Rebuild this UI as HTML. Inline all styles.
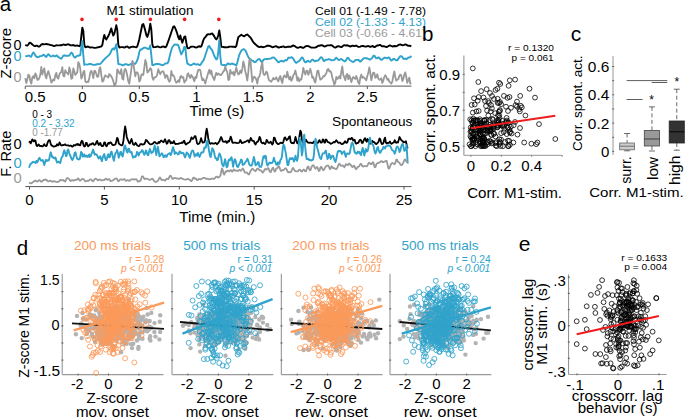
<!DOCTYPE html>
<html><head><meta charset="utf-8"><style>
html,body{margin:0;padding:0;background:#fff;}
svg{display:block;font-family:"Liberation Sans", sans-serif;}
</style></head><body>
<svg width="685" height="418" viewBox="0 0 685 418">
<rect width="685" height="418" fill="#fff"/>
<text x="-0.3" y="11.3" font-size="20.5" fill="#000" >a</text>
<text x="106.6" y="14.9" font-size="13.5" fill="#000" textLength="86.8" lengthAdjust="spacingAndGlyphs" >M1 stimulation</text>
<circle cx="82.0" cy="19.4" r="1.8" fill="#ee1c1c"/>
<circle cx="116.2" cy="19.4" r="1.8" fill="#ee1c1c"/>
<circle cx="150.4" cy="19.4" r="1.8" fill="#ee1c1c"/>
<circle cx="184.6" cy="19.4" r="1.8" fill="#ee1c1c"/>
<circle cx="218.8" cy="19.4" r="1.8" fill="#ee1c1c"/>
<text x="314.9" y="15.0" font-size="10" fill="#000" textLength="111.2" lengthAdjust="spacingAndGlyphs" >Cell 01 (-1.49 - 7.78)</text>
<text x="314.9" y="26.1" font-size="10" fill="#2fa3cb" textLength="111.2" lengthAdjust="spacingAndGlyphs" >Cell 02 (-1.33 - 4.13)</text>
<text x="314.9" y="37.2" font-size="10" fill="#999999" textLength="111.2" lengthAdjust="spacingAndGlyphs" >Cell 03 (-0.66 - 4.61)</text>
<polyline points="25.3,44.9 26.3,45.4 27.3,45.7 28.3,44.7 29.3,43.0 30.3,42.6 31.3,43.5 32.3,44.5 33.3,45.3 34.3,46.0 35.3,46.1 36.3,45.6 37.3,45.8 38.3,46.5 39.3,46.6 40.3,45.7 41.3,44.5 42.3,44.0 43.3,44.3 44.3,44.4 45.3,44.1 46.3,44.0 47.3,44.2 48.3,44.4 49.3,44.7 50.3,45.0 51.3,45.1 52.3,45.4 53.3,45.9 54.3,46.1 55.3,45.7 56.3,45.3 57.3,45.4 58.3,45.4 59.3,45.4 60.3,45.3 61.3,45.3 62.3,45.0 63.3,44.5 64.3,44.6 65.3,45.0 66.3,44.9 67.3,44.4 68.3,44.3 69.3,44.7 70.3,45.2 71.3,45.4 72.3,45.3 73.3,45.0 74.3,45.5 75.3,45.9 76.3,45.6 77.3,45.4 78.3,45.8 79.3,46.2 80.3,45.7 81.3,36.4 82.3,27.6 83.3,30.8 84.3,44.5 85.3,47.3 86.3,47.0 87.3,46.5 88.3,46.7 89.3,47.3 90.3,47.5 91.3,47.4 92.3,47.4 93.3,47.6 94.3,47.9 95.3,47.9 96.3,47.7 97.3,47.4 98.3,47.3 99.3,47.0 100.3,46.6 101.3,46.6 102.3,45.0 103.3,39.5 104.3,34.9 105.3,38.0 106.3,39.6 107.3,37.8 108.3,36.0 109.3,33.8 110.3,31.1 111.3,28.4 112.3,32.4 113.3,35.6 114.3,33.8 115.3,29.6 116.3,25.3 117.3,30.1 118.3,44.7 119.3,47.5 120.3,47.2 121.3,47.1 122.3,47.1 123.3,47.3 124.3,47.5 125.3,47.3 126.3,46.6 127.3,46.5 128.3,47.3 129.3,47.8 130.3,47.3 131.3,46.9 132.3,46.8 133.3,46.8 134.3,46.9 135.3,47.1 136.3,47.3 137.3,46.3 138.3,42.9 139.3,39.2 140.3,34.3 141.3,29.5 142.3,24.8 143.3,24.0 144.3,27.1 145.3,30.8 146.3,35.0 147.3,36.9 148.3,34.2 149.3,29.6 150.3,23.6 151.3,29.3 152.3,44.2 153.3,47.2 154.3,47.1 155.3,47.1 156.3,46.8 157.3,46.5 158.3,46.6 159.3,47.1 160.3,47.4 161.3,47.1 162.3,46.6 163.3,46.5 164.3,46.9 165.3,47.3 166.3,46.5 167.3,43.8 168.3,41.2 169.3,38.3 170.3,35.4 171.3,32.3 172.3,29.5 173.3,26.6 174.3,26.3 175.3,28.4 176.3,30.9 177.3,33.8 178.3,37.4 179.3,39.2 180.3,35.5 181.3,39.4 182.3,42.7 183.3,39.7 184.3,36.9 185.3,36.4 186.3,42.6 187.3,47.9 188.3,48.3 189.3,48.0 190.3,47.1 191.3,46.7 192.3,46.6 193.3,46.6 194.3,46.9 195.3,47.4 196.3,47.6 197.3,47.2 198.3,46.5 199.3,46.3 200.3,46.8 201.3,46.4 202.3,43.6 203.3,40.4 204.3,38.1 205.3,37.2 206.3,35.9 207.3,34.4 208.3,34.3 209.3,34.4 210.3,34.3 211.3,33.6 212.3,33.5 213.3,34.9 214.3,36.4 215.3,38.4 216.3,39.4 217.3,38.1 218.3,35.2 219.3,30.5 220.3,37.3 221.3,46.7 222.3,46.9 223.3,47.0 224.3,47.2 225.3,47.3 226.3,47.4 227.3,47.2 228.3,47.0 229.3,46.7 230.3,46.6 231.3,46.6 232.3,46.7 233.3,46.7 234.3,46.8 235.3,47.2 236.3,46.0 237.3,41.5 238.3,37.3 239.3,36.4 240.3,35.5 241.3,34.8 242.3,35.5 243.3,36.0 244.3,36.2 245.3,35.5 246.3,34.8 247.3,34.5 248.3,35.4 249.3,36.4 250.3,37.2 251.3,38.7 252.3,40.5 253.3,42.2 254.3,43.3 255.3,44.2 256.3,45.1 257.3,45.9 258.3,46.7 259.3,47.1 260.3,46.8 261.3,46.7 262.3,47.0 263.3,47.2 264.3,46.9 265.3,46.6 266.3,46.2 267.3,45.7 268.3,45.6 269.3,45.8 270.3,46.1 271.3,46.6 272.3,47.2 273.3,47.1 274.3,46.6 275.3,46.3 276.3,46.3 277.3,46.8 278.3,47.6 279.3,47.5 280.3,47.0 281.3,47.0 282.3,46.6 283.3,46.4 284.3,46.9 285.3,47.3 286.3,47.1 287.3,46.8 288.3,46.8 289.3,46.7 290.3,46.8 291.3,46.6 292.3,45.9 293.3,45.5 294.3,45.8 295.3,46.5 296.3,47.3 297.3,47.7 298.3,47.7 299.3,47.4 300.3,47.0 301.3,47.1 302.3,47.7 303.3,47.9 304.3,47.2 305.3,46.4 306.3,46.1 307.3,46.0 308.3,46.1 309.3,46.5 310.3,47.1 311.3,47.6 312.3,47.6 313.3,47.6 314.3,47.6 315.3,47.5 316.3,47.2 317.3,46.4 318.3,45.8 319.3,45.7 320.3,45.5 321.3,45.3 322.3,45.3 323.3,45.8 324.3,46.5 325.3,46.4 326.3,45.8 327.3,45.4 328.3,45.4 329.3,45.4 330.3,45.2 331.3,45.2 332.3,45.7 333.3,46.5 334.3,47.3 335.3,47.6 336.3,47.1 337.3,46.4 338.3,46.1 339.3,46.4 340.3,46.9 341.3,47.1 342.3,46.6 343.3,45.6 344.3,45.2 345.3,45.4 346.3,45.5 347.3,45.3 348.3,45.6 349.3,46.2 350.3,46.5 351.3,46.1 352.3,45.7 353.3,45.8 354.3,46.1 355.3,45.8 356.3,45.6 357.3,46.3 358.3,46.9 359.3,46.9 360.3,46.6 361.3,46.2 362.3,45.9 363.3,46.0 364.3,46.3 365.3,46.6 366.3,46.6 367.3,46.1 368.3,46.0 369.3,46.5 370.3,46.9 371.3,46.5 372.3,46.0 373.3,46.4 374.3,47.1 375.3,46.8 376.3,45.8 377.3,45.5 378.3,45.5 379.3,45.0 380.3,45.0 381.3,45.8 382.3,46.3 383.3,46.2 384.3,46.3 385.3,46.7 386.3,47.0 387.3,46.8 388.3,46.2 389.3,45.5 390.3,45.5 391.3,46.0 392.3,46.5 393.3,46.3 394.3,46.0 395.3,46.2 396.3,46.2 397.3,45.8 398.3,45.1 399.3,44.6 400.3,44.4 401.3,44.8 402.3,45.2 403.3,45.1 404.3,44.9 405.3,44.5 406.3,44.6 407.3,45.4 408.3,45.8 409.3,45.6 410.3,45.9 411.3,46.4" fill="none" stroke="#000" stroke-width="1.9" stroke-linejoin="round" />
<polyline points="25.3,55.9 26.3,56.2 27.3,56.1 28.3,55.6 29.3,55.5 30.3,56.7 31.3,56.6 32.3,54.0 33.3,52.4 34.3,53.4 35.3,55.4 36.3,56.7 37.3,57.2 38.3,57.1 39.3,56.5 40.3,56.1 41.3,56.0 42.3,55.7 43.3,54.8 44.3,55.0 45.3,56.4 46.3,56.9 47.3,55.3 48.3,54.2 49.3,55.0 50.3,56.1 51.3,56.5 52.3,56.0 53.3,55.4 54.3,56.3 55.3,56.4 56.3,55.3 57.3,55.9 58.3,57.1 59.3,57.5 60.3,58.4 61.3,58.8 62.3,57.3 63.3,55.7 64.3,55.3 65.3,55.8 66.3,55.8 67.3,55.7 68.3,55.9 69.3,55.6 70.3,54.0 71.3,52.6 72.3,53.2 73.3,55.7 74.3,57.3 75.3,57.5 76.3,56.5 77.3,55.7 78.3,55.8 79.3,55.3 80.3,55.2 81.3,46.9 82.3,41.3 83.3,55.1 84.3,64.8 85.3,64.4 86.3,64.4 87.3,64.6 88.3,64.4 89.3,64.0 90.3,63.9 91.3,64.1 92.3,64.6 93.3,64.9 94.3,64.8 95.3,64.9 96.3,64.5 97.3,64.2 98.3,64.0 99.3,64.1 100.3,63.9 101.3,62.8 102.3,61.6 103.3,60.5 104.3,59.4 105.3,58.3 106.3,57.4 107.3,56.7 108.3,55.7 109.3,54.6 110.3,53.2 111.3,51.0 112.3,49.0 113.3,48.4 114.3,49.6 115.3,47.5 116.3,44.2 117.3,52.9 118.3,63.8 119.3,64.3 120.3,64.4 121.3,64.6 122.3,65.3 123.3,65.3 124.3,64.6 125.3,64.2 126.3,64.2 127.3,64.6 128.3,65.0 129.3,64.9 130.3,64.2 131.3,63.8 132.3,63.5 133.3,63.4 134.3,63.7 135.3,63.8 136.3,62.3 137.3,60.2 138.3,56.9 139.3,52.3 140.3,49.5 141.3,49.6 142.3,48.9 143.3,48.1 144.3,47.6 145.3,47.6 146.3,48.1 147.3,48.5 148.3,49.1 149.3,48.4 150.3,45.5 151.3,55.2 152.3,65.1 153.3,65.1 154.3,64.7 155.3,64.2 156.3,64.0 157.3,63.9 158.3,64.0 159.3,64.2 160.3,64.4 161.3,64.8 162.3,65.2 163.3,65.0 164.3,64.2 165.3,63.5 166.3,63.4 167.3,63.4 168.3,62.0 169.3,57.9 170.3,53.8 171.3,50.0 172.3,47.2 173.3,46.0 174.3,44.6 175.3,44.5 176.3,44.8 177.3,44.6 178.3,45.3 179.3,48.4 180.3,51.7 181.3,54.4 182.3,52.5 183.3,50.4 184.3,46.8 185.3,47.2 186.3,57.3 187.3,63.6 188.3,64.0 189.3,64.7 190.3,65.3 191.3,65.1 192.3,64.5 193.3,63.9 194.3,63.5 195.3,64.1 196.3,64.6 197.3,64.3 198.3,64.3 199.3,65.0 200.3,65.1 201.3,63.4 202.3,61.8 203.3,60.6 204.3,58.5 205.3,55.3 206.3,52.3 207.3,49.3 208.3,46.4 209.3,45.9 210.3,48.0 211.3,49.1 212.3,50.6 213.3,53.3 214.3,56.0 215.3,57.8 216.3,59.4 217.3,58.6 218.3,51.9 219.3,40.2 220.3,56.3 221.3,64.4 222.3,65.0 223.3,65.1 224.3,64.9 225.3,65.4 226.3,65.1 227.3,63.9 228.3,63.4 229.3,64.1 230.3,64.4 231.3,63.7 232.3,63.5 233.3,64.1 234.3,64.3 235.3,65.0 236.3,65.5 237.3,62.6 238.3,58.5 239.3,54.8 240.3,52.6 241.3,50.7 242.3,49.8 243.3,49.2 244.3,49.5 245.3,50.4 246.3,52.3 247.3,54.8 248.3,56.9 249.3,58.6 250.3,59.2 251.3,59.9 252.3,60.9 253.3,61.0 254.3,62.1 255.3,62.1 256.3,61.2 257.3,60.0 258.3,59.2 259.3,59.0 260.3,60.0 261.3,61.8 262.3,61.7 263.3,60.0 264.3,59.2 265.3,59.1 266.3,59.0 267.3,59.2 268.3,58.9 269.3,58.7 270.3,58.6 271.3,58.3 272.3,57.6 273.3,57.4 274.3,57.9 275.3,58.8 276.3,59.8 277.3,61.2 278.3,62.3 279.3,62.0 280.3,61.1 281.3,60.8 282.3,61.0 283.3,61.6 284.3,60.9 285.3,60.0 286.3,60.5 287.3,59.7 288.3,57.7 289.3,57.6 290.3,57.8 291.3,57.3 292.3,57.5 293.3,58.8 294.3,60.5 295.3,62.2 296.3,62.9 297.3,62.1 298.3,61.5 299.3,60.9 300.3,59.7 301.3,58.0 302.3,57.4 303.3,58.8 304.3,61.2 305.3,62.4 306.3,62.0 307.3,60.9 308.3,60.8 309.3,61.9 310.3,61.9 311.3,60.5 312.3,59.6 313.3,60.0 314.3,61.2 315.3,61.2 316.3,60.7 317.3,60.7 318.3,60.3 319.3,59.1 320.3,57.7 321.3,57.1 322.3,58.0 323.3,60.4 324.3,61.2 325.3,59.9 326.3,59.6 327.3,59.7 328.3,59.3 329.3,59.2 330.3,59.6 331.3,60.2 332.3,60.1 333.3,60.1 334.3,60.0 335.3,58.7 336.3,57.7 337.3,58.6 338.3,59.9 339.3,60.0 340.3,59.4 341.3,59.0 342.3,59.7 343.3,60.6 344.3,61.2 345.3,61.3 346.3,59.7 347.3,57.9 348.3,58.0 349.3,59.6 350.3,60.5 351.3,61.0 352.3,61.6 353.3,62.0 354.3,61.4 355.3,60.2 356.3,60.0 357.3,59.9 358.3,59.7 359.3,60.9 360.3,61.6 361.3,60.9 362.3,59.7 363.3,58.8 364.3,58.1 365.3,58.1 366.3,58.3 367.3,58.5 368.3,58.8 369.3,59.5 370.3,59.5 371.3,58.6 372.3,57.7 373.3,56.0 374.3,55.6 375.3,57.2 376.3,58.4 377.3,58.1 378.3,57.4 379.3,57.9 380.3,59.2 381.3,59.9 382.3,59.4 383.3,58.6 384.3,57.7 385.3,57.6 386.3,58.1 387.3,58.2 388.3,57.4 389.3,57.7 390.3,59.4 391.3,60.6 392.3,60.0 393.3,59.0 394.3,58.9 395.3,59.7 396.3,60.4 397.3,60.4 398.3,58.9 399.3,57.2 400.3,56.3 401.3,56.1 402.3,57.0 403.3,58.7 404.3,58.9 405.3,58.5 406.3,59.1 407.3,58.5 408.3,57.5 409.3,57.6 410.3,57.2 411.3,55.9" fill="none" stroke="#2fa3cb" stroke-width="1.9" stroke-linejoin="round" />
<polyline points="25.3,78.1 26.3,83.0 27.3,79.7 28.3,74.6 29.3,75.5 30.3,80.6 31.3,83.7 32.3,77.5 33.3,76.1 34.3,78.3 35.3,73.5 36.3,74.9 37.3,79.9 38.3,79.7 39.3,78.0 40.3,74.8 41.3,67.0 42.3,74.5 43.3,71.0 44.3,68.4 45.3,75.6 46.3,78.3 47.3,73.7 48.3,71.1 49.3,74.5 50.3,77.8 51.3,82.6 52.3,81.3 53.3,79.5 54.3,80.4 55.3,75.4 56.3,72.9 57.3,77.7 58.3,78.7 59.3,74.8 60.3,72.7 61.3,72.1 62.3,67.2 63.3,75.7 64.3,76.4 65.3,70.1 66.3,72.5 67.3,73.0 68.3,74.6 69.3,67.5 70.3,70.5 71.3,78.8 72.3,78.3 73.3,68.3 74.3,71.2 75.3,75.1 76.3,73.6 77.3,72.4 78.3,62.1 79.3,63.9 80.3,69.0 81.3,78.6 82.3,76.9 83.3,72.1 84.3,70.9 85.3,81.2 86.3,82.4 87.3,81.7 88.3,82.0 89.3,78.0 90.3,72.7 91.3,70.7 92.3,73.3 93.3,78.0 94.3,71.0 95.3,71.0 96.3,74.0 97.3,77.0 98.3,76.5 99.3,69.2 100.3,67.2 101.3,75.0 102.3,81.7 103.3,80.9 104.3,77.4 105.3,75.3 106.3,76.3 107.3,76.4 108.3,77.6 109.3,74.0 110.3,75.1 111.3,76.3 112.3,78.3 113.3,81.3 114.3,85.0 115.3,84.7 116.3,81.2 117.3,69.4 118.3,70.8 119.3,73.4 120.3,73.8 121.3,69.2 122.3,78.7 123.3,79.7 124.3,70.7 125.3,68.9 126.3,71.2 127.3,75.8 128.3,81.3 129.3,83.7 130.3,76.6 131.3,69.7 132.3,61.0 133.3,62.8 134.3,69.8 135.3,76.3 136.3,72.3 137.3,72.4 138.3,74.4 139.3,81.5 140.3,80.0 141.3,75.0 142.3,74.1 143.3,75.0 144.3,67.7 145.3,60.0 146.3,62.9 147.3,72.5 148.3,71.6 149.3,70.1 150.3,68.1 151.3,69.5 152.3,77.1 153.3,79.8 154.3,77.5 155.3,77.3 156.3,76.8 157.3,74.2 158.3,69.2 159.3,71.8 160.3,74.2 161.3,72.0 162.3,71.5 163.3,71.3 164.3,74.4 165.3,78.0 166.3,75.1 167.3,75.8 168.3,79.7 169.3,81.7 170.3,80.5 171.3,71.0 172.3,75.5 173.3,75.1 174.3,76.9 175.3,80.8 176.3,82.7 177.3,81.8 178.3,80.2 179.3,82.0 180.3,76.7 181.3,75.9 182.3,77.9 183.3,77.1 184.3,82.6 185.3,80.8 186.3,80.1 187.3,74.6 188.3,73.3 189.3,76.5 190.3,78.0 191.3,74.9 192.3,76.5 193.3,78.4 194.3,81.2 195.3,76.8 196.3,78.0 197.3,73.1 198.3,69.8 199.3,69.7 200.3,70.1 201.3,75.9 202.3,80.2 203.3,78.8 204.3,80.8 205.3,83.5 206.3,79.4 207.3,76.4 208.3,72.5 209.3,69.8 210.3,73.8 211.3,70.5 212.3,75.8 213.3,78.0 214.3,80.0 215.3,75.8 216.3,72.8 217.3,75.0 218.3,73.5 219.3,74.1 220.3,75.2 221.3,74.8 222.3,73.4 223.3,71.5 224.3,70.5 225.3,66.4 226.3,70.2 227.3,72.1 228.3,80.0 229.3,79.4 230.3,69.9 231.3,73.2 232.3,73.7 233.3,71.9 234.3,75.4 235.3,71.8 236.3,67.4 237.3,71.7 238.3,74.5 239.3,73.8 240.3,70.5 241.3,73.0 242.3,68.9 243.3,61.4 244.3,65.1 245.3,71.4 246.3,75.0 247.3,80.5 248.3,72.2 249.3,60.4 250.3,59.3 251.3,70.1 252.3,81.8 253.3,77.8 254.3,76.6 255.3,77.8 256.3,79.4 257.3,83.6 258.3,77.5 259.3,76.8 260.3,72.9 261.3,66.3 262.3,62.6 263.3,73.5 264.3,75.0 265.3,74.1 266.3,71.6 267.3,72.8 268.3,77.9 269.3,80.7 270.3,81.0 271.3,81.7 272.3,79.8 273.3,77.9 274.3,79.4 275.3,78.8 276.3,77.2 277.3,79.8 278.3,81.4 279.3,77.9 280.3,76.0 281.3,80.2 282.3,83.0 283.3,77.4 284.3,75.4 285.3,76.7 286.3,77.7 287.3,71.7 288.3,76.5 289.3,79.5 290.3,76.6 291.3,80.8 292.3,79.0 293.3,75.1 294.3,74.2 295.3,70.5 296.3,74.5 297.3,80.5 298.3,77.5 299.3,81.4 300.3,79.3 301.3,79.5 302.3,74.8 303.3,68.0 304.3,71.7 305.3,74.5 306.3,70.9 307.3,70.7 308.3,74.9 309.3,72.3 310.3,68.9 311.3,72.9 312.3,77.8 313.3,77.0 314.3,80.9 315.3,82.6 316.3,76.9 317.3,71.1 318.3,70.6 319.3,75.8 320.3,79.7 321.3,79.1 322.3,78.2 323.3,76.0 324.3,76.4 325.3,74.8 326.3,73.2 327.3,69.7 328.3,68.9 329.3,71.5 330.3,71.0 331.3,72.7 332.3,77.7 333.3,80.6 334.3,84.7 335.3,82.6 336.3,76.8 337.3,79.0 338.3,78.0 339.3,76.1 340.3,78.5 341.3,71.7 342.3,66.4 343.3,75.0 344.3,77.2 345.3,80.3 346.3,75.0 347.3,73.9 348.3,79.3 349.3,75.3 350.3,78.1 351.3,82.1 352.3,79.0 353.3,77.0 354.3,78.1 355.3,78.9 356.3,76.0 357.3,78.9 358.3,82.5 359.3,84.0 360.3,77.7 361.3,74.5 362.3,77.9 363.3,76.9 364.3,77.8 365.3,79.2 366.3,80.4 367.3,76.0 368.3,72.9 369.3,67.3 370.3,72.8 371.3,80.2 372.3,75.7 373.3,72.6 374.3,72.9 375.3,77.8 376.3,77.0 377.3,74.3 378.3,78.4 379.3,79.8 380.3,79.5 381.3,78.2 382.3,83.0 383.3,80.6 384.3,76.9 385.3,75.2 386.3,76.9 387.3,79.7 388.3,78.9 389.3,81.6 390.3,82.4 391.3,83.6 392.3,81.7 393.3,76.0 394.3,71.3 395.3,77.1 396.3,80.7 397.3,79.7 398.3,79.1 399.3,76.1 400.3,74.6 401.3,75.5 402.3,81.2 403.3,79.1 404.3,74.6 405.3,72.4 406.3,77.2 407.3,82.8 408.3,80.2 409.3,77.7 410.3,83.5 411.3,84.1" fill="none" stroke="#999999" stroke-width="1.8" stroke-linejoin="round" />
<text x="11.4" y="53.3" font-size="15.5" fill="#000" text-anchor="middle" textLength="50.6" lengthAdjust="spacingAndGlyphs" transform="rotate(-90 11.4 53.3)" >Z-score</text>
<text x="13.5" y="50.2" font-size="14.5" fill="#000" textLength="8.0" lengthAdjust="spacingAndGlyphs" >0</text>
<text x="13.5" y="60.5" font-size="14.5" fill="#2fa3cb" textLength="8.0" lengthAdjust="spacingAndGlyphs" >0</text>
<text x="13.5" y="81.6" font-size="14.5" fill="#999999" textLength="8.0" lengthAdjust="spacingAndGlyphs" >0</text>
<line x1="25.30" y1="86.10" x2="411.40" y2="86.10" stroke="#555555" stroke-width="1" />
<line x1="25.30" y1="86.10" x2="25.30" y2="89.10" stroke="#555555" stroke-width="1" />
<text x="24.7" y="102.4" font-size="15" fill="#000" >0.5</text>
<line x1="82.30" y1="86.10" x2="82.30" y2="89.10" stroke="#555555" stroke-width="1" />
<text x="82.3" y="102.4" font-size="15" fill="#000" text-anchor="middle" >0</text>
<line x1="139.30" y1="86.10" x2="139.30" y2="89.10" stroke="#555555" stroke-width="1" />
<text x="139.3" y="102.4" font-size="15" fill="#000" text-anchor="middle" >0.5</text>
<line x1="196.30" y1="86.10" x2="196.30" y2="89.10" stroke="#555555" stroke-width="1" />
<text x="196.3" y="102.4" font-size="15" fill="#000" text-anchor="middle" >1</text>
<line x1="253.30" y1="86.10" x2="253.30" y2="89.10" stroke="#555555" stroke-width="1" />
<text x="253.3" y="102.4" font-size="15" fill="#000" text-anchor="middle" >1.5</text>
<line x1="310.30" y1="86.10" x2="310.30" y2="89.10" stroke="#555555" stroke-width="1" />
<text x="310.3" y="102.4" font-size="15" fill="#000" text-anchor="middle" >2</text>
<line x1="367.30" y1="86.10" x2="367.30" y2="89.10" stroke="#555555" stroke-width="1" />
<text x="367.3" y="102.4" font-size="15" fill="#000" text-anchor="middle" >2.5</text>
<text x="189.6" y="116.3" font-size="15" fill="#000" textLength="54.6" lengthAdjust="spacingAndGlyphs" >Time (s)</text>
<text x="32.2" y="118.4" font-size="10" fill="#000" textLength="19.9" lengthAdjust="spacingAndGlyphs" >0 - 3</text>
<text x="32.2" y="127.0" font-size="10" fill="#2fa3cb" textLength="42.4" lengthAdjust="spacingAndGlyphs" >0.2 - 3.32</text>
<text x="32.2" y="135.6" font-size="10" fill="#999999" textLength="30.6" lengthAdjust="spacingAndGlyphs" >0 -1.77</text>
<text x="332.1" y="126.1" font-size="13.5" fill="#000" textLength="80.2" lengthAdjust="spacingAndGlyphs" >Spontaneous</text>
<text x="11.3" y="153.8" font-size="15" fill="#000" text-anchor="middle" textLength="46.0" lengthAdjust="spacingAndGlyphs" transform="rotate(-90 11.3 153.8)" >F. Rate</text>
<text x="13.4" y="148.6" font-size="15" fill="#000" textLength="8.2" lengthAdjust="spacingAndGlyphs" >0</text>
<text x="13.4" y="168.4" font-size="15" fill="#2fa3cb" textLength="8.2" lengthAdjust="spacingAndGlyphs" >0</text>
<text x="13.4" y="183.4" font-size="15" fill="#999999" textLength="8.2" lengthAdjust="spacingAndGlyphs" >0</text>
<polyline points="29.1,142.8 29.9,141.6 30.7,143.4 31.5,141.8 32.3,139.3 33.1,140.4 33.9,141.4 34.7,140.3 35.5,140.8 36.3,144.7 37.1,146.1 37.9,145.4 38.7,144.4 39.5,145.8 40.3,146.1 41.1,145.9 41.9,146.3 42.7,146.3 43.5,145.5 44.3,144.1 45.1,145.6 45.9,146.1 46.7,145.8 47.5,142.9 48.3,141.1 49.1,140.2 49.9,140.4 50.7,143.9 51.5,145.5 52.3,145.6 53.1,146.4 53.9,146.7 54.7,146.4 55.5,146.2 56.3,145.7 57.1,144.3 57.9,145.4 58.7,145.0 59.5,142.4 60.3,143.8 61.1,145.3 61.9,145.5 62.7,145.1 63.5,145.0 64.3,144.9 65.1,144.3 65.9,145.2 66.7,145.4 67.5,145.3 68.3,145.3 69.1,145.9 69.9,145.8 70.7,145.5 71.5,146.0 72.3,146.7 73.1,146.2 73.9,145.0 74.7,145.3 75.5,145.4 76.3,144.4 77.1,143.9 77.9,145.0 78.7,144.3 79.5,145.3 80.3,145.3 81.1,142.2 81.9,140.8 82.7,141.7 83.5,145.1 84.3,146.5 85.1,146.1 85.9,142.9 86.7,142.8 87.5,145.5 88.3,146.2 89.1,145.4 89.9,144.2 90.7,144.5 91.5,144.4 92.3,143.3 93.1,143.2 93.9,144.7 94.7,144.9 95.5,144.3 96.3,142.3 97.1,140.9 97.9,143.2 98.7,145.0 99.5,143.9 100.3,142.9 101.1,145.2 101.9,146.1 102.7,146.2 103.5,145.1 104.3,142.3 105.1,142.6 105.9,145.7 106.7,146.2 107.5,144.6 108.3,142.9 109.1,143.7 109.9,142.6 110.7,142.3 111.5,143.4 112.3,144.7 113.1,145.1 113.9,145.0 114.7,144.8 115.5,144.3 116.3,141.6 117.1,137.8 117.9,139.0 118.7,143.1 119.5,144.2 120.3,144.6 121.1,145.2 121.9,145.5 122.7,144.5 123.5,140.2 124.3,132.3 125.1,126.5 125.9,130.5 126.7,136.7 127.5,139.2 128.3,141.0 129.1,143.0 129.9,143.5 130.7,141.0 131.5,139.0 132.3,141.7 133.1,144.3 133.9,144.9 134.7,144.4 135.5,142.8 136.3,143.9 137.1,145.3 137.9,145.8 138.7,146.2 139.5,145.7 140.3,144.2 141.1,144.0 141.9,144.4 142.7,144.5 143.5,144.4 144.3,144.0 145.1,142.5 145.9,140.0 146.7,140.4 147.5,141.4 148.3,142.4 149.1,143.4 149.9,144.1 150.7,144.4 151.5,144.2 152.3,143.9 153.1,143.5 153.9,142.3 154.7,142.0 155.5,142.5 156.3,143.5 157.1,143.7 157.9,143.3 158.7,142.0 159.5,142.8 160.3,141.5 161.1,140.5 161.9,141.1 162.7,141.8 163.5,142.3 164.3,140.7 165.1,139.3 165.9,141.5 166.7,143.7 167.5,143.2 168.3,140.5 169.1,140.1 169.9,141.3 170.7,143.3 171.5,142.2 172.3,143.1 173.1,142.9 173.9,141.0 174.7,143.2 175.5,144.0 176.3,143.9 177.1,143.8 177.9,143.9 178.7,143.6 179.5,143.3 180.3,143.2 181.1,143.1 181.9,142.4 182.7,142.9 183.5,141.3 184.3,140.7 185.1,143.4 185.9,144.5 186.7,144.0 187.5,143.2 188.3,143.0 189.1,142.4 189.9,141.7 190.7,139.8 191.5,137.4 192.3,138.8 193.1,138.9 193.9,137.6 194.7,136.1 195.5,136.1 196.3,139.6 197.1,143.4 197.9,144.1 198.7,143.7 199.5,143.2 200.3,141.0 201.1,138.2 201.9,140.9 202.7,142.6 203.5,142.5 204.3,142.2 205.1,140.1 205.9,132.8 206.7,128.7 207.5,133.0 208.3,138.6 209.1,142.0 209.9,143.5 210.7,143.8 211.5,143.1 212.3,143.2 213.1,143.6 213.9,143.6 214.7,143.3 215.5,142.9 216.3,143.5 217.1,144.2 217.9,143.4 218.7,142.2 219.5,141.1 220.3,138.8 221.1,137.0 221.9,138.6 222.7,141.3 223.5,141.6 224.3,141.9 225.1,141.4 225.9,141.2 226.7,142.8 227.5,142.5 228.3,140.9 229.1,141.4 229.9,139.3 230.7,136.6 231.5,138.7 232.3,142.4 233.1,142.9 233.9,142.7 234.7,142.6 235.5,142.7 236.3,142.8 237.1,143.2 237.9,143.0 238.7,142.8 239.5,142.4 240.3,140.0 241.1,141.4 241.9,143.2 242.7,143.0 243.5,142.4 244.3,142.3 245.1,141.8 245.9,141.6 246.7,141.1 247.5,140.5 248.3,140.4 249.1,142.4 249.9,140.5 250.7,137.9 251.5,139.3 252.3,140.8 253.1,140.8 253.9,141.0 254.7,143.5 255.5,144.5 256.3,142.9 257.1,141.9 257.9,141.7 258.7,139.9 259.5,136.9 260.3,138.0 261.1,141.9 261.9,143.0 262.7,143.3 263.5,142.7 264.3,143.4 265.1,144.1 265.9,142.6 266.7,139.8 267.5,141.1 268.3,142.6 269.1,142.9 269.9,142.5 270.7,141.7 271.5,143.3 272.3,144.6 273.1,143.2 273.9,137.6 274.7,137.8 275.5,140.4 276.3,142.5 277.1,143.2 277.9,144.1 278.7,144.1 279.5,143.5 280.3,142.9 281.1,142.7 281.9,143.1 282.7,143.2 283.5,141.3 284.3,138.2 285.1,137.3 285.9,138.9 286.7,140.2 287.5,139.3 288.3,138.7 289.1,136.7 289.9,136.3 290.7,141.8 291.5,143.0 292.3,142.9 293.1,143.3 293.9,143.1 294.7,140.8 295.5,137.0 296.3,139.8 297.1,143.1 297.9,143.5 298.7,140.9 299.5,135.7 300.3,130.6 301.1,131.9 301.9,139.5 302.7,142.6 303.5,143.0 304.3,142.7 305.1,141.1 305.9,139.6 306.7,141.1 307.5,142.2 308.3,142.7 309.1,142.8 309.9,142.6 310.7,142.6 311.5,142.8 312.3,143.1 313.1,142.8 313.9,141.5 314.7,142.5 315.5,143.4 316.3,143.4 317.1,143.3 317.9,142.8 318.7,140.9 319.5,140.2 320.3,142.1 321.1,142.7 321.9,142.4 322.7,139.5 323.5,139.7 324.3,142.5 325.1,142.6 325.9,139.3 326.7,140.2 327.5,141.7 328.3,142.3 329.1,142.4 329.9,143.1 330.7,143.8 331.5,143.5 332.3,143.1 333.1,142.6 333.9,141.9 334.7,142.4 335.5,141.4 336.3,140.3 337.1,141.1 337.9,142.5 338.7,142.8 339.5,142.6 340.3,142.7 341.1,143.7 341.9,144.2 342.7,144.0 343.5,143.3 344.3,142.5 345.1,141.3 345.9,142.4 346.7,142.9 347.5,141.9 348.3,139.0 349.1,138.7 349.9,138.7 350.7,139.3 351.5,138.0 352.3,138.1 353.1,140.5 353.9,140.2 354.7,139.8 355.5,143.1 356.3,143.7 357.1,142.9 357.9,143.0 358.7,142.2 359.5,140.3 360.3,139.7 361.1,140.5 361.9,142.9 362.7,142.9 363.5,140.9 364.3,139.0 365.1,138.1 365.9,140.5 366.7,141.7 367.5,139.0 368.3,139.9 369.1,142.8 369.9,143.7 370.7,143.6 371.5,142.5 372.3,140.9 373.1,142.0 373.9,141.9 374.7,142.6 375.5,143.7 376.3,144.1 377.1,143.3 377.9,142.6 378.7,141.2 379.5,138.5 380.3,139.3 381.1,142.6 381.9,144.0 382.7,143.9 383.5,142.8 384.3,139.3 385.1,137.6 385.9,142.6 386.7,143.5 387.5,142.9 388.3,143.0 389.1,142.7 389.9,141.4 390.7,143.1 391.5,143.8 392.3,143.2 393.1,142.8 393.9,142.4 394.7,140.2 395.5,142.0 396.3,142.8 397.1,142.1 397.9,142.5 398.7,139.9 399.5,137.0 400.3,138.4 401.1,139.9 401.9,140.7 402.7,141.1 403.5,142.5 404.3,142.2 405.1,141.8 405.9,141.3 406.6,144.5 407.0,146.5 407.7,148.4" fill="none" stroke="#000" stroke-width="1.8" stroke-linejoin="round" />
<polyline points="29.1,167.8 29.9,165.1 30.7,163.7 31.5,163.5 32.3,162.4 33.1,161.9 33.9,162.0 34.7,162.4 35.5,162.9 36.3,161.0 37.1,162.5 37.9,161.1 38.7,158.8 39.5,157.8 40.3,159.5 41.1,160.6 41.9,160.6 42.7,159.9 43.5,162.2 44.3,165.0 45.1,162.3 45.9,159.8 46.7,160.9 47.5,160.3 48.3,160.6 49.1,159.8 49.9,155.6 50.7,152.3 51.5,154.9 52.3,157.4 53.1,157.0 53.9,158.2 54.7,158.5 55.5,157.4 56.3,160.4 57.1,162.6 57.9,162.0 58.7,161.7 59.5,162.6 60.3,163.0 61.1,159.1 61.9,157.0 62.7,156.3 63.5,152.6 64.3,150.3 65.1,152.5 65.9,156.1 66.7,155.6 67.5,150.7 68.3,149.4 69.1,152.8 69.9,155.0 70.7,156.5 71.5,158.9 72.3,160.0 73.1,158.6 73.9,156.5 74.7,152.8 75.5,152.3 76.3,156.0 77.1,158.6 77.9,159.3 78.7,159.3 79.5,159.4 80.3,156.9 81.1,152.0 81.9,152.9 82.7,156.6 83.5,156.3 84.3,154.3 85.1,156.7 85.9,155.9 86.7,155.5 87.5,157.0 88.3,156.6 89.1,154.5 89.9,156.9 90.7,156.2 91.5,153.8 92.3,152.0 93.1,149.6 93.9,152.1 94.7,154.7 95.5,154.0 96.3,154.3 97.1,155.4 97.9,157.0 98.7,158.5 99.5,156.9 100.3,156.3 101.1,159.2 101.9,161.2 102.7,157.8 103.5,155.3 104.3,154.1 105.1,158.2 105.9,160.1 106.7,159.6 107.5,156.0 108.3,154.2 109.1,157.3 109.9,157.1 110.7,152.7 111.5,151.5 112.3,154.8 113.1,158.1 113.9,160.8 114.7,156.1 115.5,153.2 116.3,152.3 117.1,150.1 117.9,152.9 118.7,157.7 119.5,155.6 120.3,152.2 121.1,151.9 121.9,155.5 122.7,156.5 123.5,152.6 124.3,146.7 125.1,145.5 125.9,148.6 126.7,151.6 127.5,152.5 128.3,148.6 129.1,148.8 129.9,151.9 130.7,152.5 131.5,151.9 132.3,155.1 133.1,157.7 133.9,156.9 134.7,156.4 135.5,156.9 136.3,154.8 137.1,151.8 137.9,153.7 138.7,155.6 139.5,152.7 140.3,152.5 141.1,151.9 141.9,150.2 142.7,150.6 143.5,153.3 144.3,154.8 145.1,153.3 145.9,150.4 146.7,152.0 147.5,154.9 148.3,155.2 149.1,151.5 149.9,149.0 150.7,151.2 151.5,153.2 152.3,152.1 153.1,151.9 153.9,149.1 154.7,145.4 155.5,149.0 156.3,155.1 157.1,150.4 157.9,146.6 158.7,151.2 159.5,156.3 160.3,155.4 161.1,154.3 161.9,153.3 162.7,154.5 163.5,157.2 164.3,156.7 165.1,155.3 165.9,156.7 166.7,156.7 167.5,154.4 168.3,154.0 169.1,153.5 169.9,153.2 170.7,155.1 171.5,153.1 172.3,149.6 173.1,147.1 173.9,149.7 174.7,154.0 175.5,152.3 176.3,152.7 177.1,153.2 177.9,154.5 178.7,154.1 179.5,151.5 180.3,151.6 181.1,153.0 181.9,153.3 182.7,152.8 183.5,153.1 184.3,155.7 185.1,157.4 185.9,155.1 186.7,152.4 187.5,153.3 188.3,154.2 189.1,156.3 189.9,157.8 190.7,154.5 191.5,151.9 192.3,150.4 193.1,150.8 193.9,153.0 194.7,156.5 195.5,155.0 196.3,154.1 197.1,155.7 197.9,152.9 198.7,155.0 199.5,156.9 200.3,155.3 201.1,152.9 201.9,152.2 202.7,152.6 203.5,151.9 204.3,147.4 205.1,148.0 205.9,147.3 206.7,142.0 207.5,140.5 208.3,146.1 209.1,150.9 209.9,155.5 210.7,157.1 211.5,152.6 212.3,148.2 213.1,149.4 213.9,151.3 214.7,155.5 215.5,158.3 216.3,158.2 217.1,160.2 217.9,159.7 218.7,155.7 219.5,153.4 220.3,155.2 221.1,157.5 221.9,163.5 222.7,165.4 223.5,166.3 224.3,162.8 225.1,159.2 225.9,163.3 226.7,167.2 227.5,166.6 228.3,161.2 229.1,159.5 229.9,160.4 230.7,158.4 231.5,157.2 232.3,161.1 233.1,166.7 233.9,162.6 234.7,159.1 235.5,160.3 236.3,163.4 237.1,166.6 237.9,167.0 238.7,165.5 239.5,163.5 240.3,162.0 241.1,159.5 241.9,160.2 242.7,165.1 243.5,164.4 244.3,164.1 245.1,162.5 245.9,161.5 246.7,160.2 247.5,158.7 248.3,161.0 249.1,163.9 249.9,165.3 250.7,165.5 251.5,165.6 252.3,163.9 253.1,160.4 253.9,157.0 254.7,160.4 255.5,165.3 256.3,164.9 257.1,164.0 257.9,162.0 258.7,162.6 259.5,166.9 260.3,166.9 261.1,166.9 261.9,164.5 262.7,159.6 263.5,156.3 264.3,157.8 265.1,155.7 265.9,156.3 266.7,163.3 267.5,165.6 268.3,164.5 269.1,162.9 269.9,162.5 270.7,163.2 271.5,163.0 272.3,162.9 273.1,161.2 273.9,157.7 274.7,160.8 275.5,162.2 276.3,164.6 277.1,164.8 277.9,162.2 278.7,163.7 279.5,163.7 280.3,160.3 281.1,159.2 281.9,156.8 282.7,149.0 283.5,144.5 284.3,145.7 285.1,149.9 285.9,153.6 286.7,159.3 287.5,165.0 288.3,165.1 289.1,160.7 289.9,158.2 290.7,159.1 291.5,159.1 292.3,157.9 293.1,158.9 293.9,161.5 294.7,159.8 295.5,155.7 296.3,159.2 297.1,160.8 297.9,157.4 298.7,146.3 299.5,138.0 300.3,140.0 301.1,145.8 301.9,155.4 302.7,150.9 303.5,137.2 304.3,134.6 305.1,145.9 305.9,154.0 306.7,159.0 307.5,159.2 308.3,158.8 309.1,160.1 309.9,159.9 310.7,160.4 311.5,160.5 312.3,159.8 313.1,159.5 313.9,155.0 314.7,144.4 315.5,138.7 316.3,141.8 317.1,147.5 317.9,150.0 318.7,153.2 319.5,156.5 320.3,158.4 321.1,159.1 321.9,155.5 322.7,153.5 323.5,153.3 324.3,153.3 325.1,151.6 325.9,150.7 326.7,155.2 327.5,159.0 328.3,157.8 329.1,153.8 329.9,155.5 330.7,159.0 331.5,157.0 332.3,155.6 333.1,155.9 333.9,158.3 334.7,160.6 335.5,161.9 336.3,158.7 337.1,154.8 337.9,151.3 338.7,151.0 339.5,151.3 340.3,151.0 341.1,151.5 341.9,154.1 342.7,152.6 343.5,151.9 344.3,151.3 345.1,154.7 345.9,156.8 346.7,153.6 347.5,153.4 348.3,153.7 349.1,154.0 349.9,152.7 350.7,148.2 351.5,143.9 352.3,142.4 353.1,144.4 353.9,148.3 354.7,152.5 355.5,152.4 356.3,153.8 357.1,153.3 357.9,151.5 358.7,152.7 359.5,151.9 360.3,154.2 361.1,155.1 361.9,150.6 362.7,148.0 363.5,150.8 364.3,155.5 365.1,151.7 365.9,149.0 366.7,151.6 367.5,151.2 368.3,148.2 369.1,142.0 369.9,137.6 370.7,140.5 371.5,143.4 372.3,143.8 373.1,145.1 373.9,147.8 374.7,152.1 375.5,153.4 376.3,151.7 377.1,148.2 377.9,146.9 378.7,150.0 379.5,152.4 380.3,152.8 381.1,150.8 381.9,149.8 382.7,149.2 383.5,146.8 384.3,147.1 385.1,148.5 385.9,146.3 386.7,146.1 387.5,145.9 388.3,145.2 389.1,145.9 389.9,145.6 390.7,147.0 391.5,148.6 392.3,150.4 393.1,150.6 393.9,151.4 394.7,153.8 395.5,151.5 396.3,147.8 397.1,146.5 397.9,147.0 398.7,148.6 399.5,152.1 400.3,150.7 401.1,147.0 401.9,144.6 402.7,144.0 403.5,146.9 404.3,150.8 405.1,150.4 405.9,147.7 406.6,145.0 407.0,152.0 407.7,163.5" fill="none" stroke="#2fa3cb" stroke-width="1.9" stroke-linejoin="round" />
<polyline points="29.1,182.4 29.9,182.9 30.7,183.4 31.5,183.2 32.3,182.6 33.1,182.0 33.9,181.3 34.7,180.9 35.5,180.6 36.3,181.1 37.1,181.7 37.9,181.3 38.7,180.4 39.5,180.1 40.3,180.7 41.1,181.7 41.9,181.6 42.7,180.6 43.5,180.0 44.3,180.0 45.1,179.6 45.9,179.5 46.7,180.2 47.5,181.0 48.3,181.3 49.1,181.2 49.9,180.8 50.7,180.7 51.5,181.4 52.3,181.8 53.1,181.5 53.9,181.2 54.7,181.3 55.5,181.7 56.3,181.9 57.1,181.9 57.9,181.9 58.7,181.7 59.5,180.8 60.3,180.0 61.1,180.1 61.9,180.3 62.7,180.0 63.5,180.2 64.3,181.1 65.1,181.5 65.9,180.1 66.7,178.3 67.5,178.0 68.3,178.4 69.1,178.9 69.9,180.2 70.7,181.1 71.5,180.6 72.3,180.1 73.1,180.5 73.9,180.5 74.7,180.1 75.5,179.8 76.3,179.9 77.1,179.5 77.9,178.4 78.7,178.8 79.5,180.4 80.3,180.7 81.1,179.8 81.9,179.1 82.7,179.0 83.5,179.1 84.3,180.0 85.1,181.2 85.9,181.3 86.7,181.0 87.5,180.7 88.3,180.8 89.1,180.5 89.9,179.5 90.7,179.3 91.5,179.9 92.3,180.8 93.1,181.3 93.9,180.4 94.7,179.1 95.5,178.7 96.3,178.8 97.1,179.6 97.9,180.4 98.7,179.9 99.5,179.5 100.3,179.7 101.1,180.3 101.9,180.4 102.7,180.2 103.5,180.2 104.3,180.1 105.1,179.2 105.9,178.6 106.7,179.1 107.5,179.9 108.3,179.5 109.1,179.0 109.9,180.0 110.7,181.2 111.5,181.0 112.3,180.6 113.1,180.2 113.9,179.5 114.7,178.9 115.5,178.7 116.3,178.4 117.1,179.0 117.9,180.8 118.7,181.1 119.5,180.1 120.3,179.3 121.1,179.3 121.9,179.8 122.7,179.8 123.5,179.3 124.3,179.0 125.1,180.0 125.9,180.9 126.7,180.5 127.5,180.2 128.3,180.4 129.1,180.8 129.9,180.6 130.7,179.8 131.5,179.3 132.3,179.3 133.1,179.3 133.9,179.2 134.7,179.5 135.5,179.4 136.3,179.2 137.1,180.3 137.9,181.7 138.7,181.5 139.5,181.1 140.3,180.8 141.1,178.8 141.9,176.6 142.7,176.2 143.5,177.3 144.3,178.8 145.1,179.1 145.9,178.5 146.7,178.7 147.5,178.8 148.3,179.3 149.1,179.8 149.9,179.8 150.7,179.5 151.5,179.0 152.3,178.7 153.1,179.5 153.9,180.6 154.7,181.6 155.5,182.1 156.3,181.7 157.1,181.2 157.9,180.8 158.7,179.4 159.5,177.7 160.3,177.7 161.1,179.3 161.9,180.2 162.7,180.0 163.5,179.7 164.3,180.2 165.1,180.6 165.9,179.7 166.7,178.6 167.5,178.8 168.3,179.1 169.1,177.5 169.9,175.8 170.7,175.7 171.5,177.2 172.3,178.8 173.1,178.9 173.9,178.1 174.7,177.8 175.5,178.2 176.3,178.5 177.1,178.4 177.9,178.4 178.7,178.9 179.5,178.9 180.3,178.0 181.1,177.9 181.9,178.4 182.7,179.0 183.5,179.2 184.3,179.5 185.1,179.7 185.9,179.7 186.7,179.3 187.5,178.8 188.3,179.1 189.1,179.4 189.9,180.0 190.7,180.8 191.5,181.1 192.3,179.9 193.1,177.9 193.9,177.7 194.7,178.5 195.5,178.5 196.3,179.2 197.1,180.2 197.9,179.8 198.7,179.0 199.5,179.1 200.3,179.4 201.1,179.2 201.9,178.8 202.7,178.2 203.5,177.8 204.3,177.9 205.1,178.2 205.9,178.8 206.7,178.9 207.5,178.7 208.3,179.0 209.1,179.3 209.9,179.2 210.7,179.1 211.5,178.7 212.3,178.5 213.1,178.7 213.9,179.0 214.7,178.4 215.5,177.2 216.3,176.7 217.1,176.7 217.9,177.5 218.7,177.4 219.5,176.6 220.3,175.8 221.1,172.3 221.9,168.4 222.7,169.8 223.5,173.7 224.3,174.6 225.1,172.5 225.9,171.4 226.7,171.7 227.5,170.6 228.3,170.7 229.1,171.4 229.9,170.9 230.7,170.0 231.5,170.8 232.3,171.7 233.1,170.4 233.9,169.4 234.7,170.2 235.5,170.9 236.3,170.6 237.1,170.5 237.9,171.0 238.7,170.4 239.5,169.8 240.3,170.5 241.1,170.8 241.9,169.8 242.7,168.5 243.5,169.3 244.3,171.5 245.1,172.7 245.9,172.5 246.7,172.4 247.5,173.2 248.3,174.3 249.1,174.4 249.9,172.7 250.7,170.9 251.5,169.7 252.3,168.6 253.1,169.2 253.9,170.1 254.7,170.8 255.5,171.2 256.3,170.1 257.1,168.6 257.9,168.6 258.7,169.2 259.5,170.1 260.3,170.4 261.1,170.5 261.9,171.9 262.7,172.6 263.5,171.7 264.3,170.3 265.1,168.9 265.9,169.3 266.7,169.6 267.5,168.4 268.3,168.1 269.1,169.7 269.9,171.9 270.7,172.1 271.5,170.3 272.3,168.4 273.1,167.7 273.9,169.9 274.7,171.6 275.5,170.6 276.3,168.4 277.1,168.3 277.9,167.5 278.7,166.0 279.5,167.2 280.3,169.7 281.1,171.0 281.9,170.6 282.7,170.0 283.5,170.0 284.3,169.4 285.1,168.3 285.9,168.3 286.7,169.6 287.5,171.4 288.3,172.3 289.1,172.0 289.9,172.3 290.7,172.2 291.5,171.0 292.3,168.8 293.1,168.0 293.9,169.2 294.7,170.7 295.5,171.2 296.3,171.3 297.1,171.5 297.9,171.3 298.7,170.3 299.5,169.6 300.3,170.1 301.1,171.2 301.9,171.6 302.7,170.5 303.5,169.5 304.3,169.9 305.1,171.2 305.9,171.3 306.7,169.5 307.5,166.9 308.3,166.4 309.1,168.6 309.9,170.4 310.7,169.7 311.5,167.2 312.3,165.7 313.1,165.1 313.9,165.8 314.7,167.7 315.5,168.7 316.3,167.7 317.1,167.0 317.9,168.5 318.7,170.9 319.5,170.8 320.3,167.8 321.1,166.7 321.9,167.9 322.7,169.5 323.5,170.2 324.3,169.4 325.1,167.5 325.9,166.5 326.7,165.9 327.5,165.4 328.3,165.7 329.1,167.2 329.9,169.2 330.7,168.3 331.5,166.3 332.3,166.9 333.1,168.4 333.9,168.2 334.7,168.4 335.5,169.0 336.3,169.2 337.1,168.2 337.9,166.3 338.7,164.4 339.5,163.7 340.3,165.0 341.1,165.9 341.9,165.7 342.7,165.3 343.5,166.1 344.3,167.4 345.1,166.0 345.9,164.2 346.7,164.3 347.5,165.2 348.3,164.8 349.1,163.5 349.9,164.2 350.7,164.9 351.5,165.9 352.3,167.1 353.1,166.7 353.9,165.6 354.7,166.6 355.5,168.8 356.3,169.2 357.1,167.9 357.9,166.9 358.7,166.7 359.5,165.7 360.3,164.1 361.1,163.8 361.9,165.2 362.7,166.4 363.5,166.5 364.3,166.1 365.1,166.2 365.9,166.2 366.7,166.4 367.5,165.5 368.3,163.5 369.1,162.6 369.9,163.2 370.7,164.2 371.5,164.3 372.3,162.8 373.1,162.1 373.9,164.5 374.7,167.3 375.5,166.9 376.3,164.4 377.1,163.3 377.9,163.2 378.7,162.7 379.5,162.4 380.3,161.9 381.1,161.2 381.9,161.3 382.7,162.0 383.5,162.1 384.3,161.7 385.1,161.5 385.9,160.9 386.7,161.0 387.5,164.1 388.3,168.2 389.1,168.6 389.9,166.8 390.7,164.9 391.5,163.3 392.3,163.0 393.1,163.4 393.9,164.0 394.7,164.2 395.5,162.5 396.3,159.5 397.1,159.9 397.9,161.8 398.7,162.2 399.5,162.9 400.3,164.3 401.1,165.0 401.9,165.1 402.7,163.9 403.5,162.1 404.3,160.1 405.1,159.3 405.9,160.7 406.6,161.9 407.0,161.6 407.7,161.5" fill="none" stroke="#999999" stroke-width="1.8" stroke-linejoin="round" />
<line x1="25.30" y1="186.60" x2="411.50" y2="186.60" stroke="#555555" stroke-width="1" />
<line x1="29.50" y1="186.60" x2="29.50" y2="189.60" stroke="#555555" stroke-width="1" />
<text x="29.5" y="204.7" font-size="15" fill="#000" text-anchor="middle" >0</text>
<line x1="104.40" y1="186.60" x2="104.40" y2="189.60" stroke="#555555" stroke-width="1" />
<text x="104.4" y="204.7" font-size="15" fill="#000" text-anchor="middle" >5</text>
<line x1="179.30" y1="186.60" x2="179.30" y2="189.60" stroke="#555555" stroke-width="1" />
<text x="179.3" y="204.7" font-size="15" fill="#000" text-anchor="middle" >10</text>
<line x1="254.20" y1="186.60" x2="254.20" y2="189.60" stroke="#555555" stroke-width="1" />
<text x="254.2" y="204.7" font-size="15" fill="#000" text-anchor="middle" >15</text>
<line x1="329.10" y1="186.60" x2="329.10" y2="189.60" stroke="#555555" stroke-width="1" />
<text x="329.1" y="204.7" font-size="15" fill="#000" text-anchor="middle" >20</text>
<line x1="404.00" y1="186.60" x2="404.00" y2="189.60" stroke="#555555" stroke-width="1" />
<text x="404.0" y="204.7" font-size="15" fill="#000" text-anchor="middle" >25</text>
<text x="179.2" y="221.5" font-size="15" fill="#000" textLength="76.0" lengthAdjust="spacingAndGlyphs" >Time (min.)</text>
<text x="422.0" y="40.6" font-size="20.5" fill="#000" >b</text>
<line x1="463.90" y1="55.50" x2="463.90" y2="155.40" stroke="#8a8a8a" stroke-width="1" />
<line x1="463.90" y1="155.40" x2="561.70" y2="155.40" stroke="#aaaaaa" stroke-width="1.1" />
<line x1="462.70" y1="146.10" x2="464.70" y2="146.10" stroke="#666" stroke-width="1" />
<line x1="462.70" y1="128.18" x2="464.70" y2="128.18" stroke="#666" stroke-width="1" />
<line x1="462.70" y1="110.25" x2="464.70" y2="110.25" stroke="#666" stroke-width="1" />
<line x1="462.70" y1="92.32" x2="464.70" y2="92.32" stroke="#666" stroke-width="1" />
<line x1="462.70" y1="74.40" x2="464.70" y2="74.40" stroke="#666" stroke-width="1" />
<text x="460.2" y="79.8" font-size="15" fill="#000" text-anchor="end" >0.9</text>
<text x="460.2" y="115.7" font-size="15" fill="#000" text-anchor="end" >0.7</text>
<text x="460.2" y="151.5" font-size="15" fill="#000" text-anchor="end" >0.5</text>
<line x1="470.90" y1="154.90" x2="470.90" y2="156.90" stroke="#888" stroke-width="1" />
<line x1="501.30" y1="154.90" x2="501.30" y2="156.90" stroke="#888" stroke-width="1" />
<line x1="531.70" y1="154.90" x2="531.70" y2="156.90" stroke="#888" stroke-width="1" />
<line x1="562.10" y1="154.90" x2="562.10" y2="156.90" stroke="#888" stroke-width="1" />
<text x="470.9" y="170.8" font-size="15" fill="#000" text-anchor="middle" >0</text>
<text x="501.3" y="170.8" font-size="15" fill="#000" text-anchor="middle" >0.2</text>
<text x="531.7" y="170.8" font-size="15" fill="#000" text-anchor="middle" >0.4</text>
<text x="467.2" y="198.0" font-size="15" fill="#000" textLength="94.8" lengthAdjust="spacingAndGlyphs" >Corr. M1-stim.</text>
<text x="435.2" y="108.4" font-size="15" fill="#000" text-anchor="middle" textLength="108.9" lengthAdjust="spacingAndGlyphs" transform="rotate(-90 435.2 108.4)" >Corr. spont. act.</text>
<text x="553.9" y="50.7" font-size="9.2" fill="#000" text-anchor="end" textLength="45.8" lengthAdjust="spacingAndGlyphs" >r = 0.1320</text>
<text x="553.6" y="61.0" font-size="9.2" fill="#000" text-anchor="end" textLength="42.0" lengthAdjust="spacingAndGlyphs" >p = 0.061</text>
<g fill="none" stroke="#000" stroke-width="0.8"><circle cx="477.2" cy="137.0" r="2.4"/><circle cx="505.7" cy="122.5" r="2.4"/><circle cx="470.9" cy="146.2" r="2.4"/><circle cx="486.1" cy="123.1" r="2.4"/><circle cx="474.5" cy="138.9" r="2.4"/><circle cx="481.7" cy="138.8" r="2.4"/><circle cx="503.9" cy="125.9" r="2.4"/><circle cx="501.1" cy="139.6" r="2.4"/><circle cx="513.7" cy="125.2" r="2.4"/><circle cx="490.5" cy="129.5" r="2.4"/><circle cx="482.6" cy="138.4" r="2.4"/><circle cx="486.4" cy="120.0" r="2.4"/><circle cx="472.9" cy="133.2" r="2.4"/><circle cx="472.5" cy="137.0" r="2.4"/><circle cx="485.5" cy="125.3" r="2.4"/><circle cx="480.0" cy="125.2" r="2.4"/><circle cx="493.6" cy="133.9" r="2.4"/><circle cx="480.3" cy="130.8" r="2.4"/><circle cx="477.9" cy="124.8" r="2.4"/><circle cx="474.8" cy="127.7" r="2.4"/><circle cx="473.8" cy="125.4" r="2.4"/><circle cx="476.8" cy="139.9" r="2.4"/><circle cx="490.7" cy="131.2" r="2.4"/><circle cx="497.3" cy="127.4" r="2.4"/><circle cx="471.6" cy="120.3" r="2.4"/><circle cx="475.4" cy="146.2" r="2.4"/><circle cx="498.5" cy="122.1" r="2.4"/><circle cx="493.5" cy="128.9" r="2.4"/><circle cx="484.7" cy="120.5" r="2.4"/><circle cx="472.2" cy="122.7" r="2.4"/><circle cx="484.4" cy="144.7" r="2.4"/><circle cx="483.9" cy="138.5" r="2.4"/><circle cx="483.3" cy="124.9" r="2.4"/><circle cx="471.2" cy="137.6" r="2.4"/><circle cx="470.4" cy="136.1" r="2.4"/><circle cx="480.2" cy="125.0" r="2.4"/><circle cx="483.0" cy="127.2" r="2.4"/><circle cx="472.7" cy="145.0" r="2.4"/><circle cx="480.6" cy="123.4" r="2.4"/><circle cx="475.5" cy="120.4" r="2.4"/><circle cx="474.0" cy="139.6" r="2.4"/><circle cx="495.4" cy="143.2" r="2.4"/><circle cx="483.9" cy="137.9" r="2.4"/><circle cx="484.8" cy="145.6" r="2.4"/><circle cx="480.0" cy="120.8" r="2.4"/><circle cx="503.7" cy="132.1" r="2.4"/><circle cx="477.1" cy="144.3" r="2.4"/><circle cx="487.8" cy="141.6" r="2.4"/><circle cx="498.4" cy="120.3" r="2.4"/><circle cx="475.4" cy="142.7" r="2.4"/><circle cx="507.9" cy="127.9" r="2.4"/><circle cx="472.8" cy="123.2" r="2.4"/><circle cx="491.7" cy="130.0" r="2.4"/><circle cx="497.7" cy="124.9" r="2.4"/><circle cx="486.2" cy="133.2" r="2.4"/><circle cx="478.0" cy="129.8" r="2.4"/><circle cx="487.7" cy="130.5" r="2.4"/><circle cx="474.0" cy="120.2" r="2.4"/><circle cx="495.5" cy="136.5" r="2.4"/><circle cx="490.5" cy="141.4" r="2.4"/><circle cx="471.3" cy="146.2" r="2.4"/><circle cx="487.6" cy="131.9" r="2.4"/><circle cx="496.8" cy="146.2" r="2.4"/><circle cx="483.7" cy="129.9" r="2.4"/><circle cx="509.8" cy="132.7" r="2.4"/><circle cx="484.1" cy="139.0" r="2.4"/><circle cx="489.8" cy="120.2" r="2.4"/><circle cx="495.7" cy="145.6" r="2.4"/><circle cx="510.9" cy="126.6" r="2.4"/><circle cx="496.9" cy="120.8" r="2.4"/><circle cx="476.5" cy="133.7" r="2.4"/><circle cx="479.8" cy="141.8" r="2.4"/><circle cx="474.3" cy="125.3" r="2.4"/><circle cx="482.7" cy="137.1" r="2.4"/><circle cx="490.4" cy="127.8" r="2.4"/><circle cx="480.7" cy="132.0" r="2.4"/><circle cx="478.0" cy="120.8" r="2.4"/><circle cx="492.0" cy="125.7" r="2.4"/><circle cx="500.2" cy="142.6" r="2.4"/><circle cx="481.8" cy="146.2" r="2.4"/><circle cx="480.4" cy="139.3" r="2.4"/><circle cx="472.2" cy="128.2" r="2.4"/><circle cx="487.0" cy="128.2" r="2.4"/><circle cx="484.3" cy="120.8" r="2.4"/><circle cx="477.3" cy="120.3" r="2.4"/><circle cx="471.3" cy="131.6" r="2.4"/><circle cx="478.5" cy="133.4" r="2.4"/><circle cx="478.5" cy="130.4" r="2.4"/><circle cx="475.4" cy="129.6" r="2.4"/><circle cx="479.8" cy="131.0" r="2.4"/><circle cx="470.4" cy="131.7" r="2.4"/><circle cx="486.1" cy="130.8" r="2.4"/><circle cx="472.2" cy="139.8" r="2.4"/><circle cx="490.7" cy="124.4" r="2.4"/><circle cx="491.7" cy="143.4" r="2.4"/><circle cx="478.3" cy="126.5" r="2.4"/><circle cx="485.5" cy="146.1" r="2.4"/><circle cx="472.5" cy="138.9" r="2.4"/><circle cx="482.5" cy="142.2" r="2.4"/><circle cx="482.8" cy="142.0" r="2.4"/><circle cx="481.0" cy="125.7" r="2.4"/><circle cx="476.8" cy="136.3" r="2.4"/><circle cx="472.4" cy="129.0" r="2.4"/><circle cx="497.6" cy="127.1" r="2.4"/><circle cx="480.2" cy="125.8" r="2.4"/><circle cx="489.4" cy="140.9" r="2.4"/><circle cx="480.3" cy="134.4" r="2.4"/><circle cx="511.6" cy="133.5" r="2.4"/><circle cx="480.6" cy="143.3" r="2.4"/><circle cx="507.9" cy="140.6" r="2.4"/><circle cx="483.0" cy="133.5" r="2.4"/><circle cx="482.8" cy="145.8" r="2.4"/><circle cx="469.5" cy="144.4" r="2.4"/><circle cx="480.2" cy="123.3" r="2.4"/><circle cx="505.1" cy="142.0" r="2.4"/><circle cx="470.7" cy="127.6" r="2.4"/><circle cx="473.0" cy="140.7" r="2.4"/><circle cx="507.9" cy="127.4" r="2.4"/><circle cx="484.3" cy="120.0" r="2.4"/><circle cx="473.3" cy="120.9" r="2.4"/><circle cx="500.1" cy="125.0" r="2.4"/><circle cx="489.0" cy="126.8" r="2.4"/><circle cx="491.3" cy="135.1" r="2.4"/><circle cx="483.9" cy="126.6" r="2.4"/><circle cx="508.0" cy="146.1" r="2.4"/><circle cx="489.1" cy="130.5" r="2.4"/><circle cx="491.3" cy="134.7" r="2.4"/><circle cx="510.2" cy="131.6" r="2.4"/><circle cx="483.8" cy="146.2" r="2.4"/><circle cx="496.9" cy="122.9" r="2.4"/><circle cx="492.5" cy="142.7" r="2.4"/><circle cx="493.3" cy="126.6" r="2.4"/><circle cx="484.6" cy="140.2" r="2.4"/><circle cx="492.9" cy="119.5" r="2.4"/><circle cx="482.8" cy="140.5" r="2.4"/><circle cx="471.6" cy="130.7" r="2.4"/><circle cx="493.0" cy="127.8" r="2.4"/><circle cx="498.5" cy="120.9" r="2.4"/><circle cx="509.2" cy="140.9" r="2.4"/><circle cx="506.7" cy="134.1" r="2.4"/><circle cx="489.0" cy="128.0" r="2.4"/><circle cx="473.3" cy="134.0" r="2.4"/><circle cx="482.3" cy="144.1" r="2.4"/><circle cx="476.1" cy="120.2" r="2.4"/><circle cx="502.9" cy="146.2" r="2.4"/><circle cx="487.6" cy="144.3" r="2.4"/><circle cx="499.9" cy="141.8" r="2.4"/><circle cx="494.3" cy="133.7" r="2.4"/><circle cx="496.1" cy="142.1" r="2.4"/><circle cx="509.9" cy="144.8" r="2.4"/><circle cx="500.5" cy="146.0" r="2.4"/><circle cx="470.2" cy="119.3" r="2.4"/><circle cx="479.9" cy="119.2" r="2.4"/><circle cx="493.1" cy="124.7" r="2.4"/><circle cx="506.7" cy="121.8" r="2.4"/><circle cx="502.2" cy="120.8" r="2.4"/><circle cx="509.4" cy="129.6" r="2.4"/><circle cx="481.0" cy="128.3" r="2.4"/><circle cx="499.3" cy="144.1" r="2.4"/><circle cx="497.8" cy="123.1" r="2.4"/><circle cx="485.1" cy="133.1" r="2.4"/><circle cx="480.7" cy="146.1" r="2.4"/><circle cx="499.4" cy="139.3" r="2.4"/><circle cx="479.7" cy="134.4" r="2.4"/><circle cx="479.0" cy="128.3" r="2.4"/><circle cx="502.4" cy="126.2" r="2.4"/><circle cx="498.3" cy="126.0" r="2.4"/><circle cx="503.1" cy="123.6" r="2.4"/><circle cx="507.0" cy="120.5" r="2.4"/><circle cx="478.2" cy="138.1" r="2.4"/><circle cx="484.4" cy="123.7" r="2.4"/><circle cx="475.5" cy="134.2" r="2.4"/><circle cx="482.2" cy="145.2" r="2.4"/><circle cx="501.1" cy="133.2" r="2.4"/><circle cx="497.0" cy="125.5" r="2.4"/><circle cx="487.5" cy="142.4" r="2.4"/><circle cx="507.8" cy="123.3" r="2.4"/><circle cx="482.8" cy="141.4" r="2.4"/><circle cx="481.3" cy="128.8" r="2.4"/><circle cx="473.2" cy="143.2" r="2.4"/><circle cx="473.7" cy="138.6" r="2.4"/><circle cx="473.0" cy="126.7" r="2.4"/><circle cx="508.8" cy="122.5" r="2.4"/><circle cx="502.7" cy="125.3" r="2.4"/><circle cx="504.4" cy="128.7" r="2.4"/><circle cx="498.0" cy="115.3" r="2.4"/><circle cx="474.7" cy="104.5" r="2.4"/><circle cx="517.0" cy="101.6" r="2.4"/><circle cx="499.5" cy="117.8" r="2.4"/><circle cx="506.6" cy="117.9" r="2.4"/><circle cx="498.8" cy="111.8" r="2.4"/><circle cx="473.4" cy="118.6" r="2.4"/><circle cx="491.9" cy="108.4" r="2.4"/><circle cx="497.7" cy="102.9" r="2.4"/><circle cx="519.8" cy="111.4" r="2.4"/><circle cx="497.6" cy="98.8" r="2.4"/><circle cx="508.0" cy="111.0" r="2.4"/><circle cx="519.3" cy="109.2" r="2.4"/><circle cx="487.1" cy="110.6" r="2.4"/><circle cx="477.7" cy="100.7" r="2.4"/><circle cx="499.8" cy="111.1" r="2.4"/><circle cx="520.2" cy="95.9" r="2.4"/><circle cx="515.6" cy="105.1" r="2.4"/><circle cx="471.6" cy="104.9" r="2.4"/><circle cx="501.1" cy="104.2" r="2.4"/><circle cx="488.3" cy="115.4" r="2.4"/><circle cx="492.1" cy="118.9" r="2.4"/><circle cx="483.5" cy="97.5" r="2.4"/><circle cx="495.2" cy="113.2" r="2.4"/><circle cx="488.2" cy="101.1" r="2.4"/><circle cx="499.2" cy="115.5" r="2.4"/><circle cx="499.9" cy="110.0" r="2.4"/><circle cx="490.6" cy="111.4" r="2.4"/><circle cx="509.5" cy="97.0" r="2.4"/><circle cx="520.8" cy="105.8" r="2.4"/><circle cx="472.8" cy="68.4" r="2.4"/><circle cx="478.3" cy="82.0" r="2.4"/><circle cx="499.0" cy="82.7" r="2.4"/><circle cx="500.3" cy="84.0" r="2.4"/><circle cx="509.8" cy="80.3" r="2.4"/><circle cx="515.1" cy="79.6" r="2.4"/><circle cx="508.6" cy="85.8" r="2.4"/><circle cx="497.4" cy="88.7" r="2.4"/><circle cx="495.5" cy="90.0" r="2.4"/><circle cx="481.1" cy="91.1" r="2.4"/><circle cx="486.6" cy="89.2" r="2.4"/><circle cx="529.5" cy="88.7" r="2.4"/><circle cx="535.0" cy="97.6" r="2.4"/><circle cx="474.0" cy="98.3" r="2.4"/><circle cx="478.7" cy="97.1" r="2.4"/><circle cx="490.0" cy="93.0" r="2.4"/><circle cx="492.0" cy="96.0" r="2.4"/><circle cx="494.0" cy="99.0" r="2.4"/><circle cx="503.9" cy="95.9" r="2.4"/><circle cx="507.5" cy="97.8" r="2.4"/><circle cx="485.0" cy="101.0" r="2.4"/><circle cx="489.0" cy="103.0" r="2.4"/><circle cx="486.0" cy="106.0" r="2.4"/><circle cx="491.0" cy="105.0" r="2.4"/><circle cx="499.0" cy="103.0" r="2.4"/><circle cx="500.0" cy="102.0" r="2.4"/><circle cx="506.0" cy="106.7" r="2.4"/><circle cx="511.0" cy="107.8" r="2.4"/><circle cx="517.0" cy="106.7" r="2.4"/><circle cx="521.8" cy="107.4" r="2.4"/><circle cx="472.8" cy="112.6" r="2.4"/><circle cx="476.4" cy="111.4" r="2.4"/><circle cx="478.7" cy="111.0" r="2.4"/><circle cx="525.4" cy="115.5" r="2.4"/><circle cx="539.0" cy="124.1" r="2.4"/><circle cx="555.3" cy="139.0" r="2.4"/><circle cx="524.2" cy="142.5" r="2.4"/><circle cx="531.4" cy="143.7" r="2.4"/><circle cx="536.2" cy="144.2" r="2.4"/><circle cx="537.4" cy="142.5" r="2.4"/><circle cx="517.5" cy="134.6" r="2.4"/><circle cx="513.4" cy="142.5" r="2.4"/><circle cx="508.6" cy="146.2" r="2.4"/><circle cx="520.0" cy="128.0" r="2.4"/><circle cx="515.0" cy="122.0" r="2.4"/></g>
<line x1="471.10" y1="128.20" x2="555.30" y2="115.70" stroke="#ee1c1c" stroke-width="2" />
<text x="570.8" y="41.4" font-size="21" fill="#000" >c</text>
<line x1="613.00" y1="56.00" x2="613.00" y2="155.00" stroke="#a0a0a0" stroke-width="1.1" />
<line x1="612.20" y1="151.40" x2="614.20" y2="151.40" stroke="#666" stroke-width="1" />
<line x1="612.20" y1="137.25" x2="614.20" y2="137.25" stroke="#666" stroke-width="1" />
<line x1="612.20" y1="123.10" x2="614.20" y2="123.10" stroke="#666" stroke-width="1" />
<line x1="612.20" y1="108.95" x2="614.20" y2="108.95" stroke="#666" stroke-width="1" />
<line x1="612.20" y1="94.80" x2="614.20" y2="94.80" stroke="#666" stroke-width="1" />
<line x1="612.20" y1="80.65" x2="614.20" y2="80.65" stroke="#666" stroke-width="1" />
<line x1="612.20" y1="66.50" x2="614.20" y2="66.50" stroke="#666" stroke-width="1" />
<text x="609.3" y="71.9" font-size="15" fill="#000" text-anchor="end" textLength="21.5" lengthAdjust="spacingAndGlyphs" >0.6</text>
<text x="609.3" y="100.2" font-size="15" fill="#000" text-anchor="end" textLength="21.5" lengthAdjust="spacingAndGlyphs" >0.4</text>
<text x="609.3" y="128.5" font-size="15" fill="#000" text-anchor="end" textLength="21.5" lengthAdjust="spacingAndGlyphs" >0.2</text>
<text x="609.3" y="156.8" font-size="15" fill="#000" text-anchor="end" >0</text>
<text x="582.2" y="103.2" font-size="13.5" fill="#000" text-anchor="middle" textLength="95.7" lengthAdjust="spacingAndGlyphs" transform="rotate(-90 582.2 103.2)" >Corr. spont. act.</text>
<line x1="626.60" y1="80.60" x2="667.30" y2="80.60" stroke="#333" stroke-width="0.8" />
<line x1="651.70" y1="82.50" x2="667.30" y2="82.50" stroke="#333" stroke-width="0.8" />
<line x1="626.60" y1="99.50" x2="642.60" y2="99.50" stroke="#333" stroke-width="0.8" />
<text x="651.7" y="103.6" font-size="12" fill="#000" text-anchor="middle" >*</text>
<text x="676.9" y="86.0" font-size="12" fill="#000" text-anchor="middle" >*</text>
<line x1="627.10" y1="133.50" x2="627.10" y2="143.00" stroke="#444" stroke-width="0.8" stroke-dasharray="4,2.5"/>
<line x1="627.10" y1="149.80" x2="627.10" y2="150.80" stroke="#444" stroke-width="0.8" stroke-dasharray="4,2.5"/>
<line x1="624.10" y1="133.50" x2="630.10" y2="133.50" stroke="#444" stroke-width="0.8" />
<line x1="624.10" y1="150.80" x2="630.10" y2="150.80" stroke="#444" stroke-width="0.8" />
<rect x="619.7" y="143.0" width="14.8" height="6.8" fill="#cccccc" stroke="#666" stroke-width="0.8"/>
<line x1="619.70" y1="146.20" x2="634.50" y2="146.20" stroke="#666" stroke-width="0.9" />
<line x1="651.95" y1="106.90" x2="651.95" y2="130.40" stroke="#444" stroke-width="0.8" stroke-dasharray="4,2.5"/>
<line x1="651.95" y1="146.00" x2="651.95" y2="151.00" stroke="#444" stroke-width="0.8" stroke-dasharray="4,2.5"/>
<line x1="648.95" y1="106.90" x2="654.95" y2="106.90" stroke="#444" stroke-width="0.8" />
<line x1="648.95" y1="151.00" x2="654.95" y2="151.00" stroke="#444" stroke-width="0.8" />
<rect x="644.3" y="130.4" width="15.3" height="15.6" fill="#999999" stroke="#444" stroke-width="0.8"/>
<line x1="644.30" y1="139.00" x2="659.60" y2="139.00" stroke="#333" stroke-width="0.9" />
<line x1="676.75" y1="89.20" x2="676.75" y2="121.00" stroke="#444" stroke-width="0.8" stroke-dasharray="4,2.5"/>
<line x1="676.75" y1="143.00" x2="676.75" y2="150.20" stroke="#444" stroke-width="0.8" stroke-dasharray="4,2.5"/>
<line x1="673.75" y1="89.20" x2="679.75" y2="89.20" stroke="#444" stroke-width="0.8" />
<line x1="673.75" y1="150.20" x2="679.75" y2="150.20" stroke="#444" stroke-width="0.8" />
<rect x="669.2" y="121.0" width="15.1" height="22.0" fill="#333333" stroke="#222" stroke-width="0.8"/>
<line x1="669.20" y1="131.80" x2="684.30" y2="131.80" stroke="#000" stroke-width="0.9" />
<text x="630.8" y="170.0" font-size="14" fill="#000" text-anchor="middle" textLength="27.7" lengthAdjust="spacingAndGlyphs" transform="rotate(-90 630.8 170.0)" >surr.</text>
<text x="658.0" y="168.5" font-size="14" fill="#000" text-anchor="middle" textLength="23.0" lengthAdjust="spacingAndGlyphs" transform="rotate(-90 658.0 168.5)" >low</text>
<text x="680.0" y="170.3" font-size="14" fill="#000" text-anchor="middle" textLength="29.5" lengthAdjust="spacingAndGlyphs" transform="rotate(-90 680.0 170.3)" >high</text>
<text x="589.2" y="197.4" font-size="13.5" fill="#000" textLength="94.5" lengthAdjust="spacingAndGlyphs" >Corr. M1-stim.</text>
<text x="16.8" y="255.0" font-size="20.5" fill="#000" >d</text>
<text x="73.9" y="249.6" font-size="13.5" fill="#fb9a5a" textLength="77.0" lengthAdjust="spacingAndGlyphs" >200 ms trials</text>
<text x="164.2" y="263.0" font-size="10.2" fill="#fb9a5a" text-anchor="end" textLength="35.1" lengthAdjust="spacingAndGlyphs" >r = 0.28</text>
<text x="163.8" y="271.7" font-size="10.2" fill="#fb9a5a" text-anchor="end" textLength="42.7" lengthAdjust="spacingAndGlyphs" font-style="italic" >p &lt; 0.001</text>
<line x1="62.20" y1="273.80" x2="62.20" y2="374.70" stroke="#8a8a8a" stroke-width="1" />
<line x1="62.20" y1="374.70" x2="163.50" y2="374.70" stroke="#9a9a9a" stroke-width="1.2" />
<line x1="61.40" y1="291.70" x2="63.40" y2="291.70" stroke="#555" stroke-width="1" />
<line x1="61.40" y1="308.80" x2="63.40" y2="308.80" stroke="#555" stroke-width="1" />
<line x1="61.40" y1="325.90" x2="63.40" y2="325.90" stroke="#555" stroke-width="1" />
<line x1="61.40" y1="343.00" x2="63.40" y2="343.00" stroke="#555" stroke-width="1" />
<line x1="61.40" y1="360.10" x2="63.40" y2="360.10" stroke="#555" stroke-width="1" />
<line x1="78.10" y1="375.50" x2="78.10" y2="373.50" stroke="#666" stroke-width="1" />
<line x1="108.50" y1="375.50" x2="108.50" y2="373.50" stroke="#666" stroke-width="1" />
<line x1="138.90" y1="375.50" x2="138.90" y2="373.50" stroke="#666" stroke-width="1" />
<text x="77.2" y="389.2" font-size="15" fill="#000" text-anchor="middle" textLength="12.6" lengthAdjust="spacingAndGlyphs" >-2</text>
<text x="108.5" y="389.2" font-size="15" fill="#000" text-anchor="middle" >0</text>
<text x="138.9" y="389.2" font-size="15" fill="#000" text-anchor="middle" >2</text>
<text x="112.2" y="402.8" font-size="15" fill="#000" text-anchor="middle" textLength="51.2" lengthAdjust="spacingAndGlyphs" >Z-score</text>
<text x="112.4" y="416.8" font-size="15" fill="#000" text-anchor="middle" textLength="73.0" lengthAdjust="spacingAndGlyphs" >mov. onset</text>
<g fill="#b3b3b3"><circle cx="97.5" cy="323.9" r="2.2"/><circle cx="129.9" cy="321.6" r="2.2"/><circle cx="100.8" cy="316.9" r="2.2"/><circle cx="128.6" cy="320.2" r="2.2"/><circle cx="129.3" cy="316.6" r="2.2"/><circle cx="154.4" cy="332.0" r="2.2"/><circle cx="117.6" cy="310.8" r="2.2"/><circle cx="94.5" cy="323.6" r="2.2"/><circle cx="105.3" cy="326.7" r="2.2"/><circle cx="124.8" cy="343.8" r="2.2"/><circle cx="100.3" cy="339.1" r="2.2"/><circle cx="113.0" cy="332.7" r="2.2"/><circle cx="142.2" cy="331.9" r="2.2"/><circle cx="145.5" cy="330.1" r="2.2"/><circle cx="121.4" cy="326.1" r="2.2"/><circle cx="117.1" cy="336.6" r="2.2"/><circle cx="122.5" cy="323.1" r="2.2"/><circle cx="120.8" cy="320.9" r="2.2"/><circle cx="103.2" cy="329.2" r="2.2"/><circle cx="105.8" cy="341.7" r="2.2"/><circle cx="123.0" cy="332.2" r="2.2"/><circle cx="115.6" cy="306.4" r="2.2"/><circle cx="120.7" cy="325.5" r="2.2"/><circle cx="134.8" cy="315.4" r="2.2"/><circle cx="147.2" cy="331.2" r="2.2"/><circle cx="146.9" cy="327.7" r="2.2"/><circle cx="97.5" cy="334.8" r="2.2"/><circle cx="135.4" cy="319.7" r="2.2"/><circle cx="138.3" cy="334.7" r="2.2"/><circle cx="111.2" cy="337.2" r="2.2"/><circle cx="83.8" cy="326.7" r="2.2"/><circle cx="143.3" cy="316.6" r="2.2"/><circle cx="103.9" cy="316.1" r="2.2"/><circle cx="107.2" cy="323.7" r="2.2"/><circle cx="130.7" cy="330.1" r="2.2"/><circle cx="102.1" cy="320.7" r="2.2"/><circle cx="113.9" cy="331.4" r="2.2"/><circle cx="127.5" cy="328.4" r="2.2"/><circle cx="123.3" cy="335.1" r="2.2"/><circle cx="129.0" cy="335.0" r="2.2"/><circle cx="110.4" cy="343.2" r="2.2"/><circle cx="136.2" cy="325.7" r="2.2"/><circle cx="124.6" cy="341.7" r="2.2"/><circle cx="119.4" cy="330.0" r="2.2"/><circle cx="136.9" cy="340.5" r="2.2"/><circle cx="122.8" cy="317.1" r="2.2"/><circle cx="96.9" cy="325.5" r="2.2"/><circle cx="98.7" cy="326.1" r="2.2"/><circle cx="122.4" cy="314.7" r="2.2"/><circle cx="119.7" cy="332.7" r="2.2"/><circle cx="126.5" cy="326.5" r="2.2"/><circle cx="134.9" cy="331.9" r="2.2"/><circle cx="139.2" cy="325.0" r="2.2"/><circle cx="120.9" cy="317.5" r="2.2"/><circle cx="108.0" cy="331.1" r="2.2"/><circle cx="125.4" cy="327.2" r="2.2"/><circle cx="117.6" cy="330.1" r="2.2"/><circle cx="111.7" cy="318.8" r="2.2"/><circle cx="149.6" cy="338.8" r="2.2"/><circle cx="142.2" cy="319.9" r="2.2"/><circle cx="137.0" cy="324.9" r="2.2"/><circle cx="104.6" cy="328.3" r="2.2"/><circle cx="101.3" cy="341.4" r="2.2"/><circle cx="115.6" cy="324.2" r="2.2"/><circle cx="112.2" cy="324.8" r="2.2"/><circle cx="91.0" cy="317.1" r="2.2"/><circle cx="114.2" cy="326.1" r="2.2"/><circle cx="128.8" cy="331.5" r="2.2"/><circle cx="160.2" cy="315.3" r="2.2"/><circle cx="137.5" cy="325.1" r="2.2"/><circle cx="105.0" cy="322.0" r="2.2"/><circle cx="104.7" cy="324.4" r="2.2"/><circle cx="120.8" cy="315.5" r="2.2"/><circle cx="124.2" cy="325.2" r="2.2"/><circle cx="140.1" cy="327.5" r="2.2"/><circle cx="108.0" cy="331.1" r="2.2"/><circle cx="141.2" cy="326.2" r="2.2"/><circle cx="107.3" cy="344.0" r="2.2"/><circle cx="99.4" cy="323.7" r="2.2"/><circle cx="126.7" cy="311.6" r="2.2"/><circle cx="105.2" cy="322.0" r="2.2"/><circle cx="138.5" cy="346.9" r="2.2"/><circle cx="155.5" cy="336.6" r="2.2"/><circle cx="97.9" cy="318.1" r="2.2"/><circle cx="123.8" cy="315.6" r="2.2"/><circle cx="127.7" cy="323.8" r="2.2"/><circle cx="114.8" cy="333.4" r="2.2"/><circle cx="126.7" cy="343.7" r="2.2"/><circle cx="113.8" cy="319.5" r="2.2"/><circle cx="97.6" cy="319.0" r="2.2"/><circle cx="133.3" cy="325.8" r="2.2"/><circle cx="114.3" cy="321.5" r="2.2"/><circle cx="127.6" cy="328.7" r="2.2"/><circle cx="151.3" cy="312.9" r="2.2"/><circle cx="133.7" cy="314.0" r="2.2"/><circle cx="138.8" cy="338.8" r="2.2"/><circle cx="159.4" cy="339.4" r="2.2"/><circle cx="120.4" cy="336.4" r="2.2"/><circle cx="127.5" cy="322.5" r="2.2"/><circle cx="121.0" cy="352.2" r="2.2"/><circle cx="130.4" cy="324.2" r="2.2"/><circle cx="82.5" cy="313.0" r="2.2"/><circle cx="114.4" cy="333.3" r="2.2"/><circle cx="124.1" cy="331.3" r="2.2"/><circle cx="123.5" cy="329.7" r="2.2"/><circle cx="101.8" cy="336.7" r="2.2"/><circle cx="130.4" cy="325.6" r="2.2"/><circle cx="104.2" cy="331.7" r="2.2"/><circle cx="102.1" cy="307.2" r="2.2"/><circle cx="123.3" cy="324.8" r="2.2"/><circle cx="142.4" cy="332.3" r="2.2"/><circle cx="98.5" cy="331.0" r="2.2"/><circle cx="119.8" cy="328.3" r="2.2"/><circle cx="111.1" cy="325.1" r="2.2"/><circle cx="109.4" cy="336.4" r="2.2"/><circle cx="129.2" cy="329.0" r="2.2"/><circle cx="111.7" cy="322.0" r="2.2"/><circle cx="123.6" cy="336.8" r="2.2"/><circle cx="104.1" cy="339.3" r="2.2"/><circle cx="96.2" cy="324.0" r="2.2"/><circle cx="108.1" cy="335.2" r="2.2"/><circle cx="94.0" cy="315.4" r="2.2"/><circle cx="109.3" cy="324.7" r="2.2"/><circle cx="114.9" cy="335.4" r="2.2"/><circle cx="123.4" cy="325.7" r="2.2"/><circle cx="138.1" cy="321.5" r="2.2"/><circle cx="95.1" cy="328.1" r="2.2"/><circle cx="114.2" cy="327.6" r="2.2"/><circle cx="95.1" cy="342.0" r="2.2"/><circle cx="113.8" cy="323.9" r="2.2"/><circle cx="95.9" cy="310.3" r="2.2"/><circle cx="127.0" cy="331.3" r="2.2"/><circle cx="150.4" cy="340.6" r="2.2"/><circle cx="99.0" cy="336.6" r="2.2"/><circle cx="135.7" cy="333.6" r="2.2"/><circle cx="128.4" cy="324.7" r="2.2"/><circle cx="106.3" cy="325.7" r="2.2"/><circle cx="96.2" cy="319.4" r="2.2"/><circle cx="99.6" cy="334.7" r="2.2"/><circle cx="127.6" cy="331.2" r="2.2"/><circle cx="147.6" cy="314.4" r="2.2"/><circle cx="88.6" cy="325.4" r="2.2"/><circle cx="113.9" cy="307.5" r="2.2"/><circle cx="107.1" cy="332.4" r="2.2"/><circle cx="113.0" cy="328.7" r="2.2"/><circle cx="101.2" cy="324.5" r="2.2"/><circle cx="107.4" cy="334.4" r="2.2"/><circle cx="141.9" cy="325.4" r="2.2"/><circle cx="98.7" cy="339.2" r="2.2"/><circle cx="110.8" cy="337.9" r="2.2"/><circle cx="94.6" cy="316.9" r="2.2"/><circle cx="113.9" cy="331.8" r="2.2"/><circle cx="119.5" cy="331.8" r="2.2"/><circle cx="117.6" cy="310.5" r="2.2"/><circle cx="115.9" cy="332.2" r="2.2"/><circle cx="97.3" cy="321.0" r="2.2"/><circle cx="113.6" cy="323.1" r="2.2"/><circle cx="89.4" cy="330.2" r="2.2"/><circle cx="118.1" cy="322.0" r="2.2"/><circle cx="120.8" cy="329.2" r="2.2"/><circle cx="137.8" cy="326.9" r="2.2"/><circle cx="81.7" cy="338.1" r="2.2"/><circle cx="115.6" cy="324.7" r="2.2"/><circle cx="94.1" cy="337.5" r="2.2"/><circle cx="122.6" cy="324.4" r="2.2"/><circle cx="122.7" cy="320.3" r="2.2"/><circle cx="117.5" cy="333.7" r="2.2"/><circle cx="137.9" cy="317.3" r="2.2"/><circle cx="145.5" cy="322.3" r="2.2"/><circle cx="119.5" cy="324.2" r="2.2"/><circle cx="122.9" cy="342.5" r="2.2"/><circle cx="115.3" cy="329.1" r="2.2"/><circle cx="124.2" cy="323.1" r="2.2"/><circle cx="112.8" cy="329.8" r="2.2"/><circle cx="95.7" cy="323.4" r="2.2"/><circle cx="110.2" cy="329.0" r="2.2"/><circle cx="136.1" cy="316.5" r="2.2"/><circle cx="112.7" cy="310.8" r="2.2"/><circle cx="130.0" cy="325.5" r="2.2"/><circle cx="102.7" cy="334.0" r="2.2"/><circle cx="133.2" cy="343.8" r="2.2"/><circle cx="146.0" cy="320.1" r="2.2"/><circle cx="111.2" cy="311.9" r="2.2"/><circle cx="120.9" cy="337.8" r="2.2"/><circle cx="105.4" cy="336.4" r="2.2"/><circle cx="96.2" cy="309.2" r="2.2"/><circle cx="118.0" cy="328.5" r="2.2"/><circle cx="129.6" cy="321.7" r="2.2"/><circle cx="104.6" cy="335.9" r="2.2"/><circle cx="82.9" cy="318.7" r="2.2"/><circle cx="111.6" cy="319.0" r="2.2"/><circle cx="116.1" cy="339.4" r="2.2"/><circle cx="105.4" cy="313.6" r="2.2"/><circle cx="105.5" cy="322.6" r="2.2"/><circle cx="75.9" cy="334.2" r="2.2"/><circle cx="132.2" cy="344.1" r="2.2"/><circle cx="134.0" cy="331.3" r="2.2"/><circle cx="106.0" cy="313.8" r="2.2"/><circle cx="107.8" cy="316.7" r="2.2"/><circle cx="110.3" cy="323.0" r="2.2"/><circle cx="134.8" cy="316.5" r="2.2"/><circle cx="113.2" cy="346.8" r="2.2"/><circle cx="146.7" cy="331.1" r="2.2"/><circle cx="139.2" cy="333.3" r="2.2"/><circle cx="110.5" cy="325.1" r="2.2"/><circle cx="117.3" cy="308.3" r="2.2"/><circle cx="88.7" cy="330.9" r="2.2"/><circle cx="122.5" cy="322.0" r="2.2"/><circle cx="118.5" cy="324.2" r="2.2"/><circle cx="135.1" cy="331.0" r="2.2"/><circle cx="108.5" cy="327.0" r="2.2"/><circle cx="129.4" cy="339.0" r="2.2"/><circle cx="149.4" cy="329.3" r="2.2"/><circle cx="106.9" cy="329.3" r="2.2"/><circle cx="99.0" cy="334.6" r="2.2"/><circle cx="112.0" cy="321.9" r="2.2"/><circle cx="129.7" cy="329.8" r="2.2"/><circle cx="112.4" cy="322.2" r="2.2"/><circle cx="85.5" cy="327.8" r="2.2"/><circle cx="135.0" cy="311.4" r="2.2"/><circle cx="113.9" cy="338.7" r="2.2"/><circle cx="107.0" cy="315.1" r="2.2"/><circle cx="151.4" cy="327.8" r="2.2"/><circle cx="91.9" cy="324.9" r="2.2"/><circle cx="130.4" cy="318.2" r="2.2"/><circle cx="123.5" cy="304.2" r="2.2"/><circle cx="117.2" cy="300.5" r="2.2"/><circle cx="99.2" cy="313.1" r="2.2"/><circle cx="136.2" cy="318.9" r="2.2"/><circle cx="104.3" cy="327.5" r="2.2"/><circle cx="97.2" cy="325.9" r="2.2"/><circle cx="122.0" cy="321.2" r="2.2"/><circle cx="96.8" cy="332.9" r="2.2"/><circle cx="80.8" cy="325.8" r="2.2"/><circle cx="99.6" cy="316.9" r="2.2"/><circle cx="107.9" cy="321.8" r="2.2"/><circle cx="110.6" cy="326.7" r="2.2"/><circle cx="113.4" cy="337.2" r="2.2"/><circle cx="131.3" cy="334.4" r="2.2"/><circle cx="138.3" cy="348.7" r="2.2"/><circle cx="108.4" cy="319.1" r="2.2"/><circle cx="131.0" cy="344.1" r="2.2"/><circle cx="119.8" cy="325.1" r="2.2"/><circle cx="121.0" cy="330.1" r="2.2"/><circle cx="103.2" cy="325.0" r="2.2"/><circle cx="125.9" cy="317.9" r="2.2"/><circle cx="114.9" cy="334.2" r="2.2"/><circle cx="128.6" cy="339.2" r="2.2"/><circle cx="104.4" cy="332.6" r="2.2"/><circle cx="116.1" cy="325.2" r="2.2"/><circle cx="149.7" cy="321.0" r="2.2"/><circle cx="132.6" cy="330.3" r="2.2"/><circle cx="98.5" cy="329.9" r="2.2"/><circle cx="108.0" cy="307.9" r="2.2"/><circle cx="141.6" cy="318.8" r="2.2"/><circle cx="115.6" cy="338.1" r="2.2"/><circle cx="111.6" cy="332.0" r="2.2"/><circle cx="104.3" cy="322.5" r="2.2"/><circle cx="146.7" cy="307.9" r="2.2"/><circle cx="114.1" cy="325.3" r="2.2"/><circle cx="122.8" cy="332.1" r="2.2"/><circle cx="139.8" cy="321.4" r="2.2"/><circle cx="119.2" cy="321.1" r="2.2"/><circle cx="110.0" cy="328.0" r="2.2"/><circle cx="139.1" cy="317.0" r="2.2"/><circle cx="120.7" cy="338.8" r="2.2"/><circle cx="159.8" cy="321.7" r="2.2"/><circle cx="134.4" cy="334.4" r="2.2"/><circle cx="128.3" cy="320.2" r="2.2"/><circle cx="124.1" cy="314.9" r="2.2"/><circle cx="89.6" cy="314.5" r="2.2"/><circle cx="112.4" cy="329.9" r="2.2"/><circle cx="118.6" cy="321.5" r="2.2"/><circle cx="122.3" cy="328.8" r="2.2"/><circle cx="128.9" cy="299.8" r="2.2"/><circle cx="130.3" cy="328.7" r="2.2"/><circle cx="139.4" cy="317.3" r="2.2"/><circle cx="105.8" cy="314.2" r="2.2"/><circle cx="95.9" cy="321.0" r="2.2"/><circle cx="150.2" cy="336.2" r="2.2"/><circle cx="111.0" cy="332.8" r="2.2"/><circle cx="141.2" cy="332.0" r="2.2"/><circle cx="116.8" cy="322.1" r="2.2"/><circle cx="134.7" cy="319.5" r="2.2"/><circle cx="102.0" cy="344.1" r="2.2"/><circle cx="133.6" cy="325.8" r="2.2"/><circle cx="127.8" cy="331.8" r="2.2"/><circle cx="116.8" cy="314.1" r="2.2"/><circle cx="92.1" cy="328.3" r="2.2"/><circle cx="90.8" cy="314.6" r="2.2"/><circle cx="119.7" cy="335.1" r="2.2"/><circle cx="89.3" cy="325.7" r="2.2"/><circle cx="119.3" cy="328.0" r="2.2"/><circle cx="139.3" cy="335.4" r="2.2"/><circle cx="129.8" cy="312.9" r="2.2"/><circle cx="107.1" cy="318.7" r="2.2"/><circle cx="142.5" cy="338.7" r="2.2"/><circle cx="106.4" cy="337.8" r="2.2"/><circle cx="125.6" cy="309.6" r="2.2"/><circle cx="93.4" cy="326.3" r="2.2"/><circle cx="160.2" cy="332.0" r="2.2"/><circle cx="127.6" cy="321.1" r="2.2"/><circle cx="108.6" cy="318.3" r="2.2"/><circle cx="123.3" cy="327.3" r="2.2"/><circle cx="112.4" cy="314.8" r="2.2"/><circle cx="119.5" cy="333.2" r="2.2"/><circle cx="108.5" cy="323.7" r="2.2"/><circle cx="124.3" cy="339.0" r="2.2"/><circle cx="132.0" cy="337.3" r="2.2"/><circle cx="86.6" cy="329.4" r="2.2"/><circle cx="122.5" cy="317.8" r="2.2"/><circle cx="97.6" cy="329.8" r="2.2"/><circle cx="134.3" cy="326.9" r="2.2"/><circle cx="136.0" cy="320.5" r="2.2"/><circle cx="91.9" cy="333.7" r="2.2"/><circle cx="132.0" cy="348.1" r="2.2"/><circle cx="131.2" cy="327.8" r="2.2"/><circle cx="102.3" cy="306.0" r="2.2"/><circle cx="102.3" cy="332.2" r="2.2"/><circle cx="111.9" cy="329.3" r="2.2"/><circle cx="126.2" cy="322.7" r="2.2"/><circle cx="77.0" cy="315.9" r="2.2"/><circle cx="135.3" cy="318.0" r="2.2"/><circle cx="125.3" cy="340.1" r="2.2"/><circle cx="129.8" cy="330.5" r="2.2"/><circle cx="99.1" cy="326.0" r="2.2"/><circle cx="128.2" cy="335.4" r="2.2"/><circle cx="99.1" cy="321.0" r="2.2"/><circle cx="134.4" cy="331.3" r="2.2"/><circle cx="120.5" cy="326.4" r="2.2"/><circle cx="139.4" cy="323.9" r="2.2"/><circle cx="86.6" cy="334.0" r="2.2"/><circle cx="137.6" cy="314.3" r="2.2"/><circle cx="139.1" cy="328.4" r="2.2"/><circle cx="102.1" cy="320.0" r="2.2"/><circle cx="114.9" cy="328.7" r="2.2"/><circle cx="105.4" cy="323.4" r="2.2"/><circle cx="101.9" cy="330.1" r="2.2"/><circle cx="149.8" cy="327.2" r="2.2"/><circle cx="137.7" cy="324.5" r="2.2"/><circle cx="123.9" cy="324.8" r="2.2"/><circle cx="154.5" cy="323.1" r="2.2"/><circle cx="121.6" cy="324.9" r="2.2"/><circle cx="108.7" cy="315.7" r="2.2"/><circle cx="103.3" cy="340.2" r="2.2"/><circle cx="121.3" cy="322.4" r="2.2"/><circle cx="97.0" cy="324.0" r="2.2"/><circle cx="116.7" cy="340.9" r="2.2"/><circle cx="81.2" cy="323.4" r="2.2"/><circle cx="116.9" cy="319.0" r="2.2"/><circle cx="94.3" cy="315.9" r="2.2"/><circle cx="118.8" cy="322.4" r="2.2"/><circle cx="149.5" cy="326.7" r="2.2"/><circle cx="114.0" cy="330.3" r="2.2"/><circle cx="92.6" cy="327.3" r="2.2"/><circle cx="92.2" cy="336.1" r="2.2"/><circle cx="86.5" cy="319.5" r="2.2"/><circle cx="115.0" cy="315.5" r="2.2"/><circle cx="107.3" cy="330.0" r="2.2"/><circle cx="104.9" cy="335.0" r="2.2"/></g>
<line x1="72.00" y1="323.30" x2="164.00" y2="328.80" stroke="#111" stroke-width="1.8" />
<g fill="none" stroke="#fb9a5a" stroke-width="0.85"><circle cx="134.3" cy="362.5" r="2.5"/><circle cx="127.4" cy="325.4" r="2.5"/><circle cx="132.2" cy="316.6" r="2.5"/><circle cx="104.5" cy="302.0" r="2.5"/><circle cx="128.1" cy="324.8" r="2.5"/><circle cx="106.7" cy="334.0" r="2.5"/><circle cx="87.0" cy="317.7" r="2.5"/><circle cx="117.9" cy="307.4" r="2.5"/><circle cx="109.3" cy="317.4" r="2.5"/><circle cx="122.1" cy="304.6" r="2.5"/><circle cx="120.8" cy="281.8" r="2.5"/><circle cx="122.3" cy="312.0" r="2.5"/><circle cx="137.3" cy="314.4" r="2.5"/><circle cx="110.8" cy="318.2" r="2.5"/><circle cx="106.1" cy="301.9" r="2.5"/><circle cx="132.8" cy="312.0" r="2.5"/><circle cx="110.5" cy="326.4" r="2.5"/><circle cx="122.5" cy="348.0" r="2.5"/><circle cx="132.5" cy="335.1" r="2.5"/><circle cx="113.5" cy="348.3" r="2.5"/><circle cx="129.8" cy="328.4" r="2.5"/><circle cx="112.2" cy="340.0" r="2.5"/><circle cx="124.6" cy="311.4" r="2.5"/><circle cx="103.1" cy="339.1" r="2.5"/><circle cx="87.7" cy="310.8" r="2.5"/><circle cx="119.0" cy="319.7" r="2.5"/><circle cx="102.7" cy="326.0" r="2.5"/><circle cx="128.3" cy="312.9" r="2.5"/><circle cx="103.6" cy="308.9" r="2.5"/><circle cx="135.3" cy="299.5" r="2.5"/><circle cx="99.8" cy="298.1" r="2.5"/><circle cx="117.3" cy="303.0" r="2.5"/><circle cx="100.4" cy="339.8" r="2.5"/><circle cx="100.8" cy="288.9" r="2.5"/><circle cx="102.7" cy="330.0" r="2.5"/><circle cx="117.0" cy="324.6" r="2.5"/><circle cx="116.9" cy="328.4" r="2.5"/><circle cx="109.1" cy="331.8" r="2.5"/><circle cx="127.9" cy="290.9" r="2.5"/><circle cx="125.4" cy="295.0" r="2.5"/><circle cx="102.2" cy="325.7" r="2.5"/><circle cx="114.8" cy="318.7" r="2.5"/><circle cx="136.9" cy="290.0" r="2.5"/><circle cx="93.5" cy="298.1" r="2.5"/><circle cx="112.4" cy="347.7" r="2.5"/><circle cx="107.2" cy="335.5" r="2.5"/><circle cx="114.4" cy="346.7" r="2.5"/><circle cx="134.4" cy="281.4" r="2.5"/><circle cx="119.7" cy="309.3" r="2.5"/><circle cx="126.2" cy="306.8" r="2.5"/><circle cx="131.7" cy="299.0" r="2.5"/><circle cx="126.3" cy="325.5" r="2.5"/><circle cx="122.5" cy="299.5" r="2.5"/><circle cx="83.4" cy="329.9" r="2.5"/><circle cx="131.7" cy="314.1" r="2.5"/><circle cx="87.8" cy="304.5" r="2.5"/><circle cx="108.7" cy="338.5" r="2.5"/><circle cx="110.1" cy="310.8" r="2.5"/><circle cx="123.7" cy="289.5" r="2.5"/><circle cx="123.1" cy="310.0" r="2.5"/><circle cx="120.0" cy="329.6" r="2.5"/><circle cx="123.9" cy="308.6" r="2.5"/><circle cx="113.0" cy="353.4" r="2.5"/><circle cx="121.1" cy="297.1" r="2.5"/><circle cx="116.6" cy="316.0" r="2.5"/><circle cx="100.0" cy="304.5" r="2.5"/><circle cx="104.4" cy="335.3" r="2.5"/><circle cx="103.1" cy="294.8" r="2.5"/><circle cx="145.3" cy="302.7" r="2.5"/><circle cx="130.7" cy="301.0" r="2.5"/><circle cx="121.5" cy="321.6" r="2.5"/><circle cx="111.5" cy="318.4" r="2.5"/><circle cx="109.4" cy="316.2" r="2.5"/><circle cx="111.2" cy="311.1" r="2.5"/><circle cx="114.3" cy="324.6" r="2.5"/><circle cx="109.2" cy="340.4" r="2.5"/><circle cx="102.1" cy="287.8" r="2.5"/><circle cx="113.7" cy="324.3" r="2.5"/><circle cx="116.0" cy="306.3" r="2.5"/><circle cx="111.8" cy="316.1" r="2.5"/><circle cx="138.4" cy="324.7" r="2.5"/><circle cx="104.4" cy="310.7" r="2.5"/><circle cx="132.6" cy="325.3" r="2.5"/><circle cx="112.5" cy="315.9" r="2.5"/><circle cx="91.6" cy="356.7" r="2.5"/><circle cx="126.4" cy="300.0" r="2.5"/><circle cx="125.4" cy="318.1" r="2.5"/><circle cx="119.7" cy="296.7" r="2.5"/><circle cx="118.8" cy="341.4" r="2.5"/><circle cx="84.4" cy="310.2" r="2.5"/><circle cx="129.6" cy="294.9" r="2.5"/><circle cx="121.5" cy="319.5" r="2.5"/><circle cx="118.8" cy="316.2" r="2.5"/><circle cx="133.3" cy="331.3" r="2.5"/><circle cx="124.8" cy="298.2" r="2.5"/><circle cx="114.9" cy="315.3" r="2.5"/><circle cx="115.2" cy="324.8" r="2.5"/><circle cx="107.0" cy="343.4" r="2.5"/><circle cx="103.9" cy="283.0" r="2.5"/><circle cx="106.0" cy="337.0" r="2.5"/><circle cx="120.6" cy="296.6" r="2.5"/><circle cx="108.3" cy="313.8" r="2.5"/><circle cx="114.8" cy="326.7" r="2.5"/><circle cx="125.1" cy="283.7" r="2.5"/><circle cx="90.9" cy="308.1" r="2.5"/><circle cx="91.8" cy="302.3" r="2.5"/><circle cx="111.1" cy="306.9" r="2.5"/><circle cx="125.1" cy="308.2" r="2.5"/><circle cx="115.5" cy="323.1" r="2.5"/><circle cx="109.7" cy="324.6" r="2.5"/><circle cx="115.6" cy="320.8" r="2.5"/><circle cx="114.5" cy="315.4" r="2.5"/><circle cx="126.7" cy="308.7" r="2.5"/><circle cx="97.5" cy="345.3" r="2.5"/><circle cx="114.5" cy="333.2" r="2.5"/><circle cx="105.4" cy="323.9" r="2.5"/><circle cx="114.3" cy="310.3" r="2.5"/><circle cx="108.2" cy="281.9" r="2.5"/><circle cx="105.8" cy="310.6" r="2.5"/><circle cx="129.9" cy="326.9" r="2.5"/><circle cx="109.2" cy="320.1" r="2.5"/><circle cx="90.4" cy="306.8" r="2.5"/><circle cx="107.2" cy="314.8" r="2.5"/><circle cx="110.1" cy="281.4" r="2.5"/><circle cx="108.7" cy="318.3" r="2.5"/><circle cx="134.3" cy="331.4" r="2.5"/><circle cx="108.6" cy="299.3" r="2.5"/><circle cx="112.7" cy="282.8" r="2.5"/><circle cx="114.4" cy="300.6" r="2.5"/><circle cx="110.9" cy="302.1" r="2.5"/><circle cx="114.6" cy="343.0" r="2.5"/><circle cx="103.5" cy="294.9" r="2.5"/><circle cx="121.9" cy="310.4" r="2.5"/><circle cx="110.5" cy="342.9" r="2.5"/><circle cx="131.0" cy="306.1" r="2.5"/><circle cx="99.8" cy="291.1" r="2.5"/><circle cx="109.7" cy="321.7" r="2.5"/><circle cx="92.8" cy="355.0" r="2.5"/><circle cx="120.5" cy="326.0" r="2.5"/><circle cx="113.1" cy="347.1" r="2.5"/><circle cx="125.2" cy="301.8" r="2.5"/><circle cx="119.0" cy="299.8" r="2.5"/><circle cx="96.2" cy="373.0" r="2.5"/><circle cx="90.3" cy="316.3" r="2.5"/><circle cx="95.9" cy="352.5" r="2.5"/><circle cx="128.7" cy="337.9" r="2.5"/><circle cx="130.4" cy="312.5" r="2.5"/><circle cx="114.1" cy="317.2" r="2.5"/><circle cx="86.9" cy="336.3" r="2.5"/><circle cx="125.8" cy="341.6" r="2.5"/><circle cx="125.1" cy="281.6" r="2.5"/><circle cx="116.0" cy="317.1" r="2.5"/><circle cx="94.3" cy="338.0" r="2.5"/><circle cx="103.7" cy="321.3" r="2.5"/><circle cx="129.4" cy="304.2" r="2.5"/><circle cx="124.5" cy="326.6" r="2.5"/><circle cx="95.7" cy="321.3" r="2.5"/><circle cx="126.0" cy="309.8" r="2.5"/><circle cx="111.5" cy="318.0" r="2.5"/><circle cx="113.4" cy="331.6" r="2.5"/><circle cx="106.1" cy="304.8" r="2.5"/><circle cx="115.3" cy="327.1" r="2.5"/><circle cx="114.6" cy="311.9" r="2.5"/><circle cx="116.9" cy="331.2" r="2.5"/><circle cx="106.4" cy="295.6" r="2.5"/><circle cx="122.2" cy="306.5" r="2.5"/><circle cx="132.5" cy="292.4" r="2.5"/><circle cx="122.1" cy="305.3" r="2.5"/><circle cx="108.2" cy="336.7" r="2.5"/><circle cx="96.5" cy="329.3" r="2.5"/><circle cx="104.1" cy="342.8" r="2.5"/><circle cx="110.5" cy="347.4" r="2.5"/><circle cx="116.6" cy="330.9" r="2.5"/><circle cx="114.9" cy="315.6" r="2.5"/><circle cx="118.0" cy="300.6" r="2.5"/><circle cx="117.8" cy="310.6" r="2.5"/><circle cx="117.4" cy="315.3" r="2.5"/><circle cx="105.9" cy="310.5" r="2.5"/><circle cx="109.3" cy="308.6" r="2.5"/><circle cx="118.2" cy="300.4" r="2.5"/><circle cx="112.5" cy="330.4" r="2.5"/><circle cx="105.9" cy="310.3" r="2.5"/><circle cx="119.3" cy="324.4" r="2.5"/><circle cx="130.8" cy="304.2" r="2.5"/><circle cx="112.2" cy="334.5" r="2.5"/><circle cx="145.1" cy="295.6" r="2.5"/><circle cx="123.7" cy="306.7" r="2.5"/><circle cx="142.6" cy="293.8" r="2.5"/><circle cx="101.7" cy="301.8" r="2.5"/><circle cx="105.3" cy="317.2" r="2.5"/><circle cx="127.6" cy="309.4" r="2.5"/><circle cx="118.2" cy="293.3" r="2.5"/><circle cx="109.5" cy="329.5" r="2.5"/><circle cx="130.7" cy="293.3" r="2.5"/><circle cx="108.3" cy="323.0" r="2.5"/><circle cx="110.9" cy="323.6" r="2.5"/><circle cx="110.5" cy="330.2" r="2.5"/><circle cx="115.4" cy="289.1" r="2.5"/><circle cx="112.8" cy="323.5" r="2.5"/><circle cx="97.0" cy="299.0" r="2.5"/><circle cx="124.6" cy="321.9" r="2.5"/><circle cx="99.0" cy="329.1" r="2.5"/><circle cx="109.2" cy="293.9" r="2.5"/><circle cx="107.6" cy="330.7" r="2.5"/><circle cx="100.6" cy="332.8" r="2.5"/><circle cx="146.0" cy="324.2" r="2.5"/><circle cx="107.5" cy="329.9" r="2.5"/><circle cx="87.3" cy="331.1" r="2.5"/><circle cx="103.8" cy="332.1" r="2.5"/><circle cx="105.7" cy="319.7" r="2.5"/><circle cx="114.5" cy="326.3" r="2.5"/><circle cx="110.6" cy="317.4" r="2.5"/><circle cx="109.4" cy="295.7" r="2.5"/><circle cx="117.0" cy="308.4" r="2.5"/><circle cx="102.7" cy="300.9" r="2.5"/><circle cx="111.7" cy="309.5" r="2.5"/><circle cx="103.1" cy="303.7" r="2.5"/><circle cx="141.6" cy="335.2" r="2.5"/><circle cx="107.8" cy="328.0" r="2.5"/><circle cx="107.0" cy="314.4" r="2.5"/><circle cx="114.2" cy="288.9" r="2.5"/><circle cx="113.9" cy="325.5" r="2.5"/><circle cx="128.6" cy="326.6" r="2.5"/><circle cx="106.7" cy="328.9" r="2.5"/><circle cx="114.7" cy="302.6" r="2.5"/><circle cx="115.1" cy="328.3" r="2.5"/><circle cx="95.4" cy="294.8" r="2.5"/><circle cx="101.6" cy="323.0" r="2.5"/><circle cx="127.2" cy="311.4" r="2.5"/><circle cx="106.7" cy="337.3" r="2.5"/><circle cx="94.1" cy="298.0" r="2.5"/><circle cx="115.3" cy="316.2" r="2.5"/><circle cx="103.0" cy="321.5" r="2.5"/><circle cx="130.6" cy="335.1" r="2.5"/><circle cx="109.5" cy="352.1" r="2.5"/><circle cx="112.8" cy="313.0" r="2.5"/><circle cx="95.7" cy="329.2" r="2.5"/><circle cx="124.7" cy="304.2" r="2.5"/><circle cx="129.0" cy="322.6" r="2.5"/><circle cx="130.8" cy="305.4" r="2.5"/><circle cx="103.5" cy="299.0" r="2.5"/><circle cx="128.1" cy="289.2" r="2.5"/><circle cx="114.6" cy="314.1" r="2.5"/><circle cx="128.9" cy="303.4" r="2.5"/><circle cx="100.3" cy="305.8" r="2.5"/><circle cx="115.7" cy="319.0" r="2.5"/><circle cx="130.6" cy="334.9" r="2.5"/><circle cx="108.0" cy="317.6" r="2.5"/><circle cx="129.7" cy="316.0" r="2.5"/><circle cx="108.2" cy="306.5" r="2.5"/><circle cx="83.9" cy="318.9" r="2.5"/><circle cx="118.4" cy="316.4" r="2.5"/><circle cx="112.1" cy="328.3" r="2.5"/><circle cx="102.1" cy="299.7" r="2.5"/><circle cx="97.9" cy="350.9" r="2.5"/><circle cx="112.0" cy="338.3" r="2.5"/><circle cx="114.7" cy="312.5" r="2.5"/><circle cx="114.6" cy="310.4" r="2.5"/><circle cx="112.9" cy="286.4" r="2.5"/><circle cx="112.3" cy="334.0" r="2.5"/><circle cx="106.4" cy="314.1" r="2.5"/><circle cx="123.4" cy="291.7" r="2.5"/><circle cx="103.9" cy="325.8" r="2.5"/><circle cx="115.7" cy="289.5" r="2.5"/><circle cx="123.3" cy="330.0" r="2.5"/><circle cx="118.8" cy="324.3" r="2.5"/><circle cx="131.4" cy="321.7" r="2.5"/><circle cx="99.9" cy="323.2" r="2.5"/><circle cx="99.3" cy="318.8" r="2.5"/><circle cx="122.7" cy="331.8" r="2.5"/><circle cx="116.1" cy="291.4" r="2.5"/><circle cx="105.8" cy="349.6" r="2.5"/><circle cx="127.6" cy="308.8" r="2.5"/><circle cx="114.7" cy="311.8" r="2.5"/><circle cx="113.8" cy="322.8" r="2.5"/><circle cx="125.1" cy="358.3" r="2.5"/><circle cx="125.8" cy="325.3" r="2.5"/><circle cx="131.0" cy="324.2" r="2.5"/><circle cx="125.9" cy="300.4" r="2.5"/><circle cx="128.5" cy="287.7" r="2.5"/><circle cx="139.8" cy="304.3" r="2.5"/><circle cx="88.1" cy="308.9" r="2.5"/><circle cx="120.7" cy="313.5" r="2.5"/><circle cx="118.5" cy="298.7" r="2.5"/><circle cx="105.5" cy="307.9" r="2.5"/><circle cx="108.4" cy="337.3" r="2.5"/><circle cx="112.3" cy="305.0" r="2.5"/><circle cx="117.8" cy="285.7" r="2.5"/><circle cx="100.2" cy="326.5" r="2.5"/><circle cx="131.2" cy="323.5" r="2.5"/><circle cx="109.5" cy="293.6" r="2.5"/><circle cx="97.8" cy="338.1" r="2.5"/><circle cx="103.7" cy="324.9" r="2.5"/><circle cx="102.5" cy="313.2" r="2.5"/><circle cx="129.1" cy="314.4" r="2.5"/><circle cx="105.4" cy="342.9" r="2.5"/><circle cx="104.8" cy="313.7" r="2.5"/><circle cx="116.6" cy="337.3" r="2.5"/><circle cx="125.1" cy="341.1" r="2.5"/><circle cx="131.9" cy="307.0" r="2.5"/><circle cx="135.1" cy="291.6" r="2.5"/><circle cx="110.6" cy="301.9" r="2.5"/><circle cx="108.5" cy="342.4" r="2.5"/><circle cx="141.3" cy="330.7" r="2.5"/><circle cx="105.8" cy="315.9" r="2.5"/><circle cx="137.3" cy="306.4" r="2.5"/><circle cx="113.2" cy="308.8" r="2.5"/><circle cx="113.0" cy="308.9" r="2.5"/><circle cx="127.3" cy="317.6" r="2.5"/><circle cx="100.4" cy="335.7" r="2.5"/><circle cx="141.3" cy="292.2" r="2.5"/><circle cx="133.9" cy="312.0" r="2.5"/><circle cx="105.6" cy="308.2" r="2.5"/><circle cx="111.6" cy="309.5" r="2.5"/><circle cx="92.5" cy="317.2" r="2.5"/><circle cx="113.2" cy="329.2" r="2.5"/><circle cx="114.8" cy="339.8" r="2.5"/><circle cx="135.6" cy="322.1" r="2.5"/><circle cx="114.8" cy="314.2" r="2.5"/><circle cx="106.3" cy="326.2" r="2.5"/><circle cx="122.3" cy="321.5" r="2.5"/><circle cx="151.6" cy="307.5" r="2.5"/><circle cx="115.2" cy="337.1" r="2.5"/><circle cx="105.7" cy="293.0" r="2.5"/><circle cx="133.5" cy="322.5" r="2.5"/><circle cx="111.4" cy="295.7" r="2.5"/><circle cx="114.1" cy="321.2" r="2.5"/><circle cx="113.1" cy="318.0" r="2.5"/><circle cx="122.2" cy="323.4" r="2.5"/><circle cx="111.9" cy="329.0" r="2.5"/><circle cx="108.6" cy="323.6" r="2.5"/><circle cx="111.4" cy="331.2" r="2.5"/><circle cx="140.7" cy="326.2" r="2.5"/><circle cx="122.8" cy="343.4" r="2.5"/><circle cx="102.6" cy="341.5" r="2.5"/><circle cx="128.5" cy="283.8" r="2.5"/><circle cx="106.7" cy="293.7" r="2.5"/><circle cx="130.3" cy="338.0" r="2.5"/><circle cx="127.8" cy="306.3" r="2.5"/><circle cx="95.0" cy="339.2" r="2.5"/><circle cx="122.8" cy="314.3" r="2.5"/><circle cx="116.9" cy="314.1" r="2.5"/><circle cx="107.9" cy="339.5" r="2.5"/><circle cx="115.8" cy="348.3" r="2.5"/><circle cx="120.1" cy="303.9" r="2.5"/><circle cx="120.2" cy="330.1" r="2.5"/><circle cx="89.9" cy="346.5" r="2.5"/><circle cx="118.6" cy="345.0" r="2.5"/><circle cx="104.6" cy="285.7" r="2.5"/><circle cx="80.9" cy="310.6" r="2.5"/><circle cx="118.6" cy="328.8" r="2.5"/><circle cx="120.6" cy="298.1" r="2.5"/><circle cx="111.8" cy="336.4" r="2.5"/><circle cx="111.0" cy="311.3" r="2.5"/><circle cx="94.4" cy="319.2" r="2.5"/><circle cx="114.4" cy="292.6" r="2.5"/><circle cx="123.2" cy="312.8" r="2.5"/><circle cx="104.2" cy="342.2" r="2.5"/><circle cx="102.7" cy="316.1" r="2.5"/><circle cx="105.3" cy="319.5" r="2.5"/><circle cx="92.6" cy="330.9" r="2.5"/><circle cx="117.9" cy="319.7" r="2.5"/><circle cx="111.7" cy="301.6" r="2.5"/><circle cx="110.5" cy="303.8" r="2.5"/><circle cx="117.3" cy="310.8" r="2.5"/><circle cx="108.0" cy="312.4" r="2.5"/><circle cx="97.5" cy="321.8" r="2.5"/><circle cx="104.2" cy="342.5" r="2.5"/><circle cx="100.0" cy="322.2" r="2.5"/><circle cx="107.8" cy="341.0" r="2.5"/><circle cx="114.9" cy="299.5" r="2.5"/><circle cx="131.8" cy="328.0" r="2.5"/><circle cx="108.8" cy="302.9" r="2.5"/><circle cx="106.5" cy="323.9" r="2.5"/><circle cx="118.4" cy="315.2" r="2.5"/><circle cx="98.4" cy="308.3" r="2.5"/><circle cx="128.0" cy="281.3" r="2.5"/><circle cx="114.8" cy="283.8" r="2.5"/><circle cx="85.9" cy="318.2" r="2.5"/><circle cx="104.7" cy="299.4" r="2.5"/><circle cx="116.6" cy="317.6" r="2.5"/><circle cx="100.1" cy="352.0" r="2.5"/><circle cx="147.2" cy="291.3" r="2.5"/><circle cx="113.3" cy="312.1" r="2.5"/><circle cx="89.2" cy="309.7" r="2.5"/><circle cx="122.8" cy="284.0" r="2.5"/><circle cx="134.4" cy="292.0" r="2.5"/><circle cx="131.8" cy="310.9" r="2.5"/><circle cx="122.3" cy="307.9" r="2.5"/><circle cx="99.6" cy="331.9" r="2.5"/><circle cx="112.0" cy="307.4" r="2.5"/><circle cx="128.0" cy="315.7" r="2.5"/><circle cx="101.1" cy="346.1" r="2.5"/><circle cx="117.7" cy="352.3" r="2.5"/><circle cx="133.3" cy="316.7" r="2.5"/><circle cx="129.0" cy="323.4" r="2.5"/><circle cx="126.8" cy="327.1" r="2.5"/><circle cx="113.8" cy="296.8" r="2.5"/><circle cx="118.7" cy="333.3" r="2.5"/><circle cx="114.4" cy="309.0" r="2.5"/><circle cx="131.8" cy="338.2" r="2.5"/><circle cx="85.2" cy="332.6" r="2.5"/><circle cx="110.7" cy="296.0" r="2.5"/><circle cx="119.3" cy="303.4" r="2.5"/><circle cx="113.9" cy="312.2" r="2.5"/><circle cx="121.1" cy="297.1" r="2.5"/><circle cx="101.0" cy="310.1" r="2.5"/><circle cx="124.3" cy="335.4" r="2.5"/><circle cx="119.0" cy="329.9" r="2.5"/><circle cx="114.3" cy="333.8" r="2.5"/><circle cx="101.8" cy="344.0" r="2.5"/><circle cx="132.2" cy="317.6" r="2.5"/><circle cx="95.7" cy="281.9" r="2.5"/><circle cx="99.7" cy="303.3" r="2.5"/><circle cx="97.3" cy="336.7" r="2.5"/><circle cx="109.1" cy="292.9" r="2.5"/><circle cx="109.6" cy="316.4" r="2.5"/><circle cx="117.6" cy="327.2" r="2.5"/><circle cx="126.5" cy="313.7" r="2.5"/><circle cx="126.5" cy="305.2" r="2.5"/><circle cx="93.0" cy="322.7" r="2.5"/><circle cx="106.8" cy="301.6" r="2.5"/><circle cx="113.4" cy="309.4" r="2.5"/><circle cx="110.0" cy="322.0" r="2.5"/><circle cx="91.2" cy="321.7" r="2.5"/><circle cx="125.5" cy="316.2" r="2.5"/><circle cx="131.4" cy="320.8" r="2.5"/><circle cx="135.7" cy="309.4" r="2.5"/><circle cx="107.2" cy="308.4" r="2.5"/><circle cx="111.4" cy="288.9" r="2.5"/><circle cx="118.4" cy="337.0" r="2.5"/><circle cx="93.3" cy="305.2" r="2.5"/><circle cx="129.7" cy="328.6" r="2.5"/><circle cx="120.1" cy="296.9" r="2.5"/><circle cx="111.2" cy="293.0" r="2.5"/><circle cx="118.3" cy="327.2" r="2.5"/><circle cx="112.4" cy="293.7" r="2.5"/><circle cx="120.8" cy="324.3" r="2.5"/><circle cx="101.1" cy="306.7" r="2.5"/><circle cx="104.0" cy="309.8" r="2.5"/><circle cx="112.1" cy="335.4" r="2.5"/><circle cx="113.4" cy="311.1" r="2.5"/><circle cx="111.0" cy="349.4" r="2.5"/><circle cx="115.2" cy="298.4" r="2.5"/><circle cx="118.7" cy="302.9" r="2.5"/><circle cx="102.7" cy="309.5" r="2.5"/><circle cx="115.8" cy="287.6" r="2.5"/><circle cx="101.7" cy="286.6" r="2.5"/><circle cx="118.3" cy="320.6" r="2.5"/><circle cx="98.4" cy="294.4" r="2.5"/><circle cx="107.3" cy="320.5" r="2.5"/><circle cx="114.1" cy="321.7" r="2.5"/><circle cx="122.7" cy="319.3" r="2.5"/><circle cx="126.4" cy="325.1" r="2.5"/><circle cx="113.8" cy="353.8" r="2.5"/><circle cx="116.7" cy="298.8" r="2.5"/><circle cx="93.6" cy="352.9" r="2.5"/><circle cx="127.2" cy="325.0" r="2.5"/><circle cx="106.2" cy="285.1" r="2.5"/><circle cx="109.5" cy="330.5" r="2.5"/><circle cx="88.2" cy="339.8" r="2.5"/><circle cx="124.8" cy="336.6" r="2.5"/><circle cx="116.4" cy="300.2" r="2.5"/><circle cx="121.9" cy="310.6" r="2.5"/><circle cx="110.7" cy="340.4" r="2.5"/><circle cx="126.1" cy="303.3" r="2.5"/><circle cx="126.0" cy="322.3" r="2.5"/><circle cx="121.6" cy="335.3" r="2.5"/><circle cx="119.9" cy="337.2" r="2.5"/><circle cx="95.8" cy="283.2" r="2.5"/><circle cx="103.0" cy="304.3" r="2.5"/><circle cx="122.9" cy="337.7" r="2.5"/><circle cx="123.5" cy="284.2" r="2.5"/><circle cx="134.6" cy="308.7" r="2.5"/><circle cx="108.1" cy="299.9" r="2.5"/></g>
<line x1="73.70" y1="330.30" x2="164.00" y2="302.60" stroke="#fb9a5a" stroke-width="2.4" />
<text x="183.2" y="249.6" font-size="13.5" fill="#2fa3cb" textLength="77.0" lengthAdjust="spacingAndGlyphs" >500 ms trials</text>
<text x="272.6" y="263.0" font-size="10.2" fill="#2fa3cb" text-anchor="end" textLength="35.1" lengthAdjust="spacingAndGlyphs" >r = 0.31</text>
<text x="272.2" y="271.7" font-size="10.2" fill="#2fa3cb" text-anchor="end" textLength="42.7" lengthAdjust="spacingAndGlyphs" font-style="italic" >p &lt; 0.001</text>
<line x1="172.00" y1="273.80" x2="172.00" y2="374.70" stroke="#8a8a8a" stroke-width="1" />
<line x1="172.00" y1="374.70" x2="273.30" y2="374.70" stroke="#9a9a9a" stroke-width="1.2" />
<line x1="171.20" y1="291.70" x2="173.20" y2="291.70" stroke="#555" stroke-width="1" />
<line x1="171.20" y1="308.80" x2="173.20" y2="308.80" stroke="#555" stroke-width="1" />
<line x1="171.20" y1="325.90" x2="173.20" y2="325.90" stroke="#555" stroke-width="1" />
<line x1="171.20" y1="343.00" x2="173.20" y2="343.00" stroke="#555" stroke-width="1" />
<line x1="171.20" y1="360.10" x2="173.20" y2="360.10" stroke="#555" stroke-width="1" />
<line x1="187.90" y1="375.50" x2="187.90" y2="373.50" stroke="#666" stroke-width="1" />
<line x1="218.30" y1="375.50" x2="218.30" y2="373.50" stroke="#666" stroke-width="1" />
<line x1="248.70" y1="375.50" x2="248.70" y2="373.50" stroke="#666" stroke-width="1" />
<text x="187.0" y="389.2" font-size="15" fill="#000" text-anchor="middle" textLength="12.6" lengthAdjust="spacingAndGlyphs" >-2</text>
<text x="218.3" y="389.2" font-size="15" fill="#000" text-anchor="middle" >0</text>
<text x="248.7" y="389.2" font-size="15" fill="#000" text-anchor="middle" >2</text>
<text x="222.0" y="402.8" font-size="15" fill="#000" text-anchor="middle" textLength="51.2" lengthAdjust="spacingAndGlyphs" >Z-score</text>
<text x="222.2" y="416.8" font-size="15" fill="#000" text-anchor="middle" textLength="73.0" lengthAdjust="spacingAndGlyphs" >mov. onset</text>
<g fill="#b3b3b3"><circle cx="213.4" cy="344.7" r="2.2"/><circle cx="236.7" cy="319.8" r="2.2"/><circle cx="221.5" cy="323.2" r="2.2"/><circle cx="255.3" cy="317.0" r="2.2"/><circle cx="238.5" cy="320.3" r="2.2"/><circle cx="212.2" cy="317.9" r="2.2"/><circle cx="199.1" cy="329.5" r="2.2"/><circle cx="219.3" cy="341.9" r="2.2"/><circle cx="224.8" cy="311.8" r="2.2"/><circle cx="221.0" cy="337.3" r="2.2"/><circle cx="225.1" cy="318.9" r="2.2"/><circle cx="229.9" cy="326.5" r="2.2"/><circle cx="203.1" cy="322.0" r="2.2"/><circle cx="234.8" cy="314.5" r="2.2"/><circle cx="251.6" cy="320.3" r="2.2"/><circle cx="199.2" cy="339.3" r="2.2"/><circle cx="208.3" cy="323.9" r="2.2"/><circle cx="213.5" cy="314.8" r="2.2"/><circle cx="230.7" cy="323.2" r="2.2"/><circle cx="239.2" cy="323.5" r="2.2"/><circle cx="203.1" cy="304.6" r="2.2"/><circle cx="251.1" cy="312.9" r="2.2"/><circle cx="214.2" cy="343.0" r="2.2"/><circle cx="201.5" cy="335.9" r="2.2"/><circle cx="241.4" cy="318.4" r="2.2"/><circle cx="251.0" cy="307.3" r="2.2"/><circle cx="235.4" cy="323.3" r="2.2"/><circle cx="220.6" cy="329.5" r="2.2"/><circle cx="207.3" cy="321.9" r="2.2"/><circle cx="232.0" cy="330.1" r="2.2"/><circle cx="213.1" cy="322.4" r="2.2"/><circle cx="248.5" cy="325.8" r="2.2"/><circle cx="231.4" cy="331.4" r="2.2"/><circle cx="222.5" cy="329.3" r="2.2"/><circle cx="221.9" cy="331.8" r="2.2"/><circle cx="233.3" cy="314.9" r="2.2"/><circle cx="210.8" cy="314.0" r="2.2"/><circle cx="219.9" cy="329.8" r="2.2"/><circle cx="190.6" cy="348.1" r="2.2"/><circle cx="239.0" cy="336.3" r="2.2"/><circle cx="240.1" cy="326.0" r="2.2"/><circle cx="230.8" cy="314.6" r="2.2"/><circle cx="225.5" cy="355.7" r="2.2"/><circle cx="197.6" cy="317.8" r="2.2"/><circle cx="260.0" cy="327.4" r="2.2"/><circle cx="214.9" cy="338.9" r="2.2"/><circle cx="235.8" cy="342.6" r="2.2"/><circle cx="205.8" cy="325.3" r="2.2"/><circle cx="228.4" cy="328.8" r="2.2"/><circle cx="244.4" cy="337.6" r="2.2"/><circle cx="206.7" cy="330.2" r="2.2"/><circle cx="227.7" cy="329.5" r="2.2"/><circle cx="260.0" cy="331.9" r="2.2"/><circle cx="237.3" cy="331.7" r="2.2"/><circle cx="232.0" cy="330.5" r="2.2"/><circle cx="220.1" cy="312.0" r="2.2"/><circle cx="221.0" cy="311.1" r="2.2"/><circle cx="214.3" cy="330.7" r="2.2"/><circle cx="245.2" cy="348.7" r="2.2"/><circle cx="198.7" cy="326.3" r="2.2"/><circle cx="234.6" cy="321.4" r="2.2"/><circle cx="221.2" cy="339.4" r="2.2"/><circle cx="240.6" cy="322.5" r="2.2"/><circle cx="207.6" cy="325.7" r="2.2"/><circle cx="257.1" cy="325.4" r="2.2"/><circle cx="206.5" cy="330.4" r="2.2"/><circle cx="220.4" cy="323.4" r="2.2"/><circle cx="241.9" cy="335.0" r="2.2"/><circle cx="215.6" cy="317.3" r="2.2"/><circle cx="239.2" cy="314.2" r="2.2"/><circle cx="201.8" cy="335.2" r="2.2"/><circle cx="243.7" cy="335.2" r="2.2"/><circle cx="232.1" cy="327.0" r="2.2"/><circle cx="213.9" cy="313.2" r="2.2"/><circle cx="226.4" cy="331.1" r="2.2"/><circle cx="223.9" cy="324.3" r="2.2"/><circle cx="199.8" cy="334.4" r="2.2"/><circle cx="204.8" cy="345.7" r="2.2"/><circle cx="243.2" cy="313.5" r="2.2"/><circle cx="246.8" cy="342.6" r="2.2"/><circle cx="233.4" cy="320.4" r="2.2"/><circle cx="216.9" cy="319.1" r="2.2"/><circle cx="207.6" cy="336.3" r="2.2"/><circle cx="212.4" cy="333.1" r="2.2"/><circle cx="209.4" cy="317.8" r="2.2"/><circle cx="208.4" cy="330.8" r="2.2"/><circle cx="215.8" cy="306.6" r="2.2"/><circle cx="211.3" cy="322.3" r="2.2"/><circle cx="257.4" cy="337.3" r="2.2"/><circle cx="212.5" cy="329.5" r="2.2"/><circle cx="204.1" cy="315.4" r="2.2"/><circle cx="218.5" cy="317.0" r="2.2"/><circle cx="235.6" cy="326.3" r="2.2"/><circle cx="242.8" cy="329.3" r="2.2"/><circle cx="244.4" cy="338.4" r="2.2"/><circle cx="214.0" cy="315.6" r="2.2"/><circle cx="191.3" cy="322.2" r="2.2"/><circle cx="219.7" cy="331.4" r="2.2"/><circle cx="214.9" cy="315.0" r="2.2"/><circle cx="200.9" cy="319.0" r="2.2"/><circle cx="234.6" cy="330.3" r="2.2"/><circle cx="225.2" cy="320.2" r="2.2"/><circle cx="216.7" cy="340.1" r="2.2"/><circle cx="231.4" cy="334.1" r="2.2"/><circle cx="219.8" cy="326.0" r="2.2"/><circle cx="239.0" cy="310.3" r="2.2"/><circle cx="232.4" cy="325.5" r="2.2"/><circle cx="240.4" cy="323.9" r="2.2"/><circle cx="198.4" cy="331.9" r="2.2"/><circle cx="205.9" cy="320.3" r="2.2"/><circle cx="248.0" cy="323.3" r="2.2"/><circle cx="209.4" cy="319.3" r="2.2"/><circle cx="210.5" cy="324.2" r="2.2"/><circle cx="206.6" cy="338.9" r="2.2"/><circle cx="203.2" cy="326.3" r="2.2"/><circle cx="215.6" cy="322.6" r="2.2"/><circle cx="204.9" cy="322.1" r="2.2"/><circle cx="216.3" cy="315.3" r="2.2"/><circle cx="243.7" cy="328.4" r="2.2"/><circle cx="228.5" cy="324.3" r="2.2"/><circle cx="234.4" cy="328.9" r="2.2"/><circle cx="245.0" cy="331.0" r="2.2"/><circle cx="194.5" cy="324.3" r="2.2"/><circle cx="224.8" cy="319.1" r="2.2"/><circle cx="236.6" cy="325.3" r="2.2"/><circle cx="228.5" cy="325.4" r="2.2"/><circle cx="215.6" cy="337.4" r="2.2"/><circle cx="212.9" cy="327.3" r="2.2"/><circle cx="188.8" cy="330.4" r="2.2"/><circle cx="210.2" cy="327.3" r="2.2"/><circle cx="213.1" cy="325.9" r="2.2"/><circle cx="222.8" cy="314.9" r="2.2"/><circle cx="220.9" cy="328.7" r="2.2"/><circle cx="227.1" cy="342.7" r="2.2"/><circle cx="208.7" cy="313.7" r="2.2"/><circle cx="235.3" cy="325.7" r="2.2"/><circle cx="244.7" cy="328.1" r="2.2"/><circle cx="222.5" cy="329.2" r="2.2"/><circle cx="197.0" cy="318.1" r="2.2"/><circle cx="223.5" cy="327.3" r="2.2"/><circle cx="221.1" cy="332.2" r="2.2"/><circle cx="188.9" cy="325.1" r="2.2"/><circle cx="263.1" cy="317.7" r="2.2"/><circle cx="221.8" cy="334.8" r="2.2"/><circle cx="227.1" cy="323.2" r="2.2"/><circle cx="224.6" cy="319.0" r="2.2"/><circle cx="210.7" cy="317.0" r="2.2"/><circle cx="229.3" cy="331.4" r="2.2"/><circle cx="221.9" cy="323.4" r="2.2"/><circle cx="239.4" cy="325.8" r="2.2"/><circle cx="236.4" cy="305.0" r="2.2"/><circle cx="199.3" cy="344.4" r="2.2"/><circle cx="228.1" cy="335.1" r="2.2"/><circle cx="228.5" cy="340.9" r="2.2"/><circle cx="228.9" cy="314.8" r="2.2"/><circle cx="245.2" cy="336.3" r="2.2"/><circle cx="221.5" cy="318.6" r="2.2"/><circle cx="257.2" cy="335.0" r="2.2"/><circle cx="212.4" cy="316.5" r="2.2"/><circle cx="220.7" cy="335.7" r="2.2"/><circle cx="244.2" cy="341.5" r="2.2"/><circle cx="215.2" cy="317.9" r="2.2"/><circle cx="216.2" cy="319.7" r="2.2"/><circle cx="206.2" cy="319.6" r="2.2"/><circle cx="234.6" cy="312.0" r="2.2"/><circle cx="222.5" cy="329.6" r="2.2"/><circle cx="225.1" cy="317.1" r="2.2"/><circle cx="214.2" cy="327.8" r="2.2"/><circle cx="259.3" cy="319.5" r="2.2"/><circle cx="238.8" cy="331.2" r="2.2"/><circle cx="241.1" cy="336.9" r="2.2"/><circle cx="201.7" cy="334.9" r="2.2"/><circle cx="250.4" cy="325.0" r="2.2"/><circle cx="211.0" cy="329.7" r="2.2"/><circle cx="234.2" cy="315.9" r="2.2"/><circle cx="199.3" cy="314.5" r="2.2"/><circle cx="242.2" cy="332.7" r="2.2"/><circle cx="220.0" cy="322.1" r="2.2"/><circle cx="221.9" cy="325.3" r="2.2"/><circle cx="208.9" cy="342.8" r="2.2"/><circle cx="267.3" cy="325.0" r="2.2"/><circle cx="230.4" cy="321.9" r="2.2"/><circle cx="249.0" cy="318.2" r="2.2"/><circle cx="209.5" cy="327.5" r="2.2"/><circle cx="227.8" cy="319.7" r="2.2"/><circle cx="216.6" cy="323.1" r="2.2"/><circle cx="230.4" cy="314.2" r="2.2"/><circle cx="183.0" cy="325.8" r="2.2"/><circle cx="232.3" cy="320.5" r="2.2"/><circle cx="226.5" cy="333.9" r="2.2"/><circle cx="237.9" cy="323.2" r="2.2"/><circle cx="212.6" cy="338.7" r="2.2"/><circle cx="236.0" cy="334.3" r="2.2"/><circle cx="237.5" cy="312.9" r="2.2"/><circle cx="230.1" cy="324.5" r="2.2"/><circle cx="228.8" cy="314.1" r="2.2"/><circle cx="250.1" cy="325.7" r="2.2"/><circle cx="239.1" cy="326.1" r="2.2"/><circle cx="218.4" cy="319.6" r="2.2"/><circle cx="225.2" cy="334.1" r="2.2"/><circle cx="201.6" cy="317.6" r="2.2"/><circle cx="210.5" cy="336.4" r="2.2"/><circle cx="222.3" cy="319.9" r="2.2"/><circle cx="197.8" cy="320.8" r="2.2"/><circle cx="233.2" cy="337.4" r="2.2"/><circle cx="207.6" cy="328.1" r="2.2"/><circle cx="259.0" cy="328.7" r="2.2"/><circle cx="244.8" cy="318.1" r="2.2"/><circle cx="200.1" cy="326.5" r="2.2"/><circle cx="243.2" cy="330.9" r="2.2"/><circle cx="247.1" cy="336.1" r="2.2"/><circle cx="202.1" cy="330.4" r="2.2"/><circle cx="237.7" cy="329.9" r="2.2"/><circle cx="242.1" cy="340.3" r="2.2"/><circle cx="217.0" cy="314.2" r="2.2"/><circle cx="185.7" cy="323.7" r="2.2"/><circle cx="211.9" cy="333.1" r="2.2"/><circle cx="221.3" cy="339.6" r="2.2"/><circle cx="242.2" cy="321.2" r="2.2"/><circle cx="247.1" cy="325.0" r="2.2"/><circle cx="210.9" cy="320.7" r="2.2"/><circle cx="204.3" cy="334.7" r="2.2"/><circle cx="261.9" cy="316.8" r="2.2"/><circle cx="234.2" cy="313.2" r="2.2"/><circle cx="221.9" cy="321.2" r="2.2"/><circle cx="213.2" cy="329.4" r="2.2"/><circle cx="228.3" cy="313.0" r="2.2"/><circle cx="215.2" cy="316.9" r="2.2"/><circle cx="226.7" cy="342.2" r="2.2"/><circle cx="194.5" cy="332.6" r="2.2"/><circle cx="244.8" cy="324.1" r="2.2"/><circle cx="257.3" cy="324.8" r="2.2"/><circle cx="250.6" cy="324.1" r="2.2"/><circle cx="211.6" cy="320.0" r="2.2"/><circle cx="214.4" cy="339.0" r="2.2"/><circle cx="214.3" cy="329.9" r="2.2"/><circle cx="231.1" cy="318.7" r="2.2"/><circle cx="237.1" cy="307.6" r="2.2"/><circle cx="194.0" cy="328.0" r="2.2"/><circle cx="270.0" cy="329.2" r="2.2"/><circle cx="205.8" cy="333.1" r="2.2"/><circle cx="210.7" cy="330.8" r="2.2"/><circle cx="256.0" cy="338.9" r="2.2"/><circle cx="215.3" cy="313.6" r="2.2"/><circle cx="232.0" cy="323.3" r="2.2"/><circle cx="220.7" cy="317.8" r="2.2"/><circle cx="209.9" cy="317.7" r="2.2"/><circle cx="229.1" cy="328.0" r="2.2"/><circle cx="218.1" cy="317.8" r="2.2"/><circle cx="232.7" cy="329.8" r="2.2"/><circle cx="229.1" cy="335.7" r="2.2"/><circle cx="248.6" cy="313.9" r="2.2"/><circle cx="246.2" cy="323.6" r="2.2"/><circle cx="235.7" cy="338.4" r="2.2"/><circle cx="221.0" cy="328.4" r="2.2"/><circle cx="225.0" cy="320.5" r="2.2"/><circle cx="219.8" cy="332.8" r="2.2"/><circle cx="247.4" cy="329.0" r="2.2"/><circle cx="216.4" cy="344.3" r="2.2"/><circle cx="204.3" cy="328.3" r="2.2"/><circle cx="231.7" cy="342.2" r="2.2"/><circle cx="226.8" cy="323.3" r="2.2"/><circle cx="218.6" cy="325.8" r="2.2"/><circle cx="250.6" cy="333.0" r="2.2"/><circle cx="198.6" cy="329.7" r="2.2"/><circle cx="212.2" cy="326.8" r="2.2"/><circle cx="238.6" cy="318.4" r="2.2"/><circle cx="232.3" cy="313.8" r="2.2"/><circle cx="233.0" cy="317.2" r="2.2"/><circle cx="232.8" cy="323.9" r="2.2"/><circle cx="218.4" cy="326.3" r="2.2"/><circle cx="217.3" cy="329.0" r="2.2"/><circle cx="228.1" cy="316.0" r="2.2"/><circle cx="222.6" cy="320.8" r="2.2"/><circle cx="206.2" cy="328.9" r="2.2"/><circle cx="248.2" cy="323.3" r="2.2"/><circle cx="196.5" cy="326.7" r="2.2"/><circle cx="222.8" cy="337.0" r="2.2"/><circle cx="197.5" cy="334.9" r="2.2"/><circle cx="209.0" cy="320.0" r="2.2"/><circle cx="236.5" cy="320.7" r="2.2"/><circle cx="244.9" cy="345.9" r="2.2"/><circle cx="222.3" cy="323.3" r="2.2"/><circle cx="215.7" cy="332.0" r="2.2"/><circle cx="213.5" cy="324.9" r="2.2"/><circle cx="225.9" cy="315.4" r="2.2"/><circle cx="233.4" cy="324.5" r="2.2"/><circle cx="226.5" cy="333.4" r="2.2"/><circle cx="228.9" cy="319.0" r="2.2"/><circle cx="234.8" cy="335.9" r="2.2"/><circle cx="201.6" cy="320.1" r="2.2"/><circle cx="230.1" cy="323.8" r="2.2"/><circle cx="212.6" cy="319.7" r="2.2"/><circle cx="239.1" cy="328.6" r="2.2"/><circle cx="236.6" cy="334.5" r="2.2"/><circle cx="225.6" cy="344.2" r="2.2"/><circle cx="222.3" cy="304.3" r="2.2"/><circle cx="238.9" cy="310.9" r="2.2"/><circle cx="236.9" cy="324.0" r="2.2"/><circle cx="231.1" cy="329.7" r="2.2"/><circle cx="239.7" cy="332.6" r="2.2"/><circle cx="228.3" cy="296.8" r="2.2"/><circle cx="236.0" cy="330.2" r="2.2"/><circle cx="245.5" cy="322.1" r="2.2"/><circle cx="223.3" cy="335.9" r="2.2"/><circle cx="224.9" cy="329.9" r="2.2"/><circle cx="228.5" cy="322.5" r="2.2"/><circle cx="232.5" cy="334.4" r="2.2"/><circle cx="236.3" cy="322.3" r="2.2"/><circle cx="203.0" cy="323.1" r="2.2"/><circle cx="226.1" cy="322.7" r="2.2"/><circle cx="209.1" cy="329.0" r="2.2"/><circle cx="223.2" cy="337.3" r="2.2"/><circle cx="235.7" cy="328.9" r="2.2"/><circle cx="233.6" cy="335.3" r="2.2"/><circle cx="203.6" cy="336.7" r="2.2"/><circle cx="190.5" cy="333.2" r="2.2"/><circle cx="233.7" cy="313.2" r="2.2"/><circle cx="246.9" cy="314.3" r="2.2"/><circle cx="249.3" cy="306.7" r="2.2"/><circle cx="230.8" cy="317.5" r="2.2"/><circle cx="238.6" cy="349.4" r="2.2"/><circle cx="230.3" cy="325.5" r="2.2"/><circle cx="234.1" cy="330.7" r="2.2"/><circle cx="215.1" cy="330.7" r="2.2"/><circle cx="240.0" cy="321.8" r="2.2"/><circle cx="252.7" cy="337.6" r="2.2"/><circle cx="246.7" cy="308.7" r="2.2"/><circle cx="211.9" cy="325.4" r="2.2"/><circle cx="200.2" cy="351.6" r="2.2"/><circle cx="203.7" cy="326.0" r="2.2"/><circle cx="230.4" cy="330.0" r="2.2"/><circle cx="237.7" cy="323.3" r="2.2"/><circle cx="259.1" cy="339.5" r="2.2"/><circle cx="211.4" cy="332.0" r="2.2"/><circle cx="215.4" cy="331.0" r="2.2"/><circle cx="267.5" cy="329.9" r="2.2"/><circle cx="237.8" cy="339.7" r="2.2"/><circle cx="214.4" cy="318.7" r="2.2"/><circle cx="243.8" cy="341.5" r="2.2"/><circle cx="262.9" cy="322.6" r="2.2"/><circle cx="213.3" cy="322.2" r="2.2"/><circle cx="215.5" cy="340.0" r="2.2"/><circle cx="229.9" cy="318.8" r="2.2"/><circle cx="245.3" cy="342.0" r="2.2"/><circle cx="210.0" cy="328.3" r="2.2"/><circle cx="245.0" cy="314.3" r="2.2"/><circle cx="219.6" cy="337.9" r="2.2"/><circle cx="236.5" cy="331.0" r="2.2"/><circle cx="234.1" cy="316.7" r="2.2"/><circle cx="237.4" cy="335.9" r="2.2"/><circle cx="205.1" cy="340.6" r="2.2"/><circle cx="239.7" cy="315.9" r="2.2"/><circle cx="208.4" cy="331.6" r="2.2"/><circle cx="209.9" cy="328.0" r="2.2"/><circle cx="211.3" cy="334.8" r="2.2"/><circle cx="248.2" cy="318.1" r="2.2"/><circle cx="226.6" cy="316.1" r="2.2"/><circle cx="215.5" cy="322.5" r="2.2"/><circle cx="209.5" cy="334.0" r="2.2"/></g>
<line x1="180.00" y1="322.00" x2="272.60" y2="330.20" stroke="#111" stroke-width="1.8" />
<g fill="none" stroke="#2fa3cb" stroke-width="0.85"><circle cx="237.7" cy="338.1" r="2.5"/><circle cx="208.5" cy="346.1" r="2.5"/><circle cx="224.9" cy="347.3" r="2.5"/><circle cx="216.2" cy="299.0" r="2.5"/><circle cx="206.2" cy="324.5" r="2.5"/><circle cx="239.9" cy="314.0" r="2.5"/><circle cx="214.4" cy="323.2" r="2.5"/><circle cx="207.9" cy="319.7" r="2.5"/><circle cx="204.2" cy="299.4" r="2.5"/><circle cx="223.1" cy="330.1" r="2.5"/><circle cx="230.7" cy="309.0" r="2.5"/><circle cx="215.6" cy="282.6" r="2.5"/><circle cx="220.6" cy="321.2" r="2.5"/><circle cx="236.7" cy="343.4" r="2.5"/><circle cx="224.6" cy="294.9" r="2.5"/><circle cx="207.7" cy="314.0" r="2.5"/><circle cx="221.7" cy="305.3" r="2.5"/><circle cx="225.9" cy="325.5" r="2.5"/><circle cx="229.0" cy="337.7" r="2.5"/><circle cx="245.9" cy="323.6" r="2.5"/><circle cx="226.7" cy="366.2" r="2.5"/><circle cx="213.1" cy="361.7" r="2.5"/><circle cx="209.8" cy="326.5" r="2.5"/><circle cx="234.9" cy="315.9" r="2.5"/><circle cx="225.6" cy="331.0" r="2.5"/><circle cx="218.3" cy="318.7" r="2.5"/><circle cx="220.8" cy="320.6" r="2.5"/><circle cx="237.8" cy="294.3" r="2.5"/><circle cx="211.4" cy="357.8" r="2.5"/><circle cx="239.3" cy="313.1" r="2.5"/><circle cx="204.1" cy="328.2" r="2.5"/><circle cx="228.0" cy="337.9" r="2.5"/><circle cx="230.8" cy="341.1" r="2.5"/><circle cx="229.2" cy="306.1" r="2.5"/><circle cx="207.5" cy="317.2" r="2.5"/><circle cx="225.8" cy="320.5" r="2.5"/><circle cx="221.4" cy="290.1" r="2.5"/><circle cx="219.4" cy="312.8" r="2.5"/><circle cx="237.3" cy="342.3" r="2.5"/><circle cx="238.9" cy="311.4" r="2.5"/><circle cx="205.4" cy="349.6" r="2.5"/><circle cx="227.2" cy="305.3" r="2.5"/><circle cx="199.1" cy="327.0" r="2.5"/><circle cx="218.6" cy="328.3" r="2.5"/><circle cx="219.3" cy="363.1" r="2.5"/><circle cx="226.6" cy="293.4" r="2.5"/><circle cx="201.1" cy="293.7" r="2.5"/><circle cx="223.0" cy="297.8" r="2.5"/><circle cx="220.5" cy="311.5" r="2.5"/><circle cx="260.4" cy="307.0" r="2.5"/><circle cx="228.3" cy="326.2" r="2.5"/><circle cx="240.3" cy="328.4" r="2.5"/><circle cx="243.5" cy="293.5" r="2.5"/><circle cx="246.2" cy="334.5" r="2.5"/><circle cx="215.7" cy="286.1" r="2.5"/><circle cx="211.2" cy="324.2" r="2.5"/><circle cx="233.9" cy="289.2" r="2.5"/><circle cx="218.2" cy="291.0" r="2.5"/><circle cx="227.3" cy="285.2" r="2.5"/><circle cx="245.8" cy="321.6" r="2.5"/><circle cx="218.5" cy="321.2" r="2.5"/><circle cx="211.6" cy="331.0" r="2.5"/><circle cx="225.8" cy="295.8" r="2.5"/><circle cx="232.8" cy="326.0" r="2.5"/><circle cx="199.7" cy="331.5" r="2.5"/><circle cx="217.5" cy="303.7" r="2.5"/><circle cx="223.8" cy="328.4" r="2.5"/><circle cx="242.3" cy="338.4" r="2.5"/><circle cx="242.8" cy="304.0" r="2.5"/><circle cx="228.2" cy="324.6" r="2.5"/><circle cx="210.5" cy="338.8" r="2.5"/><circle cx="192.6" cy="300.5" r="2.5"/><circle cx="235.0" cy="313.0" r="2.5"/><circle cx="225.7" cy="310.9" r="2.5"/><circle cx="212.0" cy="339.8" r="2.5"/><circle cx="208.8" cy="338.1" r="2.5"/><circle cx="226.6" cy="328.6" r="2.5"/><circle cx="236.9" cy="285.6" r="2.5"/><circle cx="235.2" cy="340.2" r="2.5"/><circle cx="231.2" cy="329.7" r="2.5"/><circle cx="254.6" cy="299.4" r="2.5"/><circle cx="205.5" cy="316.9" r="2.5"/><circle cx="246.2" cy="286.5" r="2.5"/><circle cx="205.0" cy="309.0" r="2.5"/><circle cx="228.9" cy="322.6" r="2.5"/><circle cx="242.0" cy="285.6" r="2.5"/><circle cx="228.6" cy="336.9" r="2.5"/><circle cx="219.1" cy="303.5" r="2.5"/><circle cx="243.9" cy="316.1" r="2.5"/><circle cx="218.1" cy="300.0" r="2.5"/><circle cx="245.5" cy="307.6" r="2.5"/><circle cx="231.6" cy="332.3" r="2.5"/><circle cx="203.9" cy="322.9" r="2.5"/><circle cx="211.3" cy="307.7" r="2.5"/><circle cx="220.8" cy="336.6" r="2.5"/><circle cx="221.3" cy="335.2" r="2.5"/><circle cx="225.7" cy="334.4" r="2.5"/><circle cx="237.8" cy="307.0" r="2.5"/><circle cx="215.5" cy="328.0" r="2.5"/><circle cx="210.7" cy="333.9" r="2.5"/><circle cx="218.4" cy="341.9" r="2.5"/><circle cx="207.5" cy="294.6" r="2.5"/><circle cx="243.4" cy="344.0" r="2.5"/><circle cx="242.3" cy="321.2" r="2.5"/><circle cx="234.4" cy="293.7" r="2.5"/><circle cx="226.1" cy="285.8" r="2.5"/><circle cx="213.2" cy="352.0" r="2.5"/><circle cx="218.8" cy="316.1" r="2.5"/><circle cx="222.5" cy="336.4" r="2.5"/><circle cx="225.3" cy="330.5" r="2.5"/><circle cx="208.0" cy="332.4" r="2.5"/><circle cx="213.5" cy="355.1" r="2.5"/><circle cx="208.2" cy="282.2" r="2.5"/><circle cx="200.6" cy="316.2" r="2.5"/><circle cx="230.6" cy="329.7" r="2.5"/><circle cx="210.1" cy="331.3" r="2.5"/><circle cx="226.3" cy="301.3" r="2.5"/><circle cx="211.7" cy="333.0" r="2.5"/><circle cx="241.1" cy="306.5" r="2.5"/><circle cx="228.1" cy="297.6" r="2.5"/><circle cx="217.8" cy="336.8" r="2.5"/><circle cx="217.3" cy="320.0" r="2.5"/><circle cx="229.5" cy="308.2" r="2.5"/><circle cx="218.2" cy="289.8" r="2.5"/><circle cx="206.8" cy="327.8" r="2.5"/><circle cx="239.1" cy="283.3" r="2.5"/><circle cx="220.1" cy="295.0" r="2.5"/><circle cx="244.2" cy="286.8" r="2.5"/><circle cx="219.5" cy="293.4" r="2.5"/><circle cx="226.5" cy="335.0" r="2.5"/><circle cx="233.0" cy="295.8" r="2.5"/><circle cx="234.4" cy="300.4" r="2.5"/><circle cx="226.6" cy="333.6" r="2.5"/><circle cx="225.1" cy="310.9" r="2.5"/><circle cx="230.2" cy="301.6" r="2.5"/><circle cx="217.1" cy="355.4" r="2.5"/><circle cx="237.4" cy="307.3" r="2.5"/><circle cx="199.6" cy="304.9" r="2.5"/><circle cx="225.3" cy="323.4" r="2.5"/><circle cx="247.9" cy="289.8" r="2.5"/><circle cx="232.8" cy="325.7" r="2.5"/><circle cx="246.9" cy="280.0" r="2.5"/><circle cx="232.0" cy="284.4" r="2.5"/><circle cx="230.9" cy="310.9" r="2.5"/><circle cx="227.3" cy="293.7" r="2.5"/><circle cx="222.6" cy="365.5" r="2.5"/><circle cx="229.1" cy="298.6" r="2.5"/><circle cx="216.8" cy="329.3" r="2.5"/><circle cx="213.7" cy="283.2" r="2.5"/><circle cx="221.0" cy="286.6" r="2.5"/><circle cx="188.9" cy="314.9" r="2.5"/><circle cx="227.7" cy="323.4" r="2.5"/><circle cx="229.3" cy="335.7" r="2.5"/><circle cx="240.1" cy="316.5" r="2.5"/><circle cx="231.3" cy="303.5" r="2.5"/><circle cx="221.0" cy="307.6" r="2.5"/><circle cx="221.9" cy="297.8" r="2.5"/><circle cx="229.0" cy="308.3" r="2.5"/><circle cx="238.5" cy="314.8" r="2.5"/><circle cx="188.7" cy="342.8" r="2.5"/><circle cx="221.0" cy="307.2" r="2.5"/><circle cx="223.1" cy="294.2" r="2.5"/><circle cx="243.0" cy="295.5" r="2.5"/><circle cx="246.9" cy="331.8" r="2.5"/><circle cx="215.9" cy="302.5" r="2.5"/><circle cx="220.3" cy="323.0" r="2.5"/><circle cx="222.3" cy="301.0" r="2.5"/><circle cx="205.6" cy="305.2" r="2.5"/><circle cx="220.6" cy="339.5" r="2.5"/><circle cx="203.1" cy="302.6" r="2.5"/><circle cx="202.1" cy="333.6" r="2.5"/><circle cx="233.8" cy="330.8" r="2.5"/><circle cx="218.7" cy="335.5" r="2.5"/><circle cx="214.8" cy="344.2" r="2.5"/><circle cx="227.1" cy="283.0" r="2.5"/><circle cx="223.4" cy="291.9" r="2.5"/><circle cx="217.5" cy="319.6" r="2.5"/><circle cx="224.8" cy="318.8" r="2.5"/><circle cx="218.2" cy="322.6" r="2.5"/><circle cx="212.6" cy="313.4" r="2.5"/><circle cx="217.3" cy="334.2" r="2.5"/><circle cx="227.5" cy="311.2" r="2.5"/><circle cx="220.7" cy="296.8" r="2.5"/><circle cx="239.0" cy="320.8" r="2.5"/><circle cx="225.9" cy="330.6" r="2.5"/><circle cx="228.1" cy="345.8" r="2.5"/><circle cx="199.9" cy="321.0" r="2.5"/><circle cx="222.3" cy="295.4" r="2.5"/><circle cx="243.6" cy="308.5" r="2.5"/><circle cx="226.6" cy="305.1" r="2.5"/><circle cx="241.6" cy="298.9" r="2.5"/><circle cx="246.5" cy="317.7" r="2.5"/><circle cx="202.1" cy="337.8" r="2.5"/><circle cx="236.6" cy="304.2" r="2.5"/><circle cx="228.6" cy="280.7" r="2.5"/><circle cx="219.8" cy="287.7" r="2.5"/><circle cx="238.0" cy="351.9" r="2.5"/><circle cx="232.7" cy="320.2" r="2.5"/><circle cx="228.4" cy="328.3" r="2.5"/><circle cx="230.4" cy="289.3" r="2.5"/><circle cx="240.8" cy="328.9" r="2.5"/><circle cx="233.3" cy="306.9" r="2.5"/><circle cx="217.8" cy="311.2" r="2.5"/><circle cx="242.4" cy="305.9" r="2.5"/><circle cx="212.3" cy="350.1" r="2.5"/><circle cx="256.4" cy="312.5" r="2.5"/><circle cx="191.5" cy="315.5" r="2.5"/><circle cx="217.2" cy="315.2" r="2.5"/><circle cx="250.0" cy="290.5" r="2.5"/><circle cx="225.1" cy="339.0" r="2.5"/><circle cx="237.7" cy="354.5" r="2.5"/><circle cx="245.2" cy="297.6" r="2.5"/><circle cx="220.7" cy="308.3" r="2.5"/><circle cx="232.4" cy="286.6" r="2.5"/><circle cx="217.6" cy="301.4" r="2.5"/><circle cx="214.7" cy="355.5" r="2.5"/><circle cx="235.2" cy="293.1" r="2.5"/><circle cx="228.6" cy="308.5" r="2.5"/><circle cx="232.2" cy="317.3" r="2.5"/><circle cx="228.5" cy="303.3" r="2.5"/><circle cx="218.0" cy="285.3" r="2.5"/><circle cx="224.0" cy="310.1" r="2.5"/><circle cx="214.2" cy="337.4" r="2.5"/><circle cx="205.7" cy="320.5" r="2.5"/><circle cx="239.4" cy="288.4" r="2.5"/><circle cx="245.4" cy="343.2" r="2.5"/><circle cx="221.6" cy="324.0" r="2.5"/><circle cx="248.3" cy="292.3" r="2.5"/><circle cx="212.4" cy="287.1" r="2.5"/><circle cx="234.0" cy="309.0" r="2.5"/><circle cx="233.5" cy="314.6" r="2.5"/><circle cx="195.2" cy="307.3" r="2.5"/><circle cx="227.3" cy="326.9" r="2.5"/><circle cx="214.4" cy="282.4" r="2.5"/><circle cx="211.7" cy="308.0" r="2.5"/><circle cx="252.4" cy="309.0" r="2.5"/><circle cx="236.2" cy="348.6" r="2.5"/><circle cx="209.6" cy="305.5" r="2.5"/><circle cx="255.6" cy="308.8" r="2.5"/><circle cx="209.7" cy="336.1" r="2.5"/><circle cx="212.6" cy="306.3" r="2.5"/><circle cx="237.3" cy="331.2" r="2.5"/><circle cx="224.9" cy="291.3" r="2.5"/><circle cx="217.0" cy="301.8" r="2.5"/><circle cx="235.2" cy="307.1" r="2.5"/><circle cx="225.8" cy="289.5" r="2.5"/><circle cx="219.9" cy="325.5" r="2.5"/><circle cx="228.3" cy="331.1" r="2.5"/><circle cx="226.3" cy="280.5" r="2.5"/><circle cx="240.9" cy="287.4" r="2.5"/><circle cx="226.8" cy="319.4" r="2.5"/><circle cx="214.5" cy="310.9" r="2.5"/><circle cx="216.7" cy="338.1" r="2.5"/><circle cx="255.3" cy="333.2" r="2.5"/><circle cx="224.8" cy="281.9" r="2.5"/><circle cx="213.8" cy="310.0" r="2.5"/><circle cx="260.0" cy="285.3" r="2.5"/><circle cx="231.2" cy="308.2" r="2.5"/><circle cx="246.0" cy="309.7" r="2.5"/><circle cx="213.5" cy="302.2" r="2.5"/><circle cx="211.6" cy="334.8" r="2.5"/><circle cx="227.6" cy="310.0" r="2.5"/><circle cx="219.4" cy="312.3" r="2.5"/><circle cx="221.4" cy="311.3" r="2.5"/><circle cx="243.4" cy="309.5" r="2.5"/><circle cx="226.4" cy="311.9" r="2.5"/><circle cx="223.3" cy="318.3" r="2.5"/><circle cx="232.2" cy="308.5" r="2.5"/><circle cx="217.9" cy="341.2" r="2.5"/><circle cx="206.8" cy="343.2" r="2.5"/><circle cx="217.1" cy="311.6" r="2.5"/><circle cx="216.7" cy="307.5" r="2.5"/><circle cx="210.3" cy="296.4" r="2.5"/><circle cx="223.6" cy="312.9" r="2.5"/><circle cx="211.6" cy="285.0" r="2.5"/><circle cx="198.2" cy="339.0" r="2.5"/><circle cx="211.3" cy="298.3" r="2.5"/><circle cx="224.4" cy="303.1" r="2.5"/><circle cx="244.0" cy="285.0" r="2.5"/><circle cx="249.5" cy="330.2" r="2.5"/><circle cx="218.3" cy="309.8" r="2.5"/><circle cx="220.6" cy="291.2" r="2.5"/><circle cx="214.0" cy="321.0" r="2.5"/><circle cx="244.4" cy="347.2" r="2.5"/><circle cx="238.7" cy="305.5" r="2.5"/><circle cx="202.5" cy="334.1" r="2.5"/><circle cx="225.8" cy="341.7" r="2.5"/><circle cx="220.0" cy="316.9" r="2.5"/><circle cx="228.4" cy="314.1" r="2.5"/><circle cx="226.6" cy="292.8" r="2.5"/><circle cx="212.8" cy="313.9" r="2.5"/><circle cx="219.7" cy="306.3" r="2.5"/><circle cx="232.1" cy="292.8" r="2.5"/><circle cx="230.2" cy="296.6" r="2.5"/><circle cx="224.2" cy="295.8" r="2.5"/><circle cx="232.3" cy="325.4" r="2.5"/><circle cx="220.0" cy="355.4" r="2.5"/><circle cx="204.6" cy="319.1" r="2.5"/><circle cx="228.4" cy="360.7" r="2.5"/><circle cx="202.1" cy="340.4" r="2.5"/><circle cx="229.1" cy="336.6" r="2.5"/><circle cx="237.3" cy="318.6" r="2.5"/><circle cx="225.4" cy="284.6" r="2.5"/><circle cx="210.4" cy="307.3" r="2.5"/><circle cx="210.5" cy="327.9" r="2.5"/><circle cx="209.5" cy="345.4" r="2.5"/><circle cx="243.3" cy="317.8" r="2.5"/><circle cx="235.2" cy="325.1" r="2.5"/><circle cx="207.3" cy="359.0" r="2.5"/><circle cx="243.4" cy="310.3" r="2.5"/><circle cx="211.8" cy="312.7" r="2.5"/><circle cx="219.4" cy="318.9" r="2.5"/><circle cx="205.4" cy="348.0" r="2.5"/><circle cx="230.5" cy="321.8" r="2.5"/><circle cx="219.9" cy="318.0" r="2.5"/><circle cx="216.3" cy="338.5" r="2.5"/><circle cx="210.5" cy="320.1" r="2.5"/><circle cx="216.8" cy="357.9" r="2.5"/><circle cx="207.0" cy="331.7" r="2.5"/><circle cx="243.9" cy="291.4" r="2.5"/><circle cx="226.4" cy="328.8" r="2.5"/><circle cx="247.7" cy="301.6" r="2.5"/><circle cx="250.5" cy="309.9" r="2.5"/><circle cx="233.2" cy="318.9" r="2.5"/><circle cx="235.4" cy="285.5" r="2.5"/><circle cx="213.4" cy="345.2" r="2.5"/><circle cx="240.1" cy="285.5" r="2.5"/><circle cx="211.5" cy="290.2" r="2.5"/><circle cx="216.6" cy="291.5" r="2.5"/><circle cx="239.3" cy="317.3" r="2.5"/><circle cx="229.6" cy="324.7" r="2.5"/><circle cx="198.9" cy="296.1" r="2.5"/><circle cx="218.7" cy="283.7" r="2.5"/><circle cx="212.6" cy="313.9" r="2.5"/><circle cx="220.8" cy="290.8" r="2.5"/><circle cx="234.0" cy="335.2" r="2.5"/><circle cx="231.2" cy="311.6" r="2.5"/><circle cx="229.1" cy="338.8" r="2.5"/><circle cx="212.6" cy="299.1" r="2.5"/><circle cx="235.1" cy="293.6" r="2.5"/><circle cx="220.7" cy="315.7" r="2.5"/><circle cx="206.8" cy="340.0" r="2.5"/><circle cx="243.4" cy="317.7" r="2.5"/><circle cx="231.9" cy="336.1" r="2.5"/><circle cx="233.5" cy="308.6" r="2.5"/><circle cx="220.8" cy="302.5" r="2.5"/><circle cx="223.0" cy="304.0" r="2.5"/><circle cx="217.5" cy="303.6" r="2.5"/><circle cx="226.7" cy="325.8" r="2.5"/><circle cx="211.3" cy="319.4" r="2.5"/><circle cx="218.8" cy="323.5" r="2.5"/><circle cx="223.1" cy="326.9" r="2.5"/><circle cx="218.4" cy="310.3" r="2.5"/><circle cx="225.5" cy="323.3" r="2.5"/><circle cx="246.1" cy="299.0" r="2.5"/><circle cx="201.2" cy="321.6" r="2.5"/><circle cx="209.7" cy="331.7" r="2.5"/><circle cx="211.1" cy="319.8" r="2.5"/><circle cx="231.7" cy="307.9" r="2.5"/><circle cx="233.5" cy="323.2" r="2.5"/><circle cx="230.5" cy="310.0" r="2.5"/><circle cx="202.7" cy="311.2" r="2.5"/><circle cx="209.7" cy="298.5" r="2.5"/><circle cx="224.3" cy="309.7" r="2.5"/><circle cx="236.1" cy="333.6" r="2.5"/><circle cx="228.5" cy="297.5" r="2.5"/><circle cx="236.3" cy="298.7" r="2.5"/><circle cx="216.0" cy="324.0" r="2.5"/><circle cx="251.0" cy="292.0" r="2.5"/><circle cx="233.6" cy="314.1" r="2.5"/><circle cx="224.3" cy="304.0" r="2.5"/><circle cx="215.1" cy="298.8" r="2.5"/><circle cx="227.0" cy="332.6" r="2.5"/><circle cx="235.8" cy="301.8" r="2.5"/><circle cx="211.0" cy="299.7" r="2.5"/><circle cx="230.1" cy="303.1" r="2.5"/><circle cx="212.2" cy="349.5" r="2.5"/><circle cx="221.2" cy="314.4" r="2.5"/><circle cx="245.2" cy="325.4" r="2.5"/><circle cx="253.8" cy="287.1" r="2.5"/><circle cx="211.3" cy="348.6" r="2.5"/><circle cx="233.9" cy="342.7" r="2.5"/><circle cx="231.0" cy="336.8" r="2.5"/><circle cx="210.3" cy="312.4" r="2.5"/><circle cx="234.2" cy="327.6" r="2.5"/><circle cx="213.5" cy="308.6" r="2.5"/><circle cx="252.0" cy="307.0" r="2.5"/><circle cx="214.0" cy="323.7" r="2.5"/><circle cx="215.3" cy="300.6" r="2.5"/><circle cx="215.3" cy="320.5" r="2.5"/><circle cx="206.3" cy="337.4" r="2.5"/><circle cx="209.9" cy="300.8" r="2.5"/><circle cx="206.7" cy="314.7" r="2.5"/><circle cx="222.3" cy="310.6" r="2.5"/><circle cx="236.0" cy="336.9" r="2.5"/><circle cx="241.2" cy="291.3" r="2.5"/><circle cx="215.9" cy="298.9" r="2.5"/><circle cx="242.0" cy="307.7" r="2.5"/><circle cx="241.1" cy="306.2" r="2.5"/><circle cx="234.3" cy="314.3" r="2.5"/><circle cx="229.4" cy="295.5" r="2.5"/><circle cx="226.4" cy="318.0" r="2.5"/><circle cx="240.7" cy="299.1" r="2.5"/><circle cx="244.9" cy="323.6" r="2.5"/><circle cx="224.3" cy="287.6" r="2.5"/><circle cx="213.9" cy="300.0" r="2.5"/><circle cx="235.0" cy="281.4" r="2.5"/><circle cx="249.2" cy="280.5" r="2.5"/><circle cx="239.3" cy="352.7" r="2.5"/><circle cx="211.7" cy="302.8" r="2.5"/><circle cx="221.2" cy="304.4" r="2.5"/><circle cx="250.5" cy="292.2" r="2.5"/><circle cx="225.9" cy="300.8" r="2.5"/><circle cx="243.4" cy="295.9" r="2.5"/><circle cx="217.3" cy="306.4" r="2.5"/><circle cx="217.6" cy="326.8" r="2.5"/><circle cx="210.8" cy="322.5" r="2.5"/><circle cx="203.8" cy="359.1" r="2.5"/><circle cx="226.4" cy="310.1" r="2.5"/><circle cx="237.5" cy="310.8" r="2.5"/><circle cx="229.8" cy="319.6" r="2.5"/><circle cx="220.8" cy="325.8" r="2.5"/><circle cx="203.6" cy="332.5" r="2.5"/><circle cx="237.6" cy="309.6" r="2.5"/><circle cx="236.8" cy="313.9" r="2.5"/><circle cx="225.6" cy="344.9" r="2.5"/><circle cx="213.4" cy="325.2" r="2.5"/><circle cx="250.7" cy="321.6" r="2.5"/><circle cx="224.4" cy="301.1" r="2.5"/><circle cx="219.2" cy="297.5" r="2.5"/><circle cx="232.9" cy="281.8" r="2.5"/><circle cx="201.9" cy="281.5" r="2.5"/><circle cx="220.7" cy="326.8" r="2.5"/><circle cx="238.9" cy="311.2" r="2.5"/><circle cx="229.4" cy="283.4" r="2.5"/><circle cx="221.3" cy="312.3" r="2.5"/><circle cx="236.8" cy="314.7" r="2.5"/><circle cx="215.9" cy="300.6" r="2.5"/><circle cx="223.3" cy="329.3" r="2.5"/><circle cx="217.3" cy="325.5" r="2.5"/><circle cx="224.2" cy="335.0" r="2.5"/><circle cx="219.5" cy="313.5" r="2.5"/><circle cx="227.8" cy="332.6" r="2.5"/><circle cx="229.2" cy="338.6" r="2.5"/><circle cx="227.4" cy="314.0" r="2.5"/><circle cx="245.0" cy="299.9" r="2.5"/><circle cx="211.9" cy="319.7" r="2.5"/><circle cx="219.2" cy="315.0" r="2.5"/><circle cx="219.8" cy="303.0" r="2.5"/><circle cx="216.4" cy="303.3" r="2.5"/><circle cx="240.3" cy="345.9" r="2.5"/><circle cx="209.0" cy="293.9" r="2.5"/><circle cx="215.9" cy="327.1" r="2.5"/><circle cx="223.1" cy="317.4" r="2.5"/><circle cx="237.6" cy="327.3" r="2.5"/><circle cx="226.8" cy="328.5" r="2.5"/><circle cx="236.6" cy="347.4" r="2.5"/><circle cx="229.6" cy="284.7" r="2.5"/><circle cx="230.5" cy="306.3" r="2.5"/><circle cx="220.9" cy="325.7" r="2.5"/><circle cx="209.0" cy="325.0" r="2.5"/><circle cx="243.7" cy="321.3" r="2.5"/><circle cx="244.4" cy="310.7" r="2.5"/><circle cx="214.6" cy="348.7" r="2.5"/><circle cx="229.4" cy="307.7" r="2.5"/><circle cx="214.1" cy="322.3" r="2.5"/><circle cx="208.9" cy="333.2" r="2.5"/><circle cx="237.7" cy="308.7" r="2.5"/><circle cx="219.1" cy="300.4" r="2.5"/><circle cx="225.5" cy="309.1" r="2.5"/><circle cx="209.3" cy="338.4" r="2.5"/><circle cx="212.4" cy="334.2" r="2.5"/><circle cx="196.3" cy="286.0" r="2.5"/><circle cx="223.9" cy="332.4" r="2.5"/><circle cx="218.5" cy="336.3" r="2.5"/><circle cx="220.1" cy="321.9" r="2.5"/></g>
<line x1="182.50" y1="333.60" x2="272.60" y2="299.20" stroke="#2fa3cb" stroke-width="2.4" />
<text x="292.3" y="249.6" font-size="13.5" fill="#fb9a5a" textLength="77.0" lengthAdjust="spacingAndGlyphs" >200 ms trials</text>
<text x="382.0" y="263.0" font-size="10.2" fill="#fb9a5a" text-anchor="end" textLength="35.1" lengthAdjust="spacingAndGlyphs" >r = 0.26</text>
<text x="381.6" y="271.7" font-size="10.2" fill="#fb9a5a" text-anchor="end" textLength="42.7" lengthAdjust="spacingAndGlyphs" font-style="italic" >p &lt; 0.001</text>
<line x1="281.30" y1="273.80" x2="281.30" y2="374.70" stroke="#8a8a8a" stroke-width="1" />
<line x1="281.30" y1="374.70" x2="382.60" y2="374.70" stroke="#9a9a9a" stroke-width="1.2" />
<line x1="280.50" y1="291.70" x2="282.50" y2="291.70" stroke="#555" stroke-width="1" />
<line x1="280.50" y1="308.80" x2="282.50" y2="308.80" stroke="#555" stroke-width="1" />
<line x1="280.50" y1="325.90" x2="282.50" y2="325.90" stroke="#555" stroke-width="1" />
<line x1="280.50" y1="343.00" x2="282.50" y2="343.00" stroke="#555" stroke-width="1" />
<line x1="280.50" y1="360.10" x2="282.50" y2="360.10" stroke="#555" stroke-width="1" />
<line x1="297.20" y1="375.50" x2="297.20" y2="373.50" stroke="#666" stroke-width="1" />
<line x1="327.60" y1="375.50" x2="327.60" y2="373.50" stroke="#666" stroke-width="1" />
<line x1="358.00" y1="375.50" x2="358.00" y2="373.50" stroke="#666" stroke-width="1" />
<text x="296.3" y="389.2" font-size="15" fill="#000" text-anchor="middle" textLength="12.6" lengthAdjust="spacingAndGlyphs" >-2</text>
<text x="327.6" y="389.2" font-size="15" fill="#000" text-anchor="middle" >0</text>
<text x="358.0" y="389.2" font-size="15" fill="#000" text-anchor="middle" >2</text>
<text x="331.3" y="402.8" font-size="15" fill="#000" text-anchor="middle" textLength="51.2" lengthAdjust="spacingAndGlyphs" >Z-score</text>
<text x="331.5" y="416.8" font-size="15" fill="#000" text-anchor="middle" textLength="73.0" lengthAdjust="spacingAndGlyphs" >rew. onset</text>
<g fill="#b3b3b3"><circle cx="346.4" cy="307.1" r="2.2"/><circle cx="351.9" cy="336.2" r="2.2"/><circle cx="326.0" cy="318.8" r="2.2"/><circle cx="335.2" cy="315.8" r="2.2"/><circle cx="303.5" cy="307.6" r="2.2"/><circle cx="367.5" cy="339.4" r="2.2"/><circle cx="331.0" cy="331.9" r="2.2"/><circle cx="329.8" cy="317.6" r="2.2"/><circle cx="327.8" cy="334.4" r="2.2"/><circle cx="348.6" cy="313.9" r="2.2"/><circle cx="329.5" cy="323.3" r="2.2"/><circle cx="312.7" cy="316.8" r="2.2"/><circle cx="375.9" cy="320.4" r="2.2"/><circle cx="336.3" cy="344.4" r="2.2"/><circle cx="331.9" cy="344.6" r="2.2"/><circle cx="350.6" cy="309.4" r="2.2"/><circle cx="361.2" cy="324.3" r="2.2"/><circle cx="345.8" cy="332.0" r="2.2"/><circle cx="341.2" cy="323.7" r="2.2"/><circle cx="337.0" cy="350.5" r="2.2"/><circle cx="341.5" cy="321.8" r="2.2"/><circle cx="323.8" cy="322.2" r="2.2"/><circle cx="350.5" cy="346.1" r="2.2"/><circle cx="351.9" cy="331.1" r="2.2"/><circle cx="315.8" cy="325.3" r="2.2"/><circle cx="321.7" cy="331.3" r="2.2"/><circle cx="317.5" cy="333.3" r="2.2"/><circle cx="313.9" cy="332.5" r="2.2"/><circle cx="316.0" cy="339.5" r="2.2"/><circle cx="353.5" cy="326.7" r="2.2"/><circle cx="342.5" cy="310.9" r="2.2"/><circle cx="346.9" cy="326.7" r="2.2"/><circle cx="316.5" cy="319.4" r="2.2"/><circle cx="343.7" cy="317.2" r="2.2"/><circle cx="333.3" cy="330.1" r="2.2"/><circle cx="299.4" cy="321.6" r="2.2"/><circle cx="308.7" cy="331.4" r="2.2"/><circle cx="343.7" cy="326.3" r="2.2"/><circle cx="333.4" cy="322.9" r="2.2"/><circle cx="304.3" cy="326.6" r="2.2"/><circle cx="356.8" cy="316.3" r="2.2"/><circle cx="309.0" cy="318.3" r="2.2"/><circle cx="342.5" cy="336.2" r="2.2"/><circle cx="311.4" cy="328.4" r="2.2"/><circle cx="358.9" cy="322.6" r="2.2"/><circle cx="318.5" cy="326.1" r="2.2"/><circle cx="353.0" cy="327.9" r="2.2"/><circle cx="326.9" cy="322.8" r="2.2"/><circle cx="298.8" cy="323.0" r="2.2"/><circle cx="311.2" cy="327.9" r="2.2"/><circle cx="341.1" cy="328.4" r="2.2"/><circle cx="321.9" cy="330.7" r="2.2"/><circle cx="348.9" cy="339.6" r="2.2"/><circle cx="319.3" cy="324.1" r="2.2"/><circle cx="348.7" cy="327.2" r="2.2"/><circle cx="325.7" cy="320.6" r="2.2"/><circle cx="328.1" cy="308.1" r="2.2"/><circle cx="358.0" cy="309.6" r="2.2"/><circle cx="318.4" cy="331.4" r="2.2"/><circle cx="330.3" cy="338.5" r="2.2"/><circle cx="325.9" cy="318.2" r="2.2"/><circle cx="317.6" cy="329.7" r="2.2"/><circle cx="361.1" cy="324.1" r="2.2"/><circle cx="343.9" cy="326.8" r="2.2"/><circle cx="324.2" cy="330.3" r="2.2"/><circle cx="339.7" cy="332.3" r="2.2"/><circle cx="336.0" cy="331.1" r="2.2"/><circle cx="333.7" cy="312.4" r="2.2"/><circle cx="345.9" cy="338.9" r="2.2"/><circle cx="332.0" cy="309.9" r="2.2"/><circle cx="366.7" cy="337.7" r="2.2"/><circle cx="342.9" cy="326.8" r="2.2"/><circle cx="291.7" cy="324.1" r="2.2"/><circle cx="369.8" cy="333.5" r="2.2"/><circle cx="330.1" cy="318.0" r="2.2"/><circle cx="327.6" cy="331.0" r="2.2"/><circle cx="340.2" cy="340.2" r="2.2"/><circle cx="343.9" cy="339.0" r="2.2"/><circle cx="336.3" cy="319.2" r="2.2"/><circle cx="364.0" cy="334.0" r="2.2"/><circle cx="339.4" cy="324.5" r="2.2"/><circle cx="304.2" cy="327.7" r="2.2"/><circle cx="339.4" cy="321.7" r="2.2"/><circle cx="369.6" cy="325.7" r="2.2"/><circle cx="334.5" cy="327.5" r="2.2"/><circle cx="335.2" cy="322.3" r="2.2"/><circle cx="362.7" cy="336.4" r="2.2"/><circle cx="335.9" cy="348.8" r="2.2"/><circle cx="306.6" cy="325.4" r="2.2"/><circle cx="298.9" cy="323.8" r="2.2"/><circle cx="357.5" cy="334.8" r="2.2"/><circle cx="322.9" cy="326.8" r="2.2"/><circle cx="326.2" cy="327.4" r="2.2"/><circle cx="323.0" cy="319.0" r="2.2"/><circle cx="340.4" cy="327.6" r="2.2"/><circle cx="296.4" cy="333.4" r="2.2"/><circle cx="335.8" cy="320.5" r="2.2"/><circle cx="323.8" cy="321.4" r="2.2"/><circle cx="349.6" cy="332.5" r="2.2"/><circle cx="347.6" cy="328.6" r="2.2"/><circle cx="316.1" cy="327.4" r="2.2"/><circle cx="357.5" cy="323.4" r="2.2"/><circle cx="335.5" cy="319.3" r="2.2"/><circle cx="347.3" cy="325.1" r="2.2"/><circle cx="303.6" cy="350.1" r="2.2"/><circle cx="307.2" cy="312.0" r="2.2"/><circle cx="346.5" cy="341.4" r="2.2"/><circle cx="347.8" cy="340.2" r="2.2"/><circle cx="337.5" cy="319.0" r="2.2"/><circle cx="332.1" cy="320.2" r="2.2"/><circle cx="348.8" cy="343.0" r="2.2"/><circle cx="332.3" cy="323.4" r="2.2"/><circle cx="324.7" cy="340.3" r="2.2"/><circle cx="358.0" cy="325.7" r="2.2"/><circle cx="323.3" cy="336.2" r="2.2"/><circle cx="332.1" cy="317.4" r="2.2"/><circle cx="324.8" cy="323.5" r="2.2"/><circle cx="338.3" cy="329.9" r="2.2"/><circle cx="333.6" cy="327.3" r="2.2"/><circle cx="317.5" cy="340.7" r="2.2"/><circle cx="345.3" cy="314.8" r="2.2"/><circle cx="343.4" cy="335.3" r="2.2"/><circle cx="334.4" cy="332.4" r="2.2"/><circle cx="310.6" cy="336.7" r="2.2"/><circle cx="324.5" cy="322.7" r="2.2"/><circle cx="315.1" cy="317.3" r="2.2"/><circle cx="334.6" cy="316.8" r="2.2"/><circle cx="350.8" cy="325.7" r="2.2"/><circle cx="336.4" cy="324.5" r="2.2"/><circle cx="339.6" cy="320.8" r="2.2"/><circle cx="365.4" cy="321.4" r="2.2"/><circle cx="361.3" cy="318.5" r="2.2"/><circle cx="329.0" cy="322.5" r="2.2"/><circle cx="345.8" cy="319.2" r="2.2"/><circle cx="328.7" cy="317.3" r="2.2"/><circle cx="325.1" cy="328.6" r="2.2"/><circle cx="345.9" cy="325.6" r="2.2"/><circle cx="320.6" cy="338.5" r="2.2"/><circle cx="326.2" cy="333.3" r="2.2"/><circle cx="370.5" cy="336.4" r="2.2"/><circle cx="311.1" cy="307.5" r="2.2"/><circle cx="306.9" cy="332.4" r="2.2"/><circle cx="343.1" cy="327.0" r="2.2"/><circle cx="340.0" cy="313.3" r="2.2"/><circle cx="373.8" cy="325.2" r="2.2"/><circle cx="340.8" cy="329.9" r="2.2"/><circle cx="325.7" cy="331.2" r="2.2"/><circle cx="338.1" cy="331.7" r="2.2"/><circle cx="339.1" cy="331.7" r="2.2"/><circle cx="315.8" cy="330.7" r="2.2"/><circle cx="329.3" cy="332.3" r="2.2"/><circle cx="326.3" cy="323.1" r="2.2"/><circle cx="311.5" cy="319.7" r="2.2"/><circle cx="323.2" cy="329.1" r="2.2"/><circle cx="354.1" cy="319.6" r="2.2"/><circle cx="302.7" cy="324.9" r="2.2"/><circle cx="355.8" cy="336.5" r="2.2"/><circle cx="325.6" cy="315.9" r="2.2"/><circle cx="311.9" cy="312.2" r="2.2"/><circle cx="311.1" cy="334.3" r="2.2"/><circle cx="324.1" cy="331.8" r="2.2"/><circle cx="346.2" cy="324.1" r="2.2"/><circle cx="336.3" cy="325.9" r="2.2"/><circle cx="306.3" cy="333.6" r="2.2"/><circle cx="351.4" cy="338.6" r="2.2"/><circle cx="356.7" cy="329.5" r="2.2"/><circle cx="316.1" cy="320.9" r="2.2"/><circle cx="345.9" cy="333.9" r="2.2"/><circle cx="323.7" cy="335.6" r="2.2"/><circle cx="322.8" cy="348.6" r="2.2"/><circle cx="321.8" cy="316.5" r="2.2"/><circle cx="324.8" cy="324.4" r="2.2"/><circle cx="347.3" cy="326.4" r="2.2"/><circle cx="325.3" cy="332.7" r="2.2"/><circle cx="324.3" cy="324.9" r="2.2"/><circle cx="327.2" cy="321.0" r="2.2"/><circle cx="363.5" cy="323.1" r="2.2"/><circle cx="309.9" cy="324.6" r="2.2"/><circle cx="330.6" cy="331.2" r="2.2"/><circle cx="321.6" cy="330.0" r="2.2"/><circle cx="379.3" cy="299.6" r="2.2"/><circle cx="363.5" cy="335.6" r="2.2"/><circle cx="337.0" cy="317.8" r="2.2"/><circle cx="328.6" cy="321.8" r="2.2"/><circle cx="352.9" cy="313.4" r="2.2"/><circle cx="341.8" cy="324.4" r="2.2"/><circle cx="330.3" cy="330.4" r="2.2"/><circle cx="336.5" cy="328.5" r="2.2"/><circle cx="347.3" cy="324.6" r="2.2"/><circle cx="330.3" cy="314.2" r="2.2"/><circle cx="328.5" cy="322.1" r="2.2"/><circle cx="342.4" cy="332.8" r="2.2"/><circle cx="333.9" cy="325.4" r="2.2"/><circle cx="324.5" cy="339.3" r="2.2"/><circle cx="378.0" cy="333.3" r="2.2"/><circle cx="328.5" cy="329.9" r="2.2"/><circle cx="333.6" cy="319.9" r="2.2"/><circle cx="347.3" cy="332.9" r="2.2"/><circle cx="339.8" cy="321.6" r="2.2"/><circle cx="330.7" cy="317.6" r="2.2"/><circle cx="338.4" cy="319.3" r="2.2"/><circle cx="317.0" cy="311.5" r="2.2"/><circle cx="331.8" cy="336.1" r="2.2"/><circle cx="320.1" cy="333.9" r="2.2"/><circle cx="340.5" cy="347.0" r="2.2"/><circle cx="319.3" cy="317.0" r="2.2"/><circle cx="356.4" cy="336.1" r="2.2"/><circle cx="338.6" cy="324.3" r="2.2"/><circle cx="332.6" cy="331.2" r="2.2"/><circle cx="350.4" cy="328.4" r="2.2"/><circle cx="340.4" cy="318.9" r="2.2"/><circle cx="321.4" cy="334.0" r="2.2"/><circle cx="374.5" cy="334.8" r="2.2"/><circle cx="356.1" cy="315.2" r="2.2"/><circle cx="339.1" cy="328.5" r="2.2"/><circle cx="336.0" cy="332.3" r="2.2"/><circle cx="337.8" cy="327.7" r="2.2"/><circle cx="328.5" cy="329.0" r="2.2"/><circle cx="351.3" cy="325.6" r="2.2"/><circle cx="333.8" cy="308.7" r="2.2"/><circle cx="337.0" cy="320.3" r="2.2"/><circle cx="322.8" cy="335.1" r="2.2"/><circle cx="345.3" cy="317.2" r="2.2"/><circle cx="291.1" cy="319.8" r="2.2"/><circle cx="350.1" cy="325.6" r="2.2"/><circle cx="347.7" cy="335.3" r="2.2"/><circle cx="343.3" cy="335.9" r="2.2"/><circle cx="332.7" cy="329.6" r="2.2"/><circle cx="339.0" cy="338.2" r="2.2"/><circle cx="340.8" cy="323.1" r="2.2"/><circle cx="355.2" cy="331.6" r="2.2"/><circle cx="344.3" cy="332.3" r="2.2"/><circle cx="344.4" cy="332.2" r="2.2"/><circle cx="318.1" cy="331.8" r="2.2"/><circle cx="361.7" cy="313.6" r="2.2"/><circle cx="337.3" cy="325.4" r="2.2"/><circle cx="342.3" cy="339.6" r="2.2"/><circle cx="369.0" cy="334.7" r="2.2"/><circle cx="316.1" cy="328.0" r="2.2"/><circle cx="320.1" cy="323.6" r="2.2"/><circle cx="346.8" cy="329.4" r="2.2"/><circle cx="338.8" cy="331.8" r="2.2"/><circle cx="308.1" cy="337.6" r="2.2"/><circle cx="368.9" cy="327.4" r="2.2"/><circle cx="305.6" cy="336.4" r="2.2"/><circle cx="321.8" cy="319.9" r="2.2"/><circle cx="337.9" cy="313.7" r="2.2"/><circle cx="367.4" cy="321.1" r="2.2"/><circle cx="345.0" cy="315.5" r="2.2"/><circle cx="329.3" cy="328.8" r="2.2"/><circle cx="308.6" cy="319.5" r="2.2"/><circle cx="321.7" cy="323.9" r="2.2"/><circle cx="376.1" cy="338.3" r="2.2"/><circle cx="327.9" cy="335.6" r="2.2"/><circle cx="317.0" cy="320.2" r="2.2"/><circle cx="309.0" cy="324.0" r="2.2"/><circle cx="337.1" cy="317.3" r="2.2"/><circle cx="306.0" cy="337.9" r="2.2"/><circle cx="351.9" cy="343.1" r="2.2"/><circle cx="338.2" cy="316.9" r="2.2"/><circle cx="309.8" cy="336.4" r="2.2"/><circle cx="349.7" cy="338.3" r="2.2"/><circle cx="348.8" cy="316.6" r="2.2"/><circle cx="335.5" cy="327.8" r="2.2"/><circle cx="334.1" cy="333.1" r="2.2"/><circle cx="348.1" cy="320.8" r="2.2"/><circle cx="334.7" cy="324.5" r="2.2"/><circle cx="311.6" cy="335.7" r="2.2"/><circle cx="298.8" cy="332.5" r="2.2"/><circle cx="348.9" cy="324.9" r="2.2"/><circle cx="325.9" cy="330.8" r="2.2"/><circle cx="327.6" cy="318.0" r="2.2"/><circle cx="315.0" cy="316.5" r="2.2"/><circle cx="343.3" cy="340.5" r="2.2"/><circle cx="344.9" cy="320.6" r="2.2"/><circle cx="328.0" cy="311.0" r="2.2"/><circle cx="321.6" cy="330.5" r="2.2"/><circle cx="338.5" cy="322.4" r="2.2"/><circle cx="332.0" cy="318.8" r="2.2"/><circle cx="324.8" cy="322.4" r="2.2"/><circle cx="332.6" cy="326.8" r="2.2"/><circle cx="318.6" cy="328.1" r="2.2"/><circle cx="309.5" cy="340.0" r="2.2"/><circle cx="332.1" cy="319.8" r="2.2"/><circle cx="317.6" cy="323.0" r="2.2"/><circle cx="372.0" cy="322.3" r="2.2"/><circle cx="344.9" cy="328.5" r="2.2"/><circle cx="302.5" cy="330.9" r="2.2"/><circle cx="335.8" cy="337.1" r="2.2"/><circle cx="337.8" cy="333.7" r="2.2"/><circle cx="348.8" cy="326.2" r="2.2"/><circle cx="339.0" cy="323.5" r="2.2"/><circle cx="332.3" cy="313.0" r="2.2"/><circle cx="316.4" cy="334.4" r="2.2"/><circle cx="334.0" cy="325.9" r="2.2"/><circle cx="312.8" cy="318.2" r="2.2"/><circle cx="331.7" cy="321.2" r="2.2"/><circle cx="325.5" cy="331.4" r="2.2"/><circle cx="339.8" cy="330.9" r="2.2"/><circle cx="324.1" cy="324.3" r="2.2"/><circle cx="348.1" cy="329.0" r="2.2"/><circle cx="342.2" cy="334.0" r="2.2"/><circle cx="341.9" cy="334.5" r="2.2"/><circle cx="340.5" cy="336.1" r="2.2"/><circle cx="339.0" cy="318.4" r="2.2"/><circle cx="336.6" cy="341.6" r="2.2"/><circle cx="358.9" cy="332.8" r="2.2"/><circle cx="298.4" cy="310.9" r="2.2"/><circle cx="324.2" cy="321.3" r="2.2"/><circle cx="338.6" cy="310.4" r="2.2"/><circle cx="361.0" cy="342.6" r="2.2"/><circle cx="341.9" cy="336.7" r="2.2"/><circle cx="333.1" cy="329.1" r="2.2"/><circle cx="331.5" cy="338.2" r="2.2"/><circle cx="344.8" cy="320.1" r="2.2"/><circle cx="347.6" cy="310.7" r="2.2"/><circle cx="331.4" cy="335.4" r="2.2"/><circle cx="335.8" cy="349.9" r="2.2"/><circle cx="329.7" cy="338.4" r="2.2"/><circle cx="315.2" cy="339.3" r="2.2"/><circle cx="313.3" cy="325.5" r="2.2"/><circle cx="305.1" cy="336.9" r="2.2"/><circle cx="334.0" cy="330.6" r="2.2"/><circle cx="354.6" cy="327.5" r="2.2"/><circle cx="365.9" cy="320.7" r="2.2"/><circle cx="315.3" cy="329.6" r="2.2"/><circle cx="358.5" cy="340.0" r="2.2"/><circle cx="316.8" cy="344.5" r="2.2"/><circle cx="331.1" cy="319.7" r="2.2"/><circle cx="351.6" cy="329.7" r="2.2"/><circle cx="310.7" cy="326.0" r="2.2"/><circle cx="330.3" cy="320.9" r="2.2"/><circle cx="337.0" cy="317.3" r="2.2"/><circle cx="323.8" cy="327.4" r="2.2"/><circle cx="331.7" cy="331.7" r="2.2"/><circle cx="341.2" cy="342.8" r="2.2"/><circle cx="308.6" cy="349.8" r="2.2"/><circle cx="334.4" cy="320.6" r="2.2"/><circle cx="340.9" cy="313.4" r="2.2"/><circle cx="336.0" cy="335.5" r="2.2"/><circle cx="339.9" cy="325.7" r="2.2"/><circle cx="337.5" cy="317.5" r="2.2"/><circle cx="320.5" cy="334.3" r="2.2"/><circle cx="333.8" cy="316.5" r="2.2"/><circle cx="322.2" cy="315.2" r="2.2"/><circle cx="357.7" cy="330.3" r="2.2"/><circle cx="324.8" cy="327.7" r="2.2"/><circle cx="309.5" cy="313.2" r="2.2"/><circle cx="338.3" cy="317.0" r="2.2"/><circle cx="324.9" cy="325.1" r="2.2"/><circle cx="332.8" cy="312.4" r="2.2"/><circle cx="317.7" cy="316.0" r="2.2"/><circle cx="336.2" cy="327.1" r="2.2"/><circle cx="306.6" cy="328.1" r="2.2"/><circle cx="328.5" cy="321.7" r="2.2"/><circle cx="327.2" cy="332.4" r="2.2"/><circle cx="350.4" cy="324.9" r="2.2"/><circle cx="327.9" cy="325.1" r="2.2"/><circle cx="344.0" cy="328.4" r="2.2"/><circle cx="333.8" cy="313.4" r="2.2"/></g>
<line x1="290.80" y1="323.00" x2="382.30" y2="329.00" stroke="#111" stroke-width="1.8" />
<g fill="none" stroke="#fb9a5a" stroke-width="0.85"><circle cx="331.0" cy="352.5" r="2.5"/><circle cx="323.1" cy="305.1" r="2.5"/><circle cx="332.5" cy="323.6" r="2.5"/><circle cx="314.7" cy="338.5" r="2.5"/><circle cx="342.9" cy="297.2" r="2.5"/><circle cx="331.8" cy="337.8" r="2.5"/><circle cx="333.8" cy="320.2" r="2.5"/><circle cx="322.2" cy="337.3" r="2.5"/><circle cx="357.8" cy="301.5" r="2.5"/><circle cx="314.3" cy="288.6" r="2.5"/><circle cx="321.8" cy="331.2" r="2.5"/><circle cx="315.1" cy="332.6" r="2.5"/><circle cx="347.3" cy="329.4" r="2.5"/><circle cx="339.5" cy="323.7" r="2.5"/><circle cx="353.1" cy="331.2" r="2.5"/><circle cx="324.1" cy="318.0" r="2.5"/><circle cx="322.6" cy="336.6" r="2.5"/><circle cx="334.7" cy="313.4" r="2.5"/><circle cx="345.8" cy="314.4" r="2.5"/><circle cx="352.0" cy="320.7" r="2.5"/><circle cx="335.3" cy="301.9" r="2.5"/><circle cx="329.2" cy="338.5" r="2.5"/><circle cx="322.4" cy="315.3" r="2.5"/><circle cx="326.4" cy="329.0" r="2.5"/><circle cx="341.5" cy="309.2" r="2.5"/><circle cx="334.3" cy="345.4" r="2.5"/><circle cx="332.0" cy="332.5" r="2.5"/><circle cx="338.7" cy="302.1" r="2.5"/><circle cx="361.1" cy="328.1" r="2.5"/><circle cx="317.8" cy="313.8" r="2.5"/><circle cx="339.1" cy="313.8" r="2.5"/><circle cx="313.3" cy="340.0" r="2.5"/><circle cx="338.5" cy="314.4" r="2.5"/><circle cx="349.0" cy="315.5" r="2.5"/><circle cx="308.8" cy="330.9" r="2.5"/><circle cx="319.1" cy="355.4" r="2.5"/><circle cx="345.1" cy="309.7" r="2.5"/><circle cx="317.8" cy="303.1" r="2.5"/><circle cx="336.8" cy="330.4" r="2.5"/><circle cx="337.9" cy="316.6" r="2.5"/><circle cx="324.1" cy="318.3" r="2.5"/><circle cx="335.4" cy="327.6" r="2.5"/><circle cx="342.8" cy="291.2" r="2.5"/><circle cx="328.5" cy="322.9" r="2.5"/><circle cx="350.0" cy="344.3" r="2.5"/><circle cx="332.9" cy="345.2" r="2.5"/><circle cx="327.0" cy="332.2" r="2.5"/><circle cx="334.8" cy="333.6" r="2.5"/><circle cx="329.1" cy="314.3" r="2.5"/><circle cx="336.3" cy="348.6" r="2.5"/><circle cx="335.6" cy="304.4" r="2.5"/><circle cx="320.7" cy="327.1" r="2.5"/><circle cx="303.9" cy="336.5" r="2.5"/><circle cx="310.2" cy="335.7" r="2.5"/><circle cx="327.5" cy="310.2" r="2.5"/><circle cx="346.2" cy="327.9" r="2.5"/><circle cx="341.4" cy="302.3" r="2.5"/><circle cx="329.9" cy="323.1" r="2.5"/><circle cx="352.8" cy="321.4" r="2.5"/><circle cx="343.8" cy="308.6" r="2.5"/><circle cx="328.0" cy="332.1" r="2.5"/><circle cx="322.7" cy="317.0" r="2.5"/><circle cx="339.4" cy="333.5" r="2.5"/><circle cx="327.6" cy="291.8" r="2.5"/><circle cx="344.6" cy="293.6" r="2.5"/><circle cx="339.9" cy="326.3" r="2.5"/><circle cx="332.1" cy="342.9" r="2.5"/><circle cx="333.0" cy="329.0" r="2.5"/><circle cx="328.9" cy="295.6" r="2.5"/><circle cx="322.7" cy="328.7" r="2.5"/><circle cx="320.9" cy="309.1" r="2.5"/><circle cx="365.2" cy="319.9" r="2.5"/><circle cx="318.8" cy="301.7" r="2.5"/><circle cx="325.9" cy="344.1" r="2.5"/><circle cx="319.6" cy="306.3" r="2.5"/><circle cx="309.7" cy="306.4" r="2.5"/><circle cx="327.3" cy="333.0" r="2.5"/><circle cx="345.5" cy="338.7" r="2.5"/><circle cx="325.7" cy="291.2" r="2.5"/><circle cx="343.8" cy="332.2" r="2.5"/><circle cx="337.9" cy="315.6" r="2.5"/><circle cx="321.8" cy="325.7" r="2.5"/><circle cx="342.7" cy="304.2" r="2.5"/><circle cx="322.9" cy="324.1" r="2.5"/><circle cx="350.5" cy="322.6" r="2.5"/><circle cx="336.6" cy="330.0" r="2.5"/><circle cx="341.9" cy="319.3" r="2.5"/><circle cx="344.1" cy="331.2" r="2.5"/><circle cx="353.0" cy="305.9" r="2.5"/><circle cx="331.1" cy="334.8" r="2.5"/><circle cx="338.0" cy="330.8" r="2.5"/><circle cx="328.3" cy="332.3" r="2.5"/><circle cx="344.0" cy="340.1" r="2.5"/><circle cx="335.8" cy="336.6" r="2.5"/><circle cx="349.2" cy="315.7" r="2.5"/><circle cx="346.1" cy="308.6" r="2.5"/><circle cx="351.2" cy="328.1" r="2.5"/><circle cx="339.7" cy="333.7" r="2.5"/><circle cx="325.6" cy="313.4" r="2.5"/><circle cx="346.3" cy="327.6" r="2.5"/><circle cx="347.5" cy="301.1" r="2.5"/><circle cx="318.1" cy="350.6" r="2.5"/><circle cx="315.9" cy="326.0" r="2.5"/><circle cx="324.2" cy="330.1" r="2.5"/><circle cx="341.6" cy="305.9" r="2.5"/><circle cx="312.6" cy="346.0" r="2.5"/><circle cx="336.2" cy="315.8" r="2.5"/><circle cx="332.5" cy="315.1" r="2.5"/><circle cx="329.6" cy="349.2" r="2.5"/><circle cx="337.6" cy="329.1" r="2.5"/><circle cx="341.9" cy="307.9" r="2.5"/><circle cx="314.1" cy="323.5" r="2.5"/><circle cx="318.2" cy="287.3" r="2.5"/><circle cx="349.5" cy="332.2" r="2.5"/><circle cx="331.5" cy="320.3" r="2.5"/><circle cx="355.2" cy="321.6" r="2.5"/><circle cx="343.6" cy="321.9" r="2.5"/><circle cx="338.7" cy="317.2" r="2.5"/><circle cx="331.4" cy="315.7" r="2.5"/><circle cx="350.9" cy="306.6" r="2.5"/><circle cx="335.7" cy="326.8" r="2.5"/><circle cx="343.9" cy="342.6" r="2.5"/><circle cx="345.8" cy="309.0" r="2.5"/><circle cx="339.3" cy="337.2" r="2.5"/><circle cx="322.3" cy="326.0" r="2.5"/><circle cx="326.7" cy="337.8" r="2.5"/><circle cx="337.4" cy="344.5" r="2.5"/><circle cx="332.0" cy="324.3" r="2.5"/><circle cx="357.0" cy="318.8" r="2.5"/><circle cx="322.8" cy="310.3" r="2.5"/><circle cx="319.8" cy="340.7" r="2.5"/><circle cx="344.6" cy="319.2" r="2.5"/><circle cx="319.6" cy="328.6" r="2.5"/><circle cx="352.2" cy="295.6" r="2.5"/><circle cx="355.0" cy="345.9" r="2.5"/><circle cx="342.6" cy="319.8" r="2.5"/><circle cx="338.3" cy="323.8" r="2.5"/><circle cx="324.4" cy="303.6" r="2.5"/><circle cx="325.1" cy="313.2" r="2.5"/><circle cx="343.6" cy="314.9" r="2.5"/><circle cx="329.4" cy="300.4" r="2.5"/><circle cx="337.9" cy="308.2" r="2.5"/><circle cx="348.8" cy="331.1" r="2.5"/><circle cx="346.9" cy="341.5" r="2.5"/><circle cx="326.8" cy="333.6" r="2.5"/><circle cx="337.0" cy="306.8" r="2.5"/><circle cx="309.5" cy="337.3" r="2.5"/><circle cx="342.1" cy="329.7" r="2.5"/><circle cx="323.6" cy="311.3" r="2.5"/><circle cx="325.5" cy="310.4" r="2.5"/><circle cx="306.8" cy="304.5" r="2.5"/><circle cx="339.5" cy="347.8" r="2.5"/><circle cx="330.9" cy="295.4" r="2.5"/><circle cx="349.1" cy="320.6" r="2.5"/><circle cx="319.8" cy="325.5" r="2.5"/><circle cx="337.7" cy="334.0" r="2.5"/><circle cx="327.1" cy="319.8" r="2.5"/><circle cx="342.7" cy="318.2" r="2.5"/><circle cx="342.4" cy="352.0" r="2.5"/><circle cx="336.7" cy="289.6" r="2.5"/><circle cx="344.9" cy="337.6" r="2.5"/><circle cx="336.6" cy="302.9" r="2.5"/><circle cx="333.6" cy="322.8" r="2.5"/><circle cx="341.9" cy="332.9" r="2.5"/><circle cx="339.3" cy="336.8" r="2.5"/><circle cx="324.2" cy="314.2" r="2.5"/><circle cx="339.8" cy="325.3" r="2.5"/><circle cx="329.1" cy="306.5" r="2.5"/><circle cx="337.0" cy="328.5" r="2.5"/><circle cx="343.3" cy="311.3" r="2.5"/><circle cx="332.8" cy="336.7" r="2.5"/><circle cx="350.8" cy="333.9" r="2.5"/><circle cx="345.1" cy="312.4" r="2.5"/><circle cx="311.6" cy="315.8" r="2.5"/><circle cx="319.9" cy="327.5" r="2.5"/><circle cx="323.3" cy="317.2" r="2.5"/><circle cx="336.3" cy="317.3" r="2.5"/><circle cx="321.7" cy="330.3" r="2.5"/><circle cx="331.7" cy="321.7" r="2.5"/><circle cx="361.6" cy="314.6" r="2.5"/><circle cx="360.0" cy="288.7" r="2.5"/><circle cx="313.6" cy="314.6" r="2.5"/><circle cx="327.7" cy="329.4" r="2.5"/><circle cx="342.0" cy="317.0" r="2.5"/><circle cx="329.7" cy="305.8" r="2.5"/><circle cx="358.8" cy="295.6" r="2.5"/><circle cx="316.5" cy="322.4" r="2.5"/><circle cx="354.4" cy="288.9" r="2.5"/><circle cx="326.9" cy="348.5" r="2.5"/><circle cx="335.7" cy="328.4" r="2.5"/><circle cx="344.7" cy="311.1" r="2.5"/><circle cx="324.1" cy="291.6" r="2.5"/><circle cx="330.0" cy="320.6" r="2.5"/><circle cx="329.4" cy="320.7" r="2.5"/><circle cx="328.3" cy="329.7" r="2.5"/><circle cx="349.5" cy="343.5" r="2.5"/><circle cx="337.3" cy="301.7" r="2.5"/><circle cx="320.5" cy="347.4" r="2.5"/><circle cx="351.5" cy="308.2" r="2.5"/><circle cx="332.1" cy="322.7" r="2.5"/><circle cx="319.9" cy="333.1" r="2.5"/><circle cx="330.4" cy="323.1" r="2.5"/><circle cx="337.5" cy="326.2" r="2.5"/><circle cx="320.7" cy="319.3" r="2.5"/><circle cx="324.0" cy="350.1" r="2.5"/><circle cx="358.9" cy="310.8" r="2.5"/><circle cx="308.1" cy="317.9" r="2.5"/><circle cx="333.8" cy="324.9" r="2.5"/><circle cx="347.8" cy="337.1" r="2.5"/><circle cx="344.8" cy="336.8" r="2.5"/><circle cx="345.5" cy="320.1" r="2.5"/><circle cx="320.9" cy="332.3" r="2.5"/><circle cx="333.8" cy="323.2" r="2.5"/><circle cx="332.9" cy="326.0" r="2.5"/><circle cx="335.9" cy="329.0" r="2.5"/><circle cx="328.2" cy="323.6" r="2.5"/><circle cx="327.4" cy="333.7" r="2.5"/><circle cx="345.7" cy="327.0" r="2.5"/><circle cx="347.8" cy="316.3" r="2.5"/><circle cx="339.4" cy="318.1" r="2.5"/><circle cx="342.8" cy="330.1" r="2.5"/><circle cx="322.3" cy="326.2" r="2.5"/><circle cx="332.2" cy="328.4" r="2.5"/><circle cx="346.6" cy="296.6" r="2.5"/><circle cx="312.9" cy="347.9" r="2.5"/><circle cx="344.6" cy="322.6" r="2.5"/><circle cx="335.2" cy="334.4" r="2.5"/><circle cx="339.4" cy="325.4" r="2.5"/><circle cx="335.3" cy="337.5" r="2.5"/><circle cx="313.0" cy="330.2" r="2.5"/><circle cx="334.5" cy="315.2" r="2.5"/><circle cx="332.7" cy="303.6" r="2.5"/><circle cx="341.0" cy="354.1" r="2.5"/><circle cx="339.4" cy="325.7" r="2.5"/><circle cx="354.2" cy="293.0" r="2.5"/><circle cx="322.2" cy="304.1" r="2.5"/><circle cx="329.3" cy="330.9" r="2.5"/><circle cx="330.3" cy="308.2" r="2.5"/><circle cx="330.8" cy="310.9" r="2.5"/><circle cx="331.9" cy="329.7" r="2.5"/><circle cx="321.1" cy="317.5" r="2.5"/><circle cx="335.2" cy="309.5" r="2.5"/><circle cx="339.3" cy="304.6" r="2.5"/><circle cx="339.6" cy="287.5" r="2.5"/><circle cx="342.6" cy="325.5" r="2.5"/><circle cx="333.4" cy="331.6" r="2.5"/><circle cx="298.3" cy="293.8" r="2.5"/><circle cx="333.1" cy="306.2" r="2.5"/><circle cx="328.6" cy="329.3" r="2.5"/><circle cx="337.7" cy="291.5" r="2.5"/><circle cx="325.2" cy="339.9" r="2.5"/><circle cx="326.5" cy="352.0" r="2.5"/><circle cx="332.3" cy="309.3" r="2.5"/><circle cx="332.2" cy="299.4" r="2.5"/><circle cx="335.6" cy="311.3" r="2.5"/><circle cx="323.4" cy="327.6" r="2.5"/><circle cx="333.8" cy="323.1" r="2.5"/><circle cx="324.8" cy="339.0" r="2.5"/><circle cx="339.7" cy="335.9" r="2.5"/><circle cx="332.0" cy="328.5" r="2.5"/><circle cx="338.0" cy="319.3" r="2.5"/><circle cx="326.6" cy="324.6" r="2.5"/><circle cx="350.5" cy="299.4" r="2.5"/><circle cx="330.5" cy="310.6" r="2.5"/><circle cx="331.7" cy="338.4" r="2.5"/><circle cx="331.1" cy="333.1" r="2.5"/><circle cx="343.5" cy="306.6" r="2.5"/><circle cx="336.6" cy="314.6" r="2.5"/><circle cx="321.0" cy="322.2" r="2.5"/><circle cx="360.6" cy="326.3" r="2.5"/><circle cx="346.2" cy="325.7" r="2.5"/><circle cx="350.3" cy="300.6" r="2.5"/><circle cx="335.6" cy="339.6" r="2.5"/><circle cx="340.6" cy="342.3" r="2.5"/><circle cx="320.1" cy="335.1" r="2.5"/><circle cx="316.4" cy="341.2" r="2.5"/><circle cx="337.6" cy="333.9" r="2.5"/><circle cx="324.3" cy="306.5" r="2.5"/><circle cx="327.3" cy="316.5" r="2.5"/><circle cx="330.5" cy="327.7" r="2.5"/><circle cx="335.3" cy="329.9" r="2.5"/><circle cx="324.2" cy="333.6" r="2.5"/><circle cx="316.8" cy="313.0" r="2.5"/><circle cx="325.1" cy="306.9" r="2.5"/><circle cx="300.1" cy="348.2" r="2.5"/><circle cx="339.9" cy="311.2" r="2.5"/><circle cx="342.4" cy="332.5" r="2.5"/><circle cx="328.2" cy="316.8" r="2.5"/><circle cx="345.7" cy="334.3" r="2.5"/><circle cx="343.9" cy="330.7" r="2.5"/><circle cx="348.0" cy="310.2" r="2.5"/><circle cx="307.1" cy="330.5" r="2.5"/><circle cx="331.6" cy="291.0" r="2.5"/><circle cx="343.8" cy="312.2" r="2.5"/><circle cx="312.8" cy="321.6" r="2.5"/><circle cx="336.0" cy="321.0" r="2.5"/><circle cx="354.3" cy="298.3" r="2.5"/><circle cx="359.3" cy="305.9" r="2.5"/><circle cx="321.1" cy="341.1" r="2.5"/><circle cx="318.0" cy="312.4" r="2.5"/><circle cx="357.5" cy="314.8" r="2.5"/><circle cx="361.4" cy="303.9" r="2.5"/><circle cx="328.6" cy="293.4" r="2.5"/><circle cx="332.2" cy="339.6" r="2.5"/><circle cx="352.0" cy="296.7" r="2.5"/><circle cx="357.0" cy="305.6" r="2.5"/><circle cx="332.3" cy="309.1" r="2.5"/><circle cx="334.8" cy="295.9" r="2.5"/><circle cx="364.5" cy="323.0" r="2.5"/><circle cx="348.2" cy="328.9" r="2.5"/><circle cx="342.1" cy="327.5" r="2.5"/><circle cx="324.6" cy="333.0" r="2.5"/><circle cx="319.1" cy="288.6" r="2.5"/><circle cx="323.1" cy="333.6" r="2.5"/><circle cx="341.1" cy="326.6" r="2.5"/><circle cx="349.8" cy="310.2" r="2.5"/><circle cx="322.5" cy="319.4" r="2.5"/><circle cx="326.9" cy="318.2" r="2.5"/><circle cx="329.1" cy="319.9" r="2.5"/><circle cx="337.7" cy="293.2" r="2.5"/><circle cx="347.7" cy="303.4" r="2.5"/><circle cx="307.0" cy="307.0" r="2.5"/><circle cx="338.4" cy="303.3" r="2.5"/><circle cx="331.6" cy="338.1" r="2.5"/><circle cx="344.3" cy="307.9" r="2.5"/><circle cx="305.1" cy="326.3" r="2.5"/><circle cx="341.4" cy="322.5" r="2.5"/><circle cx="313.8" cy="314.4" r="2.5"/><circle cx="326.4" cy="327.7" r="2.5"/><circle cx="314.0" cy="336.3" r="2.5"/><circle cx="323.8" cy="333.5" r="2.5"/><circle cx="345.3" cy="322.0" r="2.5"/><circle cx="347.8" cy="293.1" r="2.5"/><circle cx="332.9" cy="300.5" r="2.5"/><circle cx="349.7" cy="310.2" r="2.5"/><circle cx="351.5" cy="328.7" r="2.5"/><circle cx="330.5" cy="310.5" r="2.5"/><circle cx="322.8" cy="307.4" r="2.5"/><circle cx="341.3" cy="318.2" r="2.5"/><circle cx="308.5" cy="348.8" r="2.5"/><circle cx="330.5" cy="354.8" r="2.5"/><circle cx="314.5" cy="344.3" r="2.5"/><circle cx="331.0" cy="302.6" r="2.5"/><circle cx="320.2" cy="294.6" r="2.5"/><circle cx="333.7" cy="340.2" r="2.5"/><circle cx="308.8" cy="329.7" r="2.5"/><circle cx="308.7" cy="338.2" r="2.5"/><circle cx="329.6" cy="315.5" r="2.5"/><circle cx="313.1" cy="293.4" r="2.5"/><circle cx="329.6" cy="323.0" r="2.5"/><circle cx="321.2" cy="324.7" r="2.5"/><circle cx="341.7" cy="333.2" r="2.5"/><circle cx="321.5" cy="296.2" r="2.5"/><circle cx="357.3" cy="332.2" r="2.5"/><circle cx="347.2" cy="330.2" r="2.5"/><circle cx="331.7" cy="289.8" r="2.5"/><circle cx="335.8" cy="316.3" r="2.5"/><circle cx="341.8" cy="317.3" r="2.5"/><circle cx="338.4" cy="313.1" r="2.5"/><circle cx="323.2" cy="323.4" r="2.5"/><circle cx="354.3" cy="332.2" r="2.5"/><circle cx="323.9" cy="308.9" r="2.5"/><circle cx="357.9" cy="335.0" r="2.5"/><circle cx="330.5" cy="311.9" r="2.5"/><circle cx="333.5" cy="324.4" r="2.5"/><circle cx="329.9" cy="317.8" r="2.5"/><circle cx="323.3" cy="315.3" r="2.5"/><circle cx="329.8" cy="295.3" r="2.5"/><circle cx="348.8" cy="307.2" r="2.5"/><circle cx="318.0" cy="293.4" r="2.5"/><circle cx="305.5" cy="332.1" r="2.5"/><circle cx="319.6" cy="318.2" r="2.5"/><circle cx="329.4" cy="310.1" r="2.5"/><circle cx="302.9" cy="337.2" r="2.5"/><circle cx="324.7" cy="336.4" r="2.5"/><circle cx="343.6" cy="326.1" r="2.5"/><circle cx="343.3" cy="312.4" r="2.5"/><circle cx="333.8" cy="325.6" r="2.5"/><circle cx="341.3" cy="324.2" r="2.5"/><circle cx="344.0" cy="293.2" r="2.5"/><circle cx="340.8" cy="343.0" r="2.5"/><circle cx="321.6" cy="341.9" r="2.5"/><circle cx="350.1" cy="302.5" r="2.5"/><circle cx="324.7" cy="329.9" r="2.5"/><circle cx="335.8" cy="309.1" r="2.5"/><circle cx="330.2" cy="316.6" r="2.5"/><circle cx="324.7" cy="325.0" r="2.5"/><circle cx="351.2" cy="310.3" r="2.5"/><circle cx="333.3" cy="335.9" r="2.5"/><circle cx="316.0" cy="311.0" r="2.5"/><circle cx="346.9" cy="327.0" r="2.5"/><circle cx="349.9" cy="315.9" r="2.5"/><circle cx="305.2" cy="310.1" r="2.5"/><circle cx="358.9" cy="309.2" r="2.5"/><circle cx="341.9" cy="295.4" r="2.5"/><circle cx="325.1" cy="339.6" r="2.5"/><circle cx="326.6" cy="329.9" r="2.5"/><circle cx="331.3" cy="297.4" r="2.5"/><circle cx="349.4" cy="308.6" r="2.5"/><circle cx="337.2" cy="323.6" r="2.5"/><circle cx="329.2" cy="315.3" r="2.5"/><circle cx="324.9" cy="315.5" r="2.5"/><circle cx="340.8" cy="309.9" r="2.5"/><circle cx="333.1" cy="340.3" r="2.5"/><circle cx="347.8" cy="325.7" r="2.5"/><circle cx="329.2" cy="316.3" r="2.5"/><circle cx="338.1" cy="317.8" r="2.5"/><circle cx="330.2" cy="309.2" r="2.5"/><circle cx="330.6" cy="295.4" r="2.5"/><circle cx="342.3" cy="305.5" r="2.5"/><circle cx="348.3" cy="318.8" r="2.5"/><circle cx="325.5" cy="322.2" r="2.5"/><circle cx="306.1" cy="321.9" r="2.5"/><circle cx="304.7" cy="328.0" r="2.5"/><circle cx="352.2" cy="324.8" r="2.5"/><circle cx="341.3" cy="300.0" r="2.5"/><circle cx="319.5" cy="322.8" r="2.5"/><circle cx="317.4" cy="338.5" r="2.5"/><circle cx="334.3" cy="315.7" r="2.5"/><circle cx="327.6" cy="339.9" r="2.5"/><circle cx="335.0" cy="314.7" r="2.5"/><circle cx="332.6" cy="336.6" r="2.5"/><circle cx="317.5" cy="318.9" r="2.5"/><circle cx="348.4" cy="300.3" r="2.5"/><circle cx="370.2" cy="321.2" r="2.5"/><circle cx="345.8" cy="347.4" r="2.5"/><circle cx="334.5" cy="297.2" r="2.5"/><circle cx="334.2" cy="316.2" r="2.5"/><circle cx="326.2" cy="334.3" r="2.5"/><circle cx="332.9" cy="319.1" r="2.5"/><circle cx="325.7" cy="335.9" r="2.5"/><circle cx="339.3" cy="329.7" r="2.5"/><circle cx="333.2" cy="340.1" r="2.5"/><circle cx="336.7" cy="305.5" r="2.5"/><circle cx="320.4" cy="316.2" r="2.5"/><circle cx="352.1" cy="324.7" r="2.5"/><circle cx="343.2" cy="331.1" r="2.5"/><circle cx="335.2" cy="320.8" r="2.5"/><circle cx="305.3" cy="346.5" r="2.5"/><circle cx="317.6" cy="329.2" r="2.5"/><circle cx="344.9" cy="338.7" r="2.5"/><circle cx="342.0" cy="320.1" r="2.5"/><circle cx="322.7" cy="337.0" r="2.5"/><circle cx="313.5" cy="300.1" r="2.5"/><circle cx="330.8" cy="338.5" r="2.5"/><circle cx="343.8" cy="324.6" r="2.5"/><circle cx="356.9" cy="313.4" r="2.5"/><circle cx="318.0" cy="303.1" r="2.5"/><circle cx="335.8" cy="317.2" r="2.5"/><circle cx="331.8" cy="316.6" r="2.5"/><circle cx="343.8" cy="302.8" r="2.5"/><circle cx="338.3" cy="340.2" r="2.5"/><circle cx="320.0" cy="326.4" r="2.5"/><circle cx="340.1" cy="311.1" r="2.5"/><circle cx="338.8" cy="325.2" r="2.5"/><circle cx="370.5" cy="302.1" r="2.5"/><circle cx="330.9" cy="325.7" r="2.5"/><circle cx="345.8" cy="326.2" r="2.5"/><circle cx="328.7" cy="326.4" r="2.5"/><circle cx="343.7" cy="328.7" r="2.5"/><circle cx="344.1" cy="297.2" r="2.5"/><circle cx="344.4" cy="298.4" r="2.5"/><circle cx="344.8" cy="316.0" r="2.5"/><circle cx="313.3" cy="342.0" r="2.5"/><circle cx="331.6" cy="320.3" r="2.5"/><circle cx="336.8" cy="322.4" r="2.5"/><circle cx="305.5" cy="297.5" r="2.5"/><circle cx="340.5" cy="303.9" r="2.5"/><circle cx="327.3" cy="323.8" r="2.5"/><circle cx="326.7" cy="312.8" r="2.5"/><circle cx="320.2" cy="345.2" r="2.5"/><circle cx="350.0" cy="324.4" r="2.5"/><circle cx="356.9" cy="338.5" r="2.5"/><circle cx="328.7" cy="320.6" r="2.5"/><circle cx="313.8" cy="324.3" r="2.5"/><circle cx="336.1" cy="344.7" r="2.5"/></g>
<line x1="290.80" y1="332.20" x2="382.30" y2="305.90" stroke="#fb9a5a" stroke-width="2.4" />
<text x="401.5" y="249.6" font-size="13.5" fill="#2fa3cb" textLength="77.0" lengthAdjust="spacingAndGlyphs" >500 ms trials</text>
<text x="490.6" y="263.0" font-size="10.2" fill="#2fa3cb" text-anchor="end" textLength="35.1" lengthAdjust="spacingAndGlyphs" >r = 0.24</text>
<text x="490.2" y="271.7" font-size="10.2" fill="#2fa3cb" text-anchor="end" textLength="42.7" lengthAdjust="spacingAndGlyphs" font-style="italic" >p &lt; 0.001</text>
<line x1="390.00" y1="273.80" x2="390.00" y2="374.70" stroke="#8a8a8a" stroke-width="1" />
<line x1="390.00" y1="374.70" x2="491.30" y2="374.70" stroke="#9a9a9a" stroke-width="1.2" />
<line x1="389.20" y1="291.70" x2="391.20" y2="291.70" stroke="#555" stroke-width="1" />
<line x1="389.20" y1="308.80" x2="391.20" y2="308.80" stroke="#555" stroke-width="1" />
<line x1="389.20" y1="325.90" x2="391.20" y2="325.90" stroke="#555" stroke-width="1" />
<line x1="389.20" y1="343.00" x2="391.20" y2="343.00" stroke="#555" stroke-width="1" />
<line x1="389.20" y1="360.10" x2="391.20" y2="360.10" stroke="#555" stroke-width="1" />
<line x1="405.90" y1="375.50" x2="405.90" y2="373.50" stroke="#666" stroke-width="1" />
<line x1="436.30" y1="375.50" x2="436.30" y2="373.50" stroke="#666" stroke-width="1" />
<line x1="466.70" y1="375.50" x2="466.70" y2="373.50" stroke="#666" stroke-width="1" />
<text x="405.0" y="389.2" font-size="15" fill="#000" text-anchor="middle" textLength="12.6" lengthAdjust="spacingAndGlyphs" >-2</text>
<text x="436.3" y="389.2" font-size="15" fill="#000" text-anchor="middle" >0</text>
<text x="466.7" y="389.2" font-size="15" fill="#000" text-anchor="middle" >2</text>
<text x="440.0" y="402.8" font-size="15" fill="#000" text-anchor="middle" textLength="51.2" lengthAdjust="spacingAndGlyphs" >Z-score</text>
<text x="440.2" y="416.8" font-size="15" fill="#000" text-anchor="middle" textLength="73.0" lengthAdjust="spacingAndGlyphs" >rew. onset</text>
<g fill="#b3b3b3"><circle cx="463.1" cy="337.9" r="2.2"/><circle cx="455.5" cy="337.2" r="2.2"/><circle cx="462.6" cy="340.4" r="2.2"/><circle cx="432.8" cy="331.9" r="2.2"/><circle cx="409.5" cy="318.9" r="2.2"/><circle cx="418.7" cy="338.2" r="2.2"/><circle cx="435.2" cy="319.8" r="2.2"/><circle cx="431.1" cy="308.7" r="2.2"/><circle cx="444.2" cy="329.1" r="2.2"/><circle cx="452.2" cy="327.7" r="2.2"/><circle cx="427.0" cy="331.4" r="2.2"/><circle cx="447.4" cy="312.4" r="2.2"/><circle cx="449.1" cy="322.2" r="2.2"/><circle cx="407.2" cy="328.9" r="2.2"/><circle cx="444.2" cy="310.8" r="2.2"/><circle cx="471.3" cy="325.4" r="2.2"/><circle cx="453.5" cy="327.1" r="2.2"/><circle cx="432.4" cy="326.4" r="2.2"/><circle cx="438.4" cy="323.6" r="2.2"/><circle cx="456.1" cy="328.3" r="2.2"/><circle cx="463.3" cy="336.6" r="2.2"/><circle cx="444.9" cy="324.7" r="2.2"/><circle cx="413.9" cy="320.9" r="2.2"/><circle cx="456.7" cy="311.1" r="2.2"/><circle cx="443.9" cy="321.0" r="2.2"/><circle cx="455.6" cy="341.1" r="2.2"/><circle cx="449.7" cy="339.4" r="2.2"/><circle cx="449.5" cy="320.0" r="2.2"/><circle cx="449.3" cy="344.9" r="2.2"/><circle cx="469.2" cy="323.8" r="2.2"/><circle cx="461.4" cy="332.6" r="2.2"/><circle cx="438.2" cy="307.8" r="2.2"/><circle cx="441.4" cy="330.3" r="2.2"/><circle cx="438.5" cy="317.5" r="2.2"/><circle cx="418.3" cy="329.3" r="2.2"/><circle cx="429.8" cy="304.1" r="2.2"/><circle cx="462.8" cy="325.6" r="2.2"/><circle cx="448.6" cy="328.5" r="2.2"/><circle cx="437.3" cy="328.0" r="2.2"/><circle cx="474.4" cy="329.1" r="2.2"/><circle cx="440.2" cy="323.7" r="2.2"/><circle cx="469.5" cy="322.2" r="2.2"/><circle cx="426.9" cy="325.9" r="2.2"/><circle cx="445.1" cy="338.3" r="2.2"/><circle cx="432.3" cy="323.4" r="2.2"/><circle cx="437.5" cy="311.4" r="2.2"/><circle cx="450.6" cy="330.6" r="2.2"/><circle cx="443.5" cy="334.6" r="2.2"/><circle cx="433.7" cy="319.5" r="2.2"/><circle cx="443.7" cy="343.6" r="2.2"/><circle cx="422.3" cy="321.2" r="2.2"/><circle cx="425.7" cy="329.2" r="2.2"/><circle cx="463.3" cy="328.4" r="2.2"/><circle cx="440.3" cy="329.9" r="2.2"/><circle cx="462.9" cy="332.5" r="2.2"/><circle cx="424.5" cy="325.5" r="2.2"/><circle cx="472.5" cy="322.9" r="2.2"/><circle cx="471.2" cy="315.2" r="2.2"/><circle cx="426.6" cy="325.5" r="2.2"/><circle cx="443.7" cy="326.0" r="2.2"/><circle cx="466.1" cy="313.4" r="2.2"/><circle cx="458.0" cy="315.1" r="2.2"/><circle cx="435.6" cy="318.6" r="2.2"/><circle cx="428.0" cy="329.0" r="2.2"/><circle cx="424.9" cy="314.9" r="2.2"/><circle cx="438.7" cy="319.0" r="2.2"/><circle cx="424.1" cy="323.7" r="2.2"/><circle cx="459.8" cy="324.8" r="2.2"/><circle cx="449.4" cy="324.3" r="2.2"/><circle cx="445.3" cy="328.9" r="2.2"/><circle cx="432.1" cy="316.3" r="2.2"/><circle cx="446.5" cy="324.9" r="2.2"/><circle cx="451.9" cy="336.8" r="2.2"/><circle cx="423.6" cy="337.6" r="2.2"/><circle cx="476.4" cy="328.0" r="2.2"/><circle cx="458.4" cy="342.0" r="2.2"/><circle cx="439.8" cy="324.7" r="2.2"/><circle cx="436.8" cy="315.7" r="2.2"/><circle cx="440.6" cy="326.3" r="2.2"/><circle cx="465.3" cy="311.1" r="2.2"/><circle cx="452.1" cy="329.6" r="2.2"/><circle cx="441.7" cy="314.7" r="2.2"/><circle cx="428.3" cy="334.7" r="2.2"/><circle cx="430.1" cy="316.5" r="2.2"/><circle cx="453.2" cy="333.8" r="2.2"/><circle cx="433.3" cy="326.0" r="2.2"/><circle cx="436.8" cy="335.4" r="2.2"/><circle cx="431.4" cy="327.9" r="2.2"/><circle cx="435.1" cy="326.5" r="2.2"/><circle cx="439.2" cy="332.7" r="2.2"/><circle cx="452.5" cy="322.0" r="2.2"/><circle cx="411.9" cy="323.9" r="2.2"/><circle cx="437.1" cy="335.5" r="2.2"/><circle cx="457.6" cy="324.0" r="2.2"/><circle cx="454.5" cy="331.2" r="2.2"/><circle cx="475.1" cy="321.8" r="2.2"/><circle cx="434.7" cy="309.2" r="2.2"/><circle cx="430.8" cy="312.8" r="2.2"/><circle cx="439.8" cy="332.0" r="2.2"/><circle cx="432.3" cy="335.6" r="2.2"/><circle cx="429.0" cy="323.2" r="2.2"/><circle cx="443.1" cy="341.3" r="2.2"/><circle cx="448.0" cy="340.0" r="2.2"/><circle cx="453.1" cy="330.8" r="2.2"/><circle cx="440.7" cy="315.9" r="2.2"/><circle cx="410.0" cy="306.5" r="2.2"/><circle cx="488.0" cy="316.7" r="2.2"/><circle cx="454.2" cy="332.7" r="2.2"/><circle cx="463.1" cy="328.2" r="2.2"/><circle cx="439.7" cy="333.7" r="2.2"/><circle cx="468.3" cy="318.8" r="2.2"/><circle cx="420.3" cy="327.4" r="2.2"/><circle cx="422.5" cy="318.1" r="2.2"/><circle cx="429.3" cy="327.1" r="2.2"/><circle cx="454.2" cy="328.3" r="2.2"/><circle cx="423.6" cy="330.6" r="2.2"/><circle cx="421.8" cy="313.6" r="2.2"/><circle cx="460.4" cy="342.5" r="2.2"/><circle cx="425.0" cy="306.2" r="2.2"/><circle cx="455.8" cy="329.4" r="2.2"/><circle cx="460.4" cy="323.3" r="2.2"/><circle cx="458.0" cy="330.0" r="2.2"/><circle cx="472.4" cy="324.2" r="2.2"/><circle cx="424.6" cy="326.9" r="2.2"/><circle cx="439.2" cy="322.9" r="2.2"/><circle cx="449.4" cy="325.5" r="2.2"/><circle cx="430.3" cy="324.5" r="2.2"/><circle cx="434.9" cy="311.8" r="2.2"/><circle cx="425.2" cy="329.0" r="2.2"/><circle cx="436.0" cy="335.6" r="2.2"/><circle cx="451.5" cy="323.7" r="2.2"/><circle cx="447.9" cy="312.7" r="2.2"/><circle cx="435.1" cy="322.3" r="2.2"/><circle cx="446.3" cy="324.0" r="2.2"/><circle cx="423.0" cy="337.5" r="2.2"/><circle cx="458.9" cy="337.2" r="2.2"/><circle cx="463.5" cy="312.6" r="2.2"/><circle cx="435.0" cy="323.3" r="2.2"/><circle cx="447.9" cy="312.6" r="2.2"/><circle cx="481.0" cy="319.1" r="2.2"/><circle cx="459.7" cy="315.1" r="2.2"/><circle cx="428.7" cy="327.0" r="2.2"/><circle cx="459.9" cy="330.8" r="2.2"/><circle cx="473.2" cy="334.9" r="2.2"/><circle cx="441.7" cy="325.4" r="2.2"/><circle cx="456.2" cy="334.9" r="2.2"/><circle cx="438.1" cy="323.3" r="2.2"/><circle cx="446.0" cy="321.4" r="2.2"/><circle cx="430.4" cy="336.8" r="2.2"/><circle cx="399.8" cy="339.1" r="2.2"/><circle cx="434.7" cy="341.0" r="2.2"/><circle cx="435.7" cy="320.1" r="2.2"/><circle cx="434.1" cy="319.5" r="2.2"/><circle cx="454.9" cy="327.5" r="2.2"/><circle cx="454.6" cy="319.5" r="2.2"/><circle cx="419.4" cy="313.1" r="2.2"/><circle cx="412.8" cy="325.1" r="2.2"/><circle cx="432.5" cy="332.4" r="2.2"/><circle cx="446.4" cy="330.9" r="2.2"/><circle cx="439.7" cy="327.7" r="2.2"/><circle cx="428.2" cy="325.1" r="2.2"/><circle cx="425.2" cy="322.0" r="2.2"/><circle cx="423.9" cy="324.4" r="2.2"/><circle cx="435.9" cy="313.1" r="2.2"/><circle cx="428.9" cy="315.4" r="2.2"/><circle cx="439.1" cy="340.4" r="2.2"/><circle cx="469.5" cy="316.8" r="2.2"/><circle cx="474.9" cy="329.4" r="2.2"/><circle cx="462.0" cy="311.6" r="2.2"/><circle cx="450.3" cy="299.1" r="2.2"/><circle cx="444.2" cy="315.4" r="2.2"/><circle cx="434.1" cy="330.7" r="2.2"/><circle cx="443.2" cy="324.6" r="2.2"/><circle cx="453.8" cy="319.2" r="2.2"/><circle cx="413.9" cy="322.8" r="2.2"/><circle cx="440.1" cy="340.1" r="2.2"/><circle cx="436.9" cy="318.2" r="2.2"/><circle cx="457.2" cy="338.2" r="2.2"/><circle cx="437.7" cy="329.5" r="2.2"/><circle cx="469.2" cy="328.0" r="2.2"/><circle cx="433.3" cy="326.2" r="2.2"/><circle cx="403.7" cy="325.4" r="2.2"/><circle cx="461.1" cy="322.8" r="2.2"/><circle cx="414.1" cy="304.8" r="2.2"/><circle cx="454.5" cy="327.8" r="2.2"/><circle cx="442.8" cy="319.2" r="2.2"/><circle cx="442.1" cy="327.8" r="2.2"/><circle cx="454.8" cy="336.3" r="2.2"/><circle cx="457.1" cy="335.1" r="2.2"/><circle cx="451.9" cy="317.2" r="2.2"/><circle cx="453.3" cy="319.2" r="2.2"/><circle cx="438.2" cy="333.5" r="2.2"/><circle cx="461.9" cy="327.8" r="2.2"/><circle cx="430.4" cy="331.4" r="2.2"/><circle cx="432.5" cy="320.1" r="2.2"/><circle cx="454.3" cy="313.5" r="2.2"/><circle cx="425.9" cy="326.1" r="2.2"/><circle cx="443.1" cy="345.1" r="2.2"/><circle cx="443.4" cy="321.1" r="2.2"/><circle cx="430.7" cy="337.8" r="2.2"/><circle cx="483.6" cy="338.6" r="2.2"/><circle cx="469.6" cy="323.7" r="2.2"/><circle cx="451.7" cy="331.3" r="2.2"/><circle cx="428.1" cy="313.6" r="2.2"/><circle cx="475.8" cy="334.0" r="2.2"/><circle cx="464.9" cy="326.5" r="2.2"/><circle cx="457.8" cy="328.3" r="2.2"/><circle cx="433.1" cy="340.4" r="2.2"/><circle cx="415.6" cy="327.7" r="2.2"/><circle cx="440.4" cy="337.3" r="2.2"/><circle cx="417.0" cy="333.9" r="2.2"/><circle cx="450.8" cy="319.0" r="2.2"/><circle cx="460.6" cy="326.4" r="2.2"/><circle cx="456.1" cy="337.9" r="2.2"/><circle cx="470.1" cy="326.1" r="2.2"/><circle cx="430.1" cy="335.6" r="2.2"/><circle cx="425.1" cy="330.1" r="2.2"/><circle cx="457.1" cy="333.9" r="2.2"/><circle cx="458.4" cy="326.0" r="2.2"/><circle cx="415.0" cy="337.4" r="2.2"/><circle cx="427.5" cy="331.4" r="2.2"/><circle cx="473.2" cy="306.3" r="2.2"/><circle cx="447.4" cy="324.8" r="2.2"/><circle cx="430.1" cy="317.5" r="2.2"/><circle cx="428.9" cy="331.7" r="2.2"/><circle cx="444.3" cy="319.6" r="2.2"/><circle cx="447.7" cy="347.9" r="2.2"/><circle cx="449.2" cy="330.7" r="2.2"/><circle cx="448.8" cy="315.2" r="2.2"/><circle cx="417.0" cy="325.3" r="2.2"/><circle cx="458.9" cy="340.7" r="2.2"/><circle cx="465.8" cy="321.5" r="2.2"/><circle cx="448.4" cy="334.0" r="2.2"/><circle cx="450.7" cy="320.6" r="2.2"/><circle cx="430.4" cy="332.5" r="2.2"/><circle cx="429.1" cy="324.8" r="2.2"/><circle cx="449.0" cy="319.2" r="2.2"/><circle cx="449.2" cy="330.6" r="2.2"/><circle cx="444.1" cy="334.7" r="2.2"/><circle cx="460.0" cy="335.4" r="2.2"/><circle cx="429.8" cy="326.3" r="2.2"/><circle cx="413.0" cy="322.8" r="2.2"/><circle cx="466.2" cy="321.1" r="2.2"/><circle cx="456.0" cy="322.2" r="2.2"/><circle cx="445.1" cy="326.9" r="2.2"/><circle cx="425.8" cy="323.5" r="2.2"/><circle cx="459.0" cy="309.6" r="2.2"/><circle cx="438.2" cy="323.2" r="2.2"/><circle cx="452.7" cy="329.8" r="2.2"/><circle cx="437.5" cy="330.0" r="2.2"/><circle cx="440.4" cy="312.3" r="2.2"/><circle cx="417.2" cy="336.8" r="2.2"/><circle cx="421.6" cy="323.6" r="2.2"/><circle cx="454.2" cy="335.0" r="2.2"/><circle cx="459.8" cy="335.5" r="2.2"/><circle cx="469.9" cy="325.6" r="2.2"/><circle cx="460.6" cy="338.6" r="2.2"/><circle cx="459.8" cy="325.2" r="2.2"/><circle cx="435.4" cy="340.3" r="2.2"/><circle cx="458.0" cy="320.1" r="2.2"/><circle cx="439.2" cy="317.9" r="2.2"/><circle cx="461.1" cy="316.4" r="2.2"/><circle cx="428.8" cy="319.9" r="2.2"/><circle cx="448.3" cy="332.1" r="2.2"/><circle cx="448.2" cy="330.7" r="2.2"/><circle cx="464.2" cy="327.1" r="2.2"/><circle cx="452.2" cy="318.2" r="2.2"/><circle cx="476.8" cy="319.7" r="2.2"/><circle cx="425.8" cy="312.5" r="2.2"/><circle cx="449.9" cy="315.6" r="2.2"/><circle cx="448.5" cy="328.9" r="2.2"/><circle cx="422.8" cy="324.4" r="2.2"/><circle cx="459.1" cy="330.7" r="2.2"/><circle cx="436.3" cy="332.2" r="2.2"/><circle cx="442.9" cy="325.1" r="2.2"/><circle cx="459.3" cy="329.0" r="2.2"/><circle cx="448.6" cy="335.2" r="2.2"/><circle cx="461.4" cy="326.1" r="2.2"/><circle cx="422.3" cy="334.5" r="2.2"/><circle cx="442.3" cy="316.0" r="2.2"/><circle cx="446.3" cy="311.8" r="2.2"/><circle cx="453.1" cy="333.8" r="2.2"/><circle cx="432.9" cy="310.8" r="2.2"/><circle cx="433.0" cy="333.3" r="2.2"/><circle cx="430.4" cy="337.9" r="2.2"/><circle cx="458.0" cy="318.0" r="2.2"/><circle cx="427.9" cy="310.9" r="2.2"/><circle cx="461.8" cy="329.0" r="2.2"/><circle cx="421.3" cy="329.8" r="2.2"/><circle cx="438.5" cy="319.8" r="2.2"/><circle cx="438.3" cy="317.8" r="2.2"/><circle cx="486.2" cy="332.9" r="2.2"/><circle cx="435.1" cy="315.0" r="2.2"/><circle cx="475.7" cy="343.1" r="2.2"/><circle cx="435.6" cy="340.9" r="2.2"/><circle cx="451.3" cy="325.1" r="2.2"/><circle cx="431.9" cy="324.0" r="2.2"/><circle cx="465.4" cy="354.6" r="2.2"/><circle cx="417.6" cy="333.6" r="2.2"/><circle cx="444.0" cy="322.6" r="2.2"/><circle cx="448.3" cy="310.1" r="2.2"/><circle cx="446.5" cy="333.1" r="2.2"/><circle cx="431.4" cy="345.0" r="2.2"/><circle cx="442.0" cy="321.4" r="2.2"/><circle cx="425.7" cy="318.5" r="2.2"/><circle cx="422.7" cy="320.3" r="2.2"/><circle cx="441.9" cy="310.8" r="2.2"/><circle cx="450.3" cy="324.0" r="2.2"/><circle cx="438.8" cy="336.4" r="2.2"/><circle cx="434.8" cy="335.1" r="2.2"/><circle cx="419.5" cy="315.0" r="2.2"/><circle cx="462.9" cy="321.3" r="2.2"/><circle cx="455.2" cy="338.6" r="2.2"/><circle cx="399.8" cy="321.2" r="2.2"/><circle cx="454.1" cy="321.0" r="2.2"/><circle cx="460.1" cy="319.6" r="2.2"/><circle cx="434.3" cy="319.9" r="2.2"/><circle cx="456.0" cy="311.5" r="2.2"/><circle cx="457.4" cy="323.6" r="2.2"/><circle cx="449.6" cy="333.2" r="2.2"/><circle cx="440.3" cy="317.7" r="2.2"/><circle cx="413.7" cy="334.1" r="2.2"/><circle cx="458.9" cy="332.0" r="2.2"/><circle cx="417.8" cy="321.8" r="2.2"/><circle cx="456.2" cy="322.3" r="2.2"/><circle cx="450.6" cy="338.6" r="2.2"/><circle cx="488.0" cy="332.8" r="2.2"/><circle cx="434.1" cy="319.6" r="2.2"/><circle cx="456.9" cy="324.9" r="2.2"/><circle cx="450.8" cy="319.2" r="2.2"/><circle cx="453.8" cy="332.5" r="2.2"/><circle cx="449.6" cy="321.8" r="2.2"/><circle cx="453.3" cy="325.4" r="2.2"/><circle cx="430.3" cy="320.7" r="2.2"/><circle cx="459.2" cy="321.6" r="2.2"/><circle cx="419.5" cy="321.9" r="2.2"/><circle cx="473.3" cy="320.7" r="2.2"/><circle cx="439.3" cy="322.4" r="2.2"/><circle cx="445.6" cy="328.2" r="2.2"/><circle cx="456.1" cy="322.6" r="2.2"/><circle cx="434.8" cy="309.0" r="2.2"/><circle cx="463.9" cy="340.4" r="2.2"/><circle cx="444.6" cy="325.8" r="2.2"/><circle cx="403.5" cy="336.5" r="2.2"/><circle cx="465.1" cy="325.6" r="2.2"/><circle cx="454.5" cy="323.4" r="2.2"/><circle cx="447.7" cy="329.7" r="2.2"/><circle cx="425.2" cy="341.1" r="2.2"/><circle cx="433.2" cy="317.7" r="2.2"/><circle cx="463.4" cy="313.4" r="2.2"/><circle cx="444.3" cy="332.9" r="2.2"/><circle cx="471.6" cy="315.9" r="2.2"/><circle cx="455.6" cy="321.2" r="2.2"/><circle cx="439.3" cy="314.3" r="2.2"/><circle cx="416.7" cy="328.8" r="2.2"/><circle cx="457.1" cy="325.0" r="2.2"/><circle cx="473.9" cy="321.4" r="2.2"/><circle cx="435.3" cy="332.5" r="2.2"/><circle cx="410.5" cy="314.1" r="2.2"/><circle cx="449.6" cy="319.1" r="2.2"/></g>
<line x1="399.50" y1="322.00" x2="490.90" y2="330.40" stroke="#111" stroke-width="1.8" />
<g fill="none" stroke="#2fa3cb" stroke-width="0.85"><circle cx="427.5" cy="339.5" r="2.5"/><circle cx="436.1" cy="322.9" r="2.5"/><circle cx="448.5" cy="312.8" r="2.5"/><circle cx="437.2" cy="310.0" r="2.5"/><circle cx="475.0" cy="301.4" r="2.5"/><circle cx="439.8" cy="333.1" r="2.5"/><circle cx="442.5" cy="338.0" r="2.5"/><circle cx="430.2" cy="294.3" r="2.5"/><circle cx="438.5" cy="323.3" r="2.5"/><circle cx="445.7" cy="336.3" r="2.5"/><circle cx="433.6" cy="337.5" r="2.5"/><circle cx="437.6" cy="317.4" r="2.5"/><circle cx="432.0" cy="322.3" r="2.5"/><circle cx="439.7" cy="315.7" r="2.5"/><circle cx="433.3" cy="337.8" r="2.5"/><circle cx="439.5" cy="352.0" r="2.5"/><circle cx="436.2" cy="323.5" r="2.5"/><circle cx="457.2" cy="337.7" r="2.5"/><circle cx="423.8" cy="294.5" r="2.5"/><circle cx="459.1" cy="326.8" r="2.5"/><circle cx="451.3" cy="289.0" r="2.5"/><circle cx="435.3" cy="344.8" r="2.5"/><circle cx="428.1" cy="289.0" r="2.5"/><circle cx="427.3" cy="331.1" r="2.5"/><circle cx="451.3" cy="314.5" r="2.5"/><circle cx="445.0" cy="313.7" r="2.5"/><circle cx="444.6" cy="327.9" r="2.5"/><circle cx="438.7" cy="345.0" r="2.5"/><circle cx="449.7" cy="324.0" r="2.5"/><circle cx="425.9" cy="321.1" r="2.5"/><circle cx="447.4" cy="334.9" r="2.5"/><circle cx="445.0" cy="334.1" r="2.5"/><circle cx="427.8" cy="297.2" r="2.5"/><circle cx="441.4" cy="318.7" r="2.5"/><circle cx="456.5" cy="306.7" r="2.5"/><circle cx="445.8" cy="295.3" r="2.5"/><circle cx="432.9" cy="299.6" r="2.5"/><circle cx="444.1" cy="317.6" r="2.5"/><circle cx="460.7" cy="345.3" r="2.5"/><circle cx="448.2" cy="304.8" r="2.5"/><circle cx="451.3" cy="320.1" r="2.5"/><circle cx="467.2" cy="326.9" r="2.5"/><circle cx="438.9" cy="323.1" r="2.5"/><circle cx="437.0" cy="335.4" r="2.5"/><circle cx="426.0" cy="356.6" r="2.5"/><circle cx="425.0" cy="337.0" r="2.5"/><circle cx="446.2" cy="332.2" r="2.5"/><circle cx="441.5" cy="317.7" r="2.5"/><circle cx="448.6" cy="321.8" r="2.5"/><circle cx="425.4" cy="335.0" r="2.5"/><circle cx="454.3" cy="305.9" r="2.5"/><circle cx="420.8" cy="308.7" r="2.5"/><circle cx="420.0" cy="329.5" r="2.5"/><circle cx="459.2" cy="327.7" r="2.5"/><circle cx="453.0" cy="297.2" r="2.5"/><circle cx="467.6" cy="300.9" r="2.5"/><circle cx="444.3" cy="317.3" r="2.5"/><circle cx="464.5" cy="298.2" r="2.5"/><circle cx="418.2" cy="306.9" r="2.5"/><circle cx="429.1" cy="316.2" r="2.5"/><circle cx="446.8" cy="323.9" r="2.5"/><circle cx="441.4" cy="327.1" r="2.5"/><circle cx="450.2" cy="308.3" r="2.5"/><circle cx="437.7" cy="320.9" r="2.5"/><circle cx="445.4" cy="320.3" r="2.5"/><circle cx="436.7" cy="314.2" r="2.5"/><circle cx="439.3" cy="328.4" r="2.5"/><circle cx="454.5" cy="338.2" r="2.5"/><circle cx="440.0" cy="315.1" r="2.5"/><circle cx="426.5" cy="335.9" r="2.5"/><circle cx="445.3" cy="298.0" r="2.5"/><circle cx="451.4" cy="315.6" r="2.5"/><circle cx="448.2" cy="322.4" r="2.5"/><circle cx="435.3" cy="308.8" r="2.5"/><circle cx="438.3" cy="318.9" r="2.5"/><circle cx="438.6" cy="330.2" r="2.5"/><circle cx="428.0" cy="320.6" r="2.5"/><circle cx="460.7" cy="306.0" r="2.5"/><circle cx="453.1" cy="318.9" r="2.5"/><circle cx="450.4" cy="313.2" r="2.5"/><circle cx="411.0" cy="298.3" r="2.5"/><circle cx="436.0" cy="331.9" r="2.5"/><circle cx="446.0" cy="313.0" r="2.5"/><circle cx="451.5" cy="311.8" r="2.5"/><circle cx="446.0" cy="333.3" r="2.5"/><circle cx="425.9" cy="323.2" r="2.5"/><circle cx="435.1" cy="321.0" r="2.5"/><circle cx="474.7" cy="331.0" r="2.5"/><circle cx="413.2" cy="351.8" r="2.5"/><circle cx="436.7" cy="329.9" r="2.5"/><circle cx="455.4" cy="338.2" r="2.5"/><circle cx="438.1" cy="333.8" r="2.5"/><circle cx="460.8" cy="326.1" r="2.5"/><circle cx="459.9" cy="317.0" r="2.5"/><circle cx="450.0" cy="309.3" r="2.5"/><circle cx="443.7" cy="292.8" r="2.5"/><circle cx="465.2" cy="329.8" r="2.5"/><circle cx="438.0" cy="345.4" r="2.5"/><circle cx="431.4" cy="345.9" r="2.5"/><circle cx="411.0" cy="317.0" r="2.5"/><circle cx="453.0" cy="343.0" r="2.5"/><circle cx="428.2" cy="316.4" r="2.5"/><circle cx="447.0" cy="322.2" r="2.5"/><circle cx="448.1" cy="332.3" r="2.5"/><circle cx="434.3" cy="358.9" r="2.5"/><circle cx="468.1" cy="294.5" r="2.5"/><circle cx="439.5" cy="351.4" r="2.5"/><circle cx="458.2" cy="298.7" r="2.5"/><circle cx="447.5" cy="317.2" r="2.5"/><circle cx="436.8" cy="319.2" r="2.5"/><circle cx="427.8" cy="295.8" r="2.5"/><circle cx="453.6" cy="330.2" r="2.5"/><circle cx="436.9" cy="340.1" r="2.5"/><circle cx="471.3" cy="309.7" r="2.5"/><circle cx="444.4" cy="318.7" r="2.5"/><circle cx="448.6" cy="331.9" r="2.5"/><circle cx="424.8" cy="336.9" r="2.5"/><circle cx="448.4" cy="336.6" r="2.5"/><circle cx="447.5" cy="309.0" r="2.5"/><circle cx="444.3" cy="322.5" r="2.5"/><circle cx="447.6" cy="328.2" r="2.5"/><circle cx="461.8" cy="305.8" r="2.5"/><circle cx="438.8" cy="331.3" r="2.5"/><circle cx="442.9" cy="300.0" r="2.5"/><circle cx="460.5" cy="309.4" r="2.5"/><circle cx="450.0" cy="295.9" r="2.5"/><circle cx="446.4" cy="317.2" r="2.5"/><circle cx="441.7" cy="349.2" r="2.5"/><circle cx="429.4" cy="323.0" r="2.5"/><circle cx="452.1" cy="315.6" r="2.5"/><circle cx="441.9" cy="332.2" r="2.5"/><circle cx="447.4" cy="319.8" r="2.5"/><circle cx="440.9" cy="320.4" r="2.5"/><circle cx="423.8" cy="356.2" r="2.5"/><circle cx="452.7" cy="331.7" r="2.5"/><circle cx="449.3" cy="300.1" r="2.5"/><circle cx="438.6" cy="324.4" r="2.5"/><circle cx="432.2" cy="315.3" r="2.5"/><circle cx="428.0" cy="310.8" r="2.5"/><circle cx="452.6" cy="306.1" r="2.5"/><circle cx="444.0" cy="301.8" r="2.5"/><circle cx="464.5" cy="288.3" r="2.5"/><circle cx="435.9" cy="295.6" r="2.5"/><circle cx="435.9" cy="304.6" r="2.5"/><circle cx="451.8" cy="310.0" r="2.5"/><circle cx="442.9" cy="323.0" r="2.5"/><circle cx="439.3" cy="329.6" r="2.5"/><circle cx="426.1" cy="314.5" r="2.5"/><circle cx="431.7" cy="325.9" r="2.5"/><circle cx="449.4" cy="306.8" r="2.5"/><circle cx="439.4" cy="308.6" r="2.5"/><circle cx="432.6" cy="332.9" r="2.5"/><circle cx="456.8" cy="301.9" r="2.5"/><circle cx="424.7" cy="332.2" r="2.5"/><circle cx="458.0" cy="293.4" r="2.5"/><circle cx="438.0" cy="324.2" r="2.5"/><circle cx="428.6" cy="326.3" r="2.5"/><circle cx="445.3" cy="301.2" r="2.5"/><circle cx="421.1" cy="336.2" r="2.5"/><circle cx="433.5" cy="298.4" r="2.5"/><circle cx="456.9" cy="292.7" r="2.5"/><circle cx="417.0" cy="303.4" r="2.5"/><circle cx="455.1" cy="345.2" r="2.5"/><circle cx="456.4" cy="319.6" r="2.5"/><circle cx="437.1" cy="301.2" r="2.5"/><circle cx="440.1" cy="315.6" r="2.5"/><circle cx="431.9" cy="337.6" r="2.5"/><circle cx="434.8" cy="289.0" r="2.5"/><circle cx="430.1" cy="318.4" r="2.5"/><circle cx="434.4" cy="326.2" r="2.5"/><circle cx="426.0" cy="340.5" r="2.5"/><circle cx="455.0" cy="309.7" r="2.5"/><circle cx="423.2" cy="340.9" r="2.5"/><circle cx="450.8" cy="306.4" r="2.5"/><circle cx="444.8" cy="336.9" r="2.5"/><circle cx="446.0" cy="343.2" r="2.5"/><circle cx="446.2" cy="310.7" r="2.5"/><circle cx="435.8" cy="280.8" r="2.5"/><circle cx="438.8" cy="308.9" r="2.5"/><circle cx="444.5" cy="311.6" r="2.5"/><circle cx="450.5" cy="341.6" r="2.5"/><circle cx="448.6" cy="353.9" r="2.5"/><circle cx="436.4" cy="320.2" r="2.5"/><circle cx="440.8" cy="313.9" r="2.5"/><circle cx="455.0" cy="312.1" r="2.5"/><circle cx="463.2" cy="313.5" r="2.5"/><circle cx="449.1" cy="314.5" r="2.5"/><circle cx="460.1" cy="313.5" r="2.5"/><circle cx="440.1" cy="300.2" r="2.5"/><circle cx="435.6" cy="302.2" r="2.5"/><circle cx="449.4" cy="307.2" r="2.5"/><circle cx="440.1" cy="323.7" r="2.5"/><circle cx="474.9" cy="298.5" r="2.5"/><circle cx="423.4" cy="314.5" r="2.5"/><circle cx="445.8" cy="301.9" r="2.5"/><circle cx="427.1" cy="350.0" r="2.5"/><circle cx="434.5" cy="329.4" r="2.5"/><circle cx="430.3" cy="344.2" r="2.5"/><circle cx="467.5" cy="309.8" r="2.5"/><circle cx="452.8" cy="298.2" r="2.5"/><circle cx="468.5" cy="323.4" r="2.5"/><circle cx="437.3" cy="287.3" r="2.5"/><circle cx="414.8" cy="345.2" r="2.5"/><circle cx="451.6" cy="307.7" r="2.5"/><circle cx="433.5" cy="341.4" r="2.5"/><circle cx="442.6" cy="313.4" r="2.5"/><circle cx="427.8" cy="341.0" r="2.5"/><circle cx="446.4" cy="327.5" r="2.5"/><circle cx="443.3" cy="345.8" r="2.5"/><circle cx="444.9" cy="302.6" r="2.5"/><circle cx="446.5" cy="310.8" r="2.5"/><circle cx="436.5" cy="288.7" r="2.5"/><circle cx="436.2" cy="328.7" r="2.5"/><circle cx="441.3" cy="345.2" r="2.5"/><circle cx="442.3" cy="302.7" r="2.5"/><circle cx="454.2" cy="287.5" r="2.5"/><circle cx="437.1" cy="308.5" r="2.5"/><circle cx="419.1" cy="321.8" r="2.5"/><circle cx="430.8" cy="315.5" r="2.5"/><circle cx="450.2" cy="330.7" r="2.5"/><circle cx="446.2" cy="308.2" r="2.5"/><circle cx="459.1" cy="299.6" r="2.5"/><circle cx="422.9" cy="350.4" r="2.5"/><circle cx="427.3" cy="333.3" r="2.5"/><circle cx="437.0" cy="322.2" r="2.5"/><circle cx="429.3" cy="294.1" r="2.5"/><circle cx="446.0" cy="327.5" r="2.5"/><circle cx="453.1" cy="342.8" r="2.5"/><circle cx="437.3" cy="328.4" r="2.5"/><circle cx="469.0" cy="333.8" r="2.5"/><circle cx="430.0" cy="318.3" r="2.5"/><circle cx="462.2" cy="309.4" r="2.5"/><circle cx="425.5" cy="347.7" r="2.5"/><circle cx="434.7" cy="331.9" r="2.5"/><circle cx="473.6" cy="301.5" r="2.5"/><circle cx="432.0" cy="325.4" r="2.5"/><circle cx="462.1" cy="299.8" r="2.5"/><circle cx="435.0" cy="308.9" r="2.5"/><circle cx="442.7" cy="307.4" r="2.5"/><circle cx="433.5" cy="339.5" r="2.5"/><circle cx="429.4" cy="297.3" r="2.5"/><circle cx="459.0" cy="342.0" r="2.5"/><circle cx="418.7" cy="322.0" r="2.5"/><circle cx="463.7" cy="299.3" r="2.5"/><circle cx="451.4" cy="350.6" r="2.5"/><circle cx="433.4" cy="291.0" r="2.5"/><circle cx="444.1" cy="306.3" r="2.5"/><circle cx="446.0" cy="291.8" r="2.5"/><circle cx="458.9" cy="334.3" r="2.5"/><circle cx="452.2" cy="299.5" r="2.5"/><circle cx="454.1" cy="314.5" r="2.5"/><circle cx="455.9" cy="320.0" r="2.5"/><circle cx="430.6" cy="294.8" r="2.5"/><circle cx="460.0" cy="309.4" r="2.5"/><circle cx="447.6" cy="349.6" r="2.5"/><circle cx="439.6" cy="332.4" r="2.5"/><circle cx="445.3" cy="327.9" r="2.5"/><circle cx="442.8" cy="329.3" r="2.5"/><circle cx="439.4" cy="290.8" r="2.5"/><circle cx="431.1" cy="335.5" r="2.5"/><circle cx="448.0" cy="324.7" r="2.5"/><circle cx="440.5" cy="298.4" r="2.5"/><circle cx="442.3" cy="326.1" r="2.5"/><circle cx="430.6" cy="338.5" r="2.5"/><circle cx="423.8" cy="343.0" r="2.5"/><circle cx="466.0" cy="319.0" r="2.5"/><circle cx="425.5" cy="335.1" r="2.5"/><circle cx="442.3" cy="320.1" r="2.5"/><circle cx="451.8" cy="313.9" r="2.5"/><circle cx="451.8" cy="327.0" r="2.5"/><circle cx="439.4" cy="323.2" r="2.5"/><circle cx="438.8" cy="347.9" r="2.5"/><circle cx="450.1" cy="340.0" r="2.5"/><circle cx="424.8" cy="353.4" r="2.5"/><circle cx="457.8" cy="317.4" r="2.5"/><circle cx="437.7" cy="309.3" r="2.5"/><circle cx="445.7" cy="322.1" r="2.5"/><circle cx="450.9" cy="320.6" r="2.5"/><circle cx="440.6" cy="342.7" r="2.5"/><circle cx="446.2" cy="284.8" r="2.5"/><circle cx="454.6" cy="330.3" r="2.5"/><circle cx="451.0" cy="295.8" r="2.5"/><circle cx="446.4" cy="308.1" r="2.5"/><circle cx="461.6" cy="286.0" r="2.5"/><circle cx="429.6" cy="310.7" r="2.5"/><circle cx="430.6" cy="332.7" r="2.5"/><circle cx="425.2" cy="331.9" r="2.5"/><circle cx="451.9" cy="287.8" r="2.5"/><circle cx="445.7" cy="349.4" r="2.5"/><circle cx="417.6" cy="313.3" r="2.5"/><circle cx="434.5" cy="338.1" r="2.5"/><circle cx="428.8" cy="330.4" r="2.5"/><circle cx="441.4" cy="339.2" r="2.5"/><circle cx="438.0" cy="336.6" r="2.5"/><circle cx="432.0" cy="342.8" r="2.5"/><circle cx="409.1" cy="335.4" r="2.5"/><circle cx="428.4" cy="325.8" r="2.5"/><circle cx="426.1" cy="306.8" r="2.5"/><circle cx="446.6" cy="322.1" r="2.5"/><circle cx="434.2" cy="327.2" r="2.5"/><circle cx="456.7" cy="315.2" r="2.5"/><circle cx="422.7" cy="342.8" r="2.5"/><circle cx="443.4" cy="316.9" r="2.5"/><circle cx="419.1" cy="292.1" r="2.5"/><circle cx="454.9" cy="309.4" r="2.5"/><circle cx="435.8" cy="332.3" r="2.5"/><circle cx="457.1" cy="338.3" r="2.5"/><circle cx="423.8" cy="342.6" r="2.5"/><circle cx="444.3" cy="330.7" r="2.5"/><circle cx="412.7" cy="298.1" r="2.5"/><circle cx="449.9" cy="296.0" r="2.5"/><circle cx="435.9" cy="336.5" r="2.5"/><circle cx="441.5" cy="307.1" r="2.5"/><circle cx="440.9" cy="327.7" r="2.5"/><circle cx="436.7" cy="328.4" r="2.5"/><circle cx="424.8" cy="299.4" r="2.5"/><circle cx="444.7" cy="327.6" r="2.5"/><circle cx="435.7" cy="331.8" r="2.5"/><circle cx="432.2" cy="309.7" r="2.5"/><circle cx="447.9" cy="310.7" r="2.5"/><circle cx="436.2" cy="313.1" r="2.5"/><circle cx="437.0" cy="341.7" r="2.5"/><circle cx="436.3" cy="323.9" r="2.5"/><circle cx="434.1" cy="315.3" r="2.5"/><circle cx="445.7" cy="321.6" r="2.5"/><circle cx="443.2" cy="325.8" r="2.5"/><circle cx="432.6" cy="362.2" r="2.5"/><circle cx="446.5" cy="302.6" r="2.5"/><circle cx="448.7" cy="327.6" r="2.5"/><circle cx="456.3" cy="310.2" r="2.5"/><circle cx="449.1" cy="298.9" r="2.5"/><circle cx="462.1" cy="320.8" r="2.5"/><circle cx="454.7" cy="298.6" r="2.5"/><circle cx="447.2" cy="313.7" r="2.5"/><circle cx="446.4" cy="334.2" r="2.5"/><circle cx="435.5" cy="308.8" r="2.5"/><circle cx="440.6" cy="313.6" r="2.5"/><circle cx="431.5" cy="301.6" r="2.5"/><circle cx="442.1" cy="347.3" r="2.5"/><circle cx="443.4" cy="313.2" r="2.5"/><circle cx="437.2" cy="326.4" r="2.5"/><circle cx="429.4" cy="314.5" r="2.5"/><circle cx="447.8" cy="313.8" r="2.5"/><circle cx="431.7" cy="326.0" r="2.5"/><circle cx="432.9" cy="330.1" r="2.5"/><circle cx="443.3" cy="334.1" r="2.5"/><circle cx="469.0" cy="302.9" r="2.5"/><circle cx="462.3" cy="335.4" r="2.5"/><circle cx="425.7" cy="303.8" r="2.5"/><circle cx="454.8" cy="299.6" r="2.5"/><circle cx="428.3" cy="337.6" r="2.5"/><circle cx="452.6" cy="355.3" r="2.5"/><circle cx="456.6" cy="301.8" r="2.5"/><circle cx="446.7" cy="317.7" r="2.5"/><circle cx="439.3" cy="341.7" r="2.5"/><circle cx="434.0" cy="322.7" r="2.5"/><circle cx="435.1" cy="322.3" r="2.5"/><circle cx="439.8" cy="331.5" r="2.5"/><circle cx="437.1" cy="347.1" r="2.5"/><circle cx="476.4" cy="311.9" r="2.5"/><circle cx="425.4" cy="330.6" r="2.5"/><circle cx="451.0" cy="329.4" r="2.5"/><circle cx="436.1" cy="313.0" r="2.5"/><circle cx="432.0" cy="307.4" r="2.5"/><circle cx="437.6" cy="330.8" r="2.5"/><circle cx="432.3" cy="329.5" r="2.5"/><circle cx="450.2" cy="321.3" r="2.5"/><circle cx="446.5" cy="343.9" r="2.5"/><circle cx="422.6" cy="348.1" r="2.5"/><circle cx="434.4" cy="335.6" r="2.5"/><circle cx="426.4" cy="336.4" r="2.5"/><circle cx="443.4" cy="316.7" r="2.5"/><circle cx="423.8" cy="344.6" r="2.5"/><circle cx="456.9" cy="297.6" r="2.5"/><circle cx="425.7" cy="322.2" r="2.5"/><circle cx="435.3" cy="315.8" r="2.5"/><circle cx="435.5" cy="327.8" r="2.5"/><circle cx="434.7" cy="336.3" r="2.5"/><circle cx="457.7" cy="317.1" r="2.5"/><circle cx="429.8" cy="295.8" r="2.5"/><circle cx="451.3" cy="284.3" r="2.5"/><circle cx="466.7" cy="286.6" r="2.5"/><circle cx="438.0" cy="339.8" r="2.5"/><circle cx="447.6" cy="301.6" r="2.5"/><circle cx="428.2" cy="341.8" r="2.5"/><circle cx="458.5" cy="318.3" r="2.5"/><circle cx="449.7" cy="337.6" r="2.5"/><circle cx="446.4" cy="313.5" r="2.5"/><circle cx="430.0" cy="322.7" r="2.5"/><circle cx="441.3" cy="325.5" r="2.5"/><circle cx="423.5" cy="360.8" r="2.5"/><circle cx="429.1" cy="365.0" r="2.5"/><circle cx="452.9" cy="303.3" r="2.5"/><circle cx="444.0" cy="344.7" r="2.5"/><circle cx="439.5" cy="314.5" r="2.5"/><circle cx="449.2" cy="304.9" r="2.5"/><circle cx="449.3" cy="305.1" r="2.5"/><circle cx="432.4" cy="347.8" r="2.5"/><circle cx="435.3" cy="341.9" r="2.5"/><circle cx="438.0" cy="341.6" r="2.5"/><circle cx="418.6" cy="347.1" r="2.5"/><circle cx="436.4" cy="350.2" r="2.5"/><circle cx="421.0" cy="321.9" r="2.5"/><circle cx="422.0" cy="340.0" r="2.5"/><circle cx="444.3" cy="338.4" r="2.5"/><circle cx="437.3" cy="323.3" r="2.5"/><circle cx="444.4" cy="325.4" r="2.5"/><circle cx="443.1" cy="329.2" r="2.5"/><circle cx="454.2" cy="303.8" r="2.5"/><circle cx="425.1" cy="314.6" r="2.5"/><circle cx="458.6" cy="294.5" r="2.5"/><circle cx="423.8" cy="334.4" r="2.5"/><circle cx="444.9" cy="327.6" r="2.5"/><circle cx="435.6" cy="311.0" r="2.5"/><circle cx="443.8" cy="330.1" r="2.5"/><circle cx="411.9" cy="340.4" r="2.5"/><circle cx="438.9" cy="317.8" r="2.5"/><circle cx="443.3" cy="293.5" r="2.5"/><circle cx="438.8" cy="341.0" r="2.5"/><circle cx="434.0" cy="329.1" r="2.5"/><circle cx="426.3" cy="301.9" r="2.5"/><circle cx="436.3" cy="339.1" r="2.5"/><circle cx="452.4" cy="290.8" r="2.5"/><circle cx="445.5" cy="333.4" r="2.5"/><circle cx="448.1" cy="324.0" r="2.5"/><circle cx="430.1" cy="313.9" r="2.5"/><circle cx="462.4" cy="316.5" r="2.5"/><circle cx="449.6" cy="328.3" r="2.5"/><circle cx="451.2" cy="304.5" r="2.5"/><circle cx="436.8" cy="293.7" r="2.5"/><circle cx="431.9" cy="340.5" r="2.5"/><circle cx="458.2" cy="299.6" r="2.5"/><circle cx="450.8" cy="349.0" r="2.5"/><circle cx="451.0" cy="318.2" r="2.5"/><circle cx="446.9" cy="309.0" r="2.5"/><circle cx="457.3" cy="324.8" r="2.5"/><circle cx="426.4" cy="327.8" r="2.5"/><circle cx="451.7" cy="319.7" r="2.5"/><circle cx="431.8" cy="324.7" r="2.5"/><circle cx="460.9" cy="348.1" r="2.5"/><circle cx="454.7" cy="305.7" r="2.5"/><circle cx="423.9" cy="331.8" r="2.5"/><circle cx="438.0" cy="335.0" r="2.5"/><circle cx="452.8" cy="293.9" r="2.5"/><circle cx="437.3" cy="300.8" r="2.5"/><circle cx="439.2" cy="304.0" r="2.5"/><circle cx="454.9" cy="305.1" r="2.5"/><circle cx="444.8" cy="317.8" r="2.5"/><circle cx="436.7" cy="309.2" r="2.5"/><circle cx="429.3" cy="333.8" r="2.5"/><circle cx="424.2" cy="319.5" r="2.5"/><circle cx="440.5" cy="346.4" r="2.5"/><circle cx="417.0" cy="328.0" r="2.5"/><circle cx="442.0" cy="341.2" r="2.5"/><circle cx="451.1" cy="299.1" r="2.5"/><circle cx="436.3" cy="302.9" r="2.5"/><circle cx="435.6" cy="330.3" r="2.5"/><circle cx="448.6" cy="307.2" r="2.5"/><circle cx="434.1" cy="308.0" r="2.5"/><circle cx="453.5" cy="302.5" r="2.5"/><circle cx="414.9" cy="296.5" r="2.5"/><circle cx="428.0" cy="331.4" r="2.5"/><circle cx="406.2" cy="361.5" r="2.5"/><circle cx="436.7" cy="320.7" r="2.5"/><circle cx="438.8" cy="328.5" r="2.5"/><circle cx="438.1" cy="307.9" r="2.5"/><circle cx="452.1" cy="326.4" r="2.5"/><circle cx="443.6" cy="337.3" r="2.5"/><circle cx="422.3" cy="320.7" r="2.5"/><circle cx="449.7" cy="322.0" r="2.5"/><circle cx="441.3" cy="309.8" r="2.5"/><circle cx="457.0" cy="337.9" r="2.5"/><circle cx="444.3" cy="325.8" r="2.5"/><circle cx="430.1" cy="330.5" r="2.5"/><circle cx="460.5" cy="307.4" r="2.5"/><circle cx="444.1" cy="304.9" r="2.5"/><circle cx="420.6" cy="329.9" r="2.5"/><circle cx="427.7" cy="306.6" r="2.5"/><circle cx="426.8" cy="331.6" r="2.5"/><circle cx="476.9" cy="323.6" r="2.5"/></g>
<line x1="401.70" y1="333.60" x2="490.90" y2="307.30" stroke="#2fa3cb" stroke-width="2.4" />
<text x="29.0" y="325.6" font-size="14.5" fill="#000" text-anchor="middle" textLength="104.5" lengthAdjust="spacingAndGlyphs" transform="rotate(-90 29.0 325.6)" >Z-score M1 stim.</text>
<text x="59.7" y="285.1" font-size="14" fill="#000" text-anchor="end" textLength="19.6" lengthAdjust="spacingAndGlyphs" >1.5</text>
<text x="59.7" y="329.9" font-size="14.5" fill="#000" text-anchor="end" >0</text>
<text x="60.2" y="375.8" font-size="14" fill="#000" text-anchor="end" textLength="26.7" lengthAdjust="spacingAndGlyphs" >-1.5</text>
<text x="518.8" y="250.9" font-size="21" fill="#000" >e</text>
<line x1="568.60" y1="274.50" x2="568.60" y2="374.50" stroke="#8a8a8a" stroke-width="1" />
<line x1="568.60" y1="374.50" x2="666.60" y2="374.50" stroke="#9a9a9a" stroke-width="1.2" />
<line x1="567.80" y1="277.20" x2="569.80" y2="277.20" stroke="#555" stroke-width="1" />
<line x1="567.80" y1="293.40" x2="569.80" y2="293.40" stroke="#555" stroke-width="1" />
<line x1="567.80" y1="309.60" x2="569.80" y2="309.60" stroke="#555" stroke-width="1" />
<line x1="567.80" y1="325.80" x2="569.80" y2="325.80" stroke="#555" stroke-width="1" />
<line x1="567.80" y1="342.00" x2="569.80" y2="342.00" stroke="#555" stroke-width="1" />
<line x1="567.80" y1="358.20" x2="569.80" y2="358.20" stroke="#555" stroke-width="1" />
<line x1="577.00" y1="375.30" x2="577.00" y2="373.30" stroke="#666" stroke-width="1" />
<line x1="618.00" y1="375.30" x2="618.00" y2="373.30" stroke="#666" stroke-width="1" />
<line x1="659.00" y1="375.30" x2="659.00" y2="373.30" stroke="#666" stroke-width="1" />
<text x="565.8" y="286.3" font-size="15" fill="#000" text-anchor="end" >.3</text>
<text x="565.8" y="330.5" font-size="15" fill="#000" text-anchor="end" >0</text>
<text x="565.8" y="376.6" font-size="15" fill="#000" text-anchor="end" textLength="17.8" lengthAdjust="spacingAndGlyphs" >-.3</text>
<text x="575.0" y="389.5" font-size="15" fill="#000" text-anchor="middle" >-.1</text>
<text x="618.0" y="389.5" font-size="15" fill="#000" text-anchor="middle" >0</text>
<text x="658.0" y="389.5" font-size="15" fill="#000" text-anchor="middle" >.1</text>
<text x="617.3" y="400.6" font-size="15" fill="#000" text-anchor="middle" textLength="91.0" lengthAdjust="spacingAndGlyphs" >crosscorr. lag</text>
<text x="617.6" y="413.3" font-size="15" fill="#000" text-anchor="middle" textLength="79.8" lengthAdjust="spacingAndGlyphs" >behavior (s)</text>
<text x="533.5" y="324.6" font-size="15" fill="#000" text-anchor="middle" textLength="91.8" lengthAdjust="spacingAndGlyphs" transform="rotate(-90 533.5 324.6)" >crosscorr. lag</text>
<text x="547.3" y="323.9" font-size="15" fill="#000" text-anchor="middle" textLength="81.8" lengthAdjust="spacingAndGlyphs" transform="rotate(-90 547.3 323.9)" >M1 stim. (s)</text>
<text x="667.2" y="261.2" font-size="9.2" fill="#000" text-anchor="end" textLength="45.9" lengthAdjust="spacingAndGlyphs" >r = 0.1633</text>
<text x="667.2" y="270.4" font-size="9.2" fill="#000" text-anchor="end" textLength="43.0" lengthAdjust="spacingAndGlyphs" >p = 0.004</text>
<g fill="none" stroke="#000" stroke-width="0.8"><circle cx="620.1" cy="359.2" r="2.4"/><circle cx="611.2" cy="324.3" r="2.4"/><circle cx="637.2" cy="293.8" r="2.4"/><circle cx="627.2" cy="363.7" r="2.4"/><circle cx="621.7" cy="312.5" r="2.4"/><circle cx="627.4" cy="287.0" r="2.4"/><circle cx="633.5" cy="324.1" r="2.4"/><circle cx="610.7" cy="351.3" r="2.4"/><circle cx="629.4" cy="314.8" r="2.4"/><circle cx="617.0" cy="332.4" r="2.4"/><circle cx="608.0" cy="294.1" r="2.4"/><circle cx="635.3" cy="332.1" r="2.4"/><circle cx="635.0" cy="329.1" r="2.4"/><circle cx="639.6" cy="298.2" r="2.4"/><circle cx="635.2" cy="349.1" r="2.4"/><circle cx="635.1" cy="366.2" r="2.4"/><circle cx="620.8" cy="327.2" r="2.4"/><circle cx="643.5" cy="358.9" r="2.4"/><circle cx="633.9" cy="291.3" r="2.4"/><circle cx="642.8" cy="339.4" r="2.4"/><circle cx="633.3" cy="283.2" r="2.4"/><circle cx="631.8" cy="326.9" r="2.4"/><circle cx="626.6" cy="301.6" r="2.4"/><circle cx="627.3" cy="322.5" r="2.4"/><circle cx="607.8" cy="333.1" r="2.4"/><circle cx="622.0" cy="288.6" r="2.4"/><circle cx="633.7" cy="291.0" r="2.4"/><circle cx="607.4" cy="336.4" r="2.4"/><circle cx="646.9" cy="310.1" r="2.4"/><circle cx="621.4" cy="317.8" r="2.4"/><circle cx="627.8" cy="322.1" r="2.4"/><circle cx="634.0" cy="344.3" r="2.4"/><circle cx="621.9" cy="328.6" r="2.4"/><circle cx="615.8" cy="329.0" r="2.4"/><circle cx="610.6" cy="363.3" r="2.4"/><circle cx="603.6" cy="302.2" r="2.4"/><circle cx="622.1" cy="352.0" r="2.4"/><circle cx="619.6" cy="350.8" r="2.4"/><circle cx="607.5" cy="315.8" r="2.4"/><circle cx="621.3" cy="295.1" r="2.4"/><circle cx="613.5" cy="339.2" r="2.4"/><circle cx="625.9" cy="347.4" r="2.4"/><circle cx="602.6" cy="363.2" r="2.4"/><circle cx="622.4" cy="305.4" r="2.4"/><circle cx="628.8" cy="327.0" r="2.4"/><circle cx="619.4" cy="328.9" r="2.4"/><circle cx="612.6" cy="295.2" r="2.4"/><circle cx="640.9" cy="337.1" r="2.4"/><circle cx="613.0" cy="368.0" r="2.4"/><circle cx="619.0" cy="298.6" r="2.4"/><circle cx="614.6" cy="306.2" r="2.4"/><circle cx="628.3" cy="321.3" r="2.4"/><circle cx="625.3" cy="309.4" r="2.4"/><circle cx="628.9" cy="302.2" r="2.4"/><circle cx="626.3" cy="293.7" r="2.4"/><circle cx="633.4" cy="341.2" r="2.4"/><circle cx="620.5" cy="328.0" r="2.4"/><circle cx="617.2" cy="312.1" r="2.4"/><circle cx="625.3" cy="350.5" r="2.4"/><circle cx="606.1" cy="314.2" r="2.4"/><circle cx="630.4" cy="292.3" r="2.4"/><circle cx="610.0" cy="349.4" r="2.4"/><circle cx="631.7" cy="326.5" r="2.4"/><circle cx="622.2" cy="320.6" r="2.4"/><circle cx="620.9" cy="312.1" r="2.4"/><circle cx="609.4" cy="310.4" r="2.4"/><circle cx="626.4" cy="295.7" r="2.4"/><circle cx="611.7" cy="303.7" r="2.4"/><circle cx="639.6" cy="359.6" r="2.4"/><circle cx="629.2" cy="308.9" r="2.4"/><circle cx="630.2" cy="326.7" r="2.4"/><circle cx="645.9" cy="340.0" r="2.4"/><circle cx="618.7" cy="329.6" r="2.4"/><circle cx="615.8" cy="334.5" r="2.4"/><circle cx="618.7" cy="342.7" r="2.4"/><circle cx="632.7" cy="293.4" r="2.4"/><circle cx="610.2" cy="343.6" r="2.4"/><circle cx="620.8" cy="320.9" r="2.4"/><circle cx="631.3" cy="307.7" r="2.4"/><circle cx="628.4" cy="307.5" r="2.4"/><circle cx="618.8" cy="345.8" r="2.4"/><circle cx="628.7" cy="300.0" r="2.4"/><circle cx="636.7" cy="285.7" r="2.4"/><circle cx="627.2" cy="343.1" r="2.4"/><circle cx="618.5" cy="290.8" r="2.4"/><circle cx="613.0" cy="328.3" r="2.4"/><circle cx="640.8" cy="316.8" r="2.4"/><circle cx="604.3" cy="308.9" r="2.4"/><circle cx="605.9" cy="357.1" r="2.4"/><circle cx="628.5" cy="335.9" r="2.4"/><circle cx="602.1" cy="280.2" r="2.4"/><circle cx="610.6" cy="316.0" r="2.4"/><circle cx="620.4" cy="307.2" r="2.4"/><circle cx="632.5" cy="293.5" r="2.4"/><circle cx="634.0" cy="337.7" r="2.4"/><circle cx="613.5" cy="311.8" r="2.4"/><circle cx="641.8" cy="333.0" r="2.4"/><circle cx="610.7" cy="319.2" r="2.4"/><circle cx="619.2" cy="340.5" r="2.4"/><circle cx="616.1" cy="344.0" r="2.4"/><circle cx="619.7" cy="306.7" r="2.4"/><circle cx="633.2" cy="331.7" r="2.4"/><circle cx="605.5" cy="326.9" r="2.4"/><circle cx="622.8" cy="331.4" r="2.4"/><circle cx="634.5" cy="284.0" r="2.4"/><circle cx="629.1" cy="313.1" r="2.4"/><circle cx="631.1" cy="299.3" r="2.4"/><circle cx="625.0" cy="362.7" r="2.4"/><circle cx="622.7" cy="343.3" r="2.4"/><circle cx="597.5" cy="292.9" r="2.4"/><circle cx="612.5" cy="315.2" r="2.4"/><circle cx="620.5" cy="340.5" r="2.4"/><circle cx="642.9" cy="305.8" r="2.4"/><circle cx="620.0" cy="330.1" r="2.4"/><circle cx="634.2" cy="355.2" r="2.4"/><circle cx="626.0" cy="321.8" r="2.4"/><circle cx="628.8" cy="322.0" r="2.4"/><circle cx="634.6" cy="319.5" r="2.4"/><circle cx="619.9" cy="302.8" r="2.4"/><circle cx="640.9" cy="312.8" r="2.4"/><circle cx="610.9" cy="338.5" r="2.4"/><circle cx="617.9" cy="339.9" r="2.4"/><circle cx="622.2" cy="325.1" r="2.4"/><circle cx="623.5" cy="331.8" r="2.4"/><circle cx="621.6" cy="300.9" r="2.4"/><circle cx="625.7" cy="335.9" r="2.4"/><circle cx="606.9" cy="312.5" r="2.4"/><circle cx="625.9" cy="342.9" r="2.4"/><circle cx="639.9" cy="347.6" r="2.4"/><circle cx="630.3" cy="325.8" r="2.4"/><circle cx="626.7" cy="321.8" r="2.4"/><circle cx="621.8" cy="366.5" r="2.4"/><circle cx="617.4" cy="287.5" r="2.4"/><circle cx="617.4" cy="319.8" r="2.4"/><circle cx="620.5" cy="355.1" r="2.4"/><circle cx="627.0" cy="301.7" r="2.4"/><circle cx="635.6" cy="325.7" r="2.4"/><circle cx="622.1" cy="324.9" r="2.4"/><circle cx="618.2" cy="348.0" r="2.4"/><circle cx="634.2" cy="329.4" r="2.4"/><circle cx="626.2" cy="357.9" r="2.4"/><circle cx="617.6" cy="337.8" r="2.4"/><circle cx="617.5" cy="282.1" r="2.4"/><circle cx="619.2" cy="356.1" r="2.4"/><circle cx="606.8" cy="363.8" r="2.4"/><circle cx="626.2" cy="307.7" r="2.4"/><circle cx="618.5" cy="336.2" r="2.4"/><circle cx="619.1" cy="282.8" r="2.4"/><circle cx="613.7" cy="323.0" r="2.4"/><circle cx="611.2" cy="327.2" r="2.4"/><circle cx="613.2" cy="331.4" r="2.4"/><circle cx="618.6" cy="346.7" r="2.4"/><circle cx="621.3" cy="325.5" r="2.4"/><circle cx="625.7" cy="294.6" r="2.4"/><circle cx="620.9" cy="288.2" r="2.4"/><circle cx="620.7" cy="298.8" r="2.4"/><circle cx="626.0" cy="325.4" r="2.4"/><circle cx="606.8" cy="350.0" r="2.4"/><circle cx="611.2" cy="317.4" r="2.4"/><circle cx="617.5" cy="310.2" r="2.4"/><circle cx="610.5" cy="331.7" r="2.4"/><circle cx="619.3" cy="304.1" r="2.4"/><circle cx="616.8" cy="282.2" r="2.4"/><circle cx="628.3" cy="298.3" r="2.4"/><circle cx="616.2" cy="347.4" r="2.4"/><circle cx="641.0" cy="320.6" r="2.4"/><circle cx="629.3" cy="330.6" r="2.4"/><circle cx="622.5" cy="292.1" r="2.4"/><circle cx="628.4" cy="317.1" r="2.4"/><circle cx="632.7" cy="300.6" r="2.4"/><circle cx="630.2" cy="310.8" r="2.4"/><circle cx="638.1" cy="325.4" r="2.4"/><circle cx="631.5" cy="306.0" r="2.4"/><circle cx="633.7" cy="316.2" r="2.4"/><circle cx="630.6" cy="317.5" r="2.4"/><circle cx="638.0" cy="306.6" r="2.4"/><circle cx="621.4" cy="318.0" r="2.4"/><circle cx="634.6" cy="316.4" r="2.4"/><circle cx="618.6" cy="313.3" r="2.4"/><circle cx="626.5" cy="315.3" r="2.4"/><circle cx="631.5" cy="304.4" r="2.4"/><circle cx="626.7" cy="306.1" r="2.4"/><circle cx="628.4" cy="324.8" r="2.4"/><circle cx="622.6" cy="319.0" r="2.4"/><circle cx="632.2" cy="305.8" r="2.4"/><circle cx="636.4" cy="290.1" r="2.4"/><circle cx="643.1" cy="327.7" r="2.4"/><circle cx="628.4" cy="304.6" r="2.4"/><circle cx="624.6" cy="303.3" r="2.4"/><circle cx="642.8" cy="302.9" r="2.4"/><circle cx="632.9" cy="300.1" r="2.4"/><circle cx="630.6" cy="320.1" r="2.4"/><circle cx="627.6" cy="326.8" r="2.4"/><circle cx="630.3" cy="322.0" r="2.4"/><circle cx="629.6" cy="305.0" r="2.4"/><circle cx="629.3" cy="319.8" r="2.4"/><circle cx="636.5" cy="310.1" r="2.4"/><circle cx="623.9" cy="312.7" r="2.4"/><circle cx="625.9" cy="314.0" r="2.4"/><circle cx="627.4" cy="318.4" r="2.4"/><circle cx="634.7" cy="304.9" r="2.4"/><circle cx="631.9" cy="309.6" r="2.4"/><circle cx="637.0" cy="307.3" r="2.4"/><circle cx="623.9" cy="302.0" r="2.4"/><circle cx="628.0" cy="314.8" r="2.4"/><circle cx="624.1" cy="314.9" r="2.4"/><circle cx="612.6" cy="316.0" r="2.4"/><circle cx="629.9" cy="293.6" r="2.4"/><circle cx="639.8" cy="319.4" r="2.4"/><circle cx="634.3" cy="325.9" r="2.4"/><circle cx="626.0" cy="302.5" r="2.4"/><circle cx="643.5" cy="308.6" r="2.4"/><circle cx="616.9" cy="295.2" r="2.4"/><circle cx="645.3" cy="316.3" r="2.4"/><circle cx="632.8" cy="317.4" r="2.4"/><circle cx="633.8" cy="335.2" r="2.4"/><circle cx="627.3" cy="325.9" r="2.4"/><circle cx="631.8" cy="310.4" r="2.4"/><circle cx="624.8" cy="314.5" r="2.4"/><circle cx="626.4" cy="325.6" r="2.4"/><circle cx="643.2" cy="320.9" r="2.4"/><circle cx="627.0" cy="302.3" r="2.4"/><circle cx="623.8" cy="324.9" r="2.4"/><circle cx="636.0" cy="329.0" r="2.4"/><circle cx="624.0" cy="315.3" r="2.4"/><circle cx="639.7" cy="319.1" r="2.4"/><circle cx="623.4" cy="307.0" r="2.4"/><circle cx="619.9" cy="302.4" r="2.4"/><circle cx="640.7" cy="304.3" r="2.4"/><circle cx="640.9" cy="326.7" r="2.4"/><circle cx="633.8" cy="307.8" r="2.4"/><circle cx="646.1" cy="324.8" r="2.4"/><circle cx="638.7" cy="316.3" r="2.4"/><circle cx="620.4" cy="321.4" r="2.4"/><circle cx="636.0" cy="301.9" r="2.4"/><circle cx="576.7" cy="321.3" r="2.4"/><circle cx="584.9" cy="319.8" r="2.4"/><circle cx="586.7" cy="329.2" r="2.4"/><circle cx="576.7" cy="344.1" r="2.4"/><circle cx="584.9" cy="348.6" r="2.4"/><circle cx="586.7" cy="306.3" r="2.4"/><circle cx="590.9" cy="294.9" r="2.4"/><circle cx="599.1" cy="286.9" r="2.4"/><circle cx="594.9" cy="306.8" r="2.4"/><circle cx="595.4" cy="313.0" r="2.4"/><circle cx="600.3" cy="354.1" r="2.4"/><circle cx="595.4" cy="354.0" r="2.4"/><circle cx="601.1" cy="363.5" r="2.4"/><circle cx="613.3" cy="368.5" r="2.4"/><circle cx="620.2" cy="367.8" r="2.4"/><circle cx="633.9" cy="280.2" r="2.4"/><circle cx="656.3" cy="298.1" r="2.4"/><circle cx="656.3" cy="298.1" r="2.4"/><circle cx="658.8" cy="340.4" r="2.4"/><circle cx="648.1" cy="304.3" r="2.4"/><circle cx="642.1" cy="304.3" r="2.4"/><circle cx="652.6" cy="331.7" r="2.4"/><circle cx="647.6" cy="336.7" r="2.4"/><circle cx="650.1" cy="354.1" r="2.4"/><circle cx="652.6" cy="350.4" r="2.4"/><circle cx="641.4" cy="355.3" r="2.4"/><circle cx="638.9" cy="341.7" r="2.4"/><circle cx="633.9" cy="365.3" r="2.4"/><circle cx="637.7" cy="365.3" r="2.4"/><circle cx="605.0" cy="296.0" r="2.4"/><circle cx="603.0" cy="330.0" r="2.4"/><circle cx="606.0" cy="345.0" r="2.4"/><circle cx="645.0" cy="320.0" r="2.4"/><circle cx="600.0" cy="320.0" r="2.4"/></g>
<line x1="576.70" y1="334.20" x2="658.80" y2="316.00" stroke="#ee1c1c" stroke-width="2" />
</svg></body></html>
